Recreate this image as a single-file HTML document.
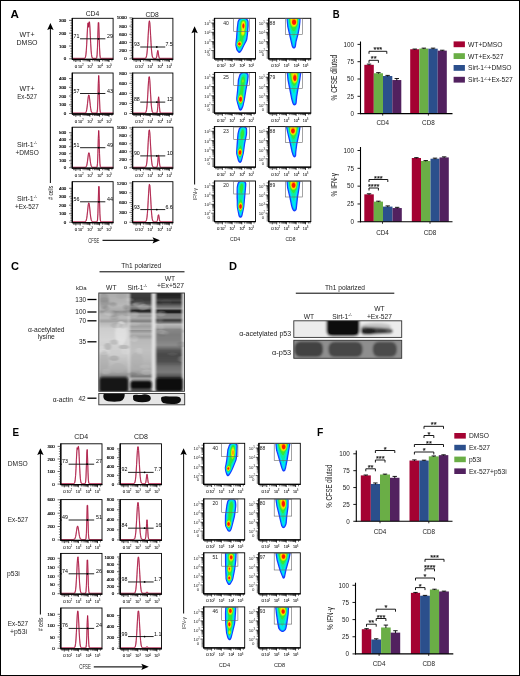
<!DOCTYPE html><html><head><meta charset="utf-8"><style>html,body{margin:0;padding:0;background:#fff}svg{display:block;will-change:transform}text{font-family:"Liberation Sans",sans-serif}</style></head><body><svg width="520" height="676" viewBox="0 0 520 676"><defs><filter id="soft" x="-20%" y="-20%" width="140%" height="140%"><feGaussianBlur stdDeviation="0.45"/></filter><linearGradient id="lg1" x1="0" y1="0" x2="0" y2="1"><stop offset="0" stop-color="#b9b9b9"/><stop offset="0.03" stop-color="#acacac"/><stop offset="0.1" stop-color="#b2b2b2"/><stop offset="0.15" stop-color="#b9b9b9"/><stop offset="0.19" stop-color="#acacac"/><stop offset="0.21" stop-color="#949494"/><stop offset="0.23" stop-color="#b4b4b4"/><stop offset="0.27" stop-color="#bababa"/><stop offset="0.3" stop-color="#a0a0a0"/><stop offset="0.32" stop-color="#bababa"/><stop offset="0.37" stop-color="#cdcdcd"/><stop offset="0.48" stop-color="#d4d4d4"/><stop offset="0.62" stop-color="#cdcdcd"/><stop offset="0.69" stop-color="#c0c0c0"/><stop offset="0.75" stop-color="#b4b4b4"/><stop offset="0.79" stop-color="#a5a5a5"/><stop offset="0.82" stop-color="#8c8c8c"/><stop offset="0.85" stop-color="#787878"/><stop offset="1" stop-color="#787878"/></linearGradient><linearGradient id="lg2" x1="0" y1="0" x2="0" y2="1"><stop offset="0" stop-color="#464646"/><stop offset="0.03" stop-color="#3e3e3e"/><stop offset="0.09" stop-color="#373737"/><stop offset="0.13" stop-color="#505050"/><stop offset="0.16" stop-color="#8c8c8c"/><stop offset="0.18" stop-color="#6e6e6e"/><stop offset="0.2" stop-color="#191919"/><stop offset="0.21" stop-color="#373737"/><stop offset="0.23" stop-color="#a5a5a5"/><stop offset="0.25" stop-color="#969696"/><stop offset="0.27" stop-color="#acacac"/><stop offset="0.3" stop-color="#7d7d7d"/><stop offset="0.32" stop-color="#afafaf"/><stop offset="0.35" stop-color="#a0a0a0"/><stop offset="0.38" stop-color="#afafaf"/><stop offset="0.39" stop-color="#919191"/><stop offset="0.42" stop-color="#b2b2b2"/><stop offset="0.45" stop-color="#a0a0a0"/><stop offset="0.48" stop-color="#b9b9b9"/><stop offset="0.58" stop-color="#c0c0c0"/><stop offset="0.67" stop-color="#b9b9b9"/><stop offset="0.77" stop-color="#aaaaaa"/><stop offset="0.81" stop-color="#919191"/><stop offset="0.83" stop-color="#787878"/><stop offset="0.85" stop-color="#aaaaaa"/><stop offset="0.87" stop-color="#c3c3c3"/><stop offset="1" stop-color="#bebebe"/></linearGradient><linearGradient id="lg3" x1="0" y1="0" x2="0" y2="1"><stop offset="0" stop-color="#282828"/><stop offset="0.03" stop-color="#202020"/><stop offset="0.07" stop-color="#262626"/><stop offset="0.1" stop-color="#464646"/><stop offset="0.12" stop-color="#303030"/><stop offset="0.15" stop-color="#646464"/><stop offset="0.18" stop-color="#8c8c8c"/><stop offset="0.2" stop-color="#141414"/><stop offset="0.22" stop-color="#282828"/><stop offset="0.23" stop-color="#7d7d7d"/><stop offset="0.27" stop-color="#878787"/><stop offset="0.29" stop-color="#373737"/><stop offset="0.31" stop-color="#696969"/><stop offset="0.33" stop-color="#b9b9b9"/><stop offset="0.36" stop-color="#a5a5a5"/><stop offset="0.38" stop-color="#878787"/><stop offset="0.43" stop-color="#7d7d7d"/><stop offset="0.48" stop-color="#808080"/><stop offset="0.53" stop-color="#8c8c8c"/><stop offset="0.58" stop-color="#585858"/><stop offset="0.62" stop-color="#484848"/><stop offset="0.69" stop-color="#505050"/><stop offset="0.74" stop-color="#707070"/><stop offset="0.79" stop-color="#7a7a7a"/><stop offset="0.82" stop-color="#5f5f5f"/><stop offset="0.84" stop-color="#505050"/><stop offset="1" stop-color="#505050"/></linearGradient><filter id="blh" x="-10%" y="-10%" width="120%" height="120%"><feGaussianBlur stdDeviation="1.3 0.55"/></filter><filter id="bl08" x="-20%" y="-20%" width="140%" height="140%"><feGaussianBlur stdDeviation="0.8"/></filter><filter id="bl1" x="-10%" y="-10%" width="120%" height="120%"><feGaussianBlur stdDeviation="1.0"/></filter><filter id="bl2" x="-20%" y="-20%" width="140%" height="140%"><feGaussianBlur stdDeviation="1.3"/></filter><filter id="bl05" x="-20%" y="-20%" width="140%" height="140%"><feGaussianBlur stdDeviation="0.6"/></filter><clipPath id="cpC"><rect x="98.8" y="293" width="85.7" height="98.3"/></clipPath><clipPath id="cpA"><rect x="98.8" y="393.5" width="85.9" height="11.3"/></clipPath><clipPath id="cpD1"><rect x="293.8" y="320.8" width="107.9" height="16.6"/></clipPath><clipPath id="cpD2"><rect x="293.8" y="340.3" width="107.9" height="18"/></clipPath></defs><rect x="0.5" y="0.5" width="519" height="675" fill="#fff" stroke="#000" stroke-width="1"/><text x="10.4" y="17.8" font-size="11.8" font-weight="bold" fill="#000" textLength="8.4" lengthAdjust="spacingAndGlyphs">A</text><text x="332.8" y="17.7" font-size="11.8" font-weight="bold" fill="#000" textLength="6.9" lengthAdjust="spacingAndGlyphs">B</text><text x="11" y="270.1" font-size="11.8" font-weight="bold" fill="#000" textLength="8" lengthAdjust="spacingAndGlyphs">C</text><text x="228.9" y="269.6" font-size="11.8" font-weight="bold" fill="#000" textLength="8" lengthAdjust="spacingAndGlyphs">D</text><text x="12.4" y="436.3" font-size="11.8" font-weight="bold" fill="#000" textLength="6.6" lengthAdjust="spacingAndGlyphs">E</text><text x="316.9" y="436.3" font-size="11.8" font-weight="bold" fill="#000" textLength="6.3" lengthAdjust="spacingAndGlyphs">F</text><polyline points="72.3,58.4 72.7,58.4 73.1,58.4 73.5,58.4 73.9,58.4 74.3,58.4 74.7,58.4 75.1,58.4 75.5,58.4 75.9,58.4 76.3,58.4 76.7,58.4 77.1,58.4 77.5,58.4 77.9,58.4 78.3,58.4 78.7,58.4 79.1,58.4 79.5,58.4 79.9,58.4 80.3,58.4 80.7,58.4 81.1,58.4 81.5,58.4 81.9,58.4 82.3,58.4 82.7,58.4 83.1,58.4 83.5,58.4 83.9,58.39 84.3,58.36 84.7,58.25 85.1,57.9 85.5,56.95 85.9,54.79 86.3,50.69 86.7,44.23 87.1,36.05 87.5,28.1 87.9,23.13 88.3,23.13 88.7,27.11 89.1,21.97 89.5,21.97 89.9,27.11 90.3,35.31 90.7,43.76 91.1,50.43 91.5,54.67 91.9,56.9 92.3,57.88 92.7,58.25 93.1,58.36 93.5,58.39 93.9,58.4 94.3,58.4 94.7,58.4 95.1,58.4 95.5,58.4 95.9,58.39 96.3,58.29 96.7,57.63 97.1,54.82 97.5,47.08 97.9,34.02 98.3,22.63 98.7,22.63 99.1,34.02 99.5,47.08 99.9,54.82 100.3,57.63 100.7,58.29 101.1,58.39 101.5,58.4 101.9,58.4 102.3,58.4 102.7,58.4 103.1,58.4 103.5,58.4 103.9,58.4 104.3,58.4 104.7,58.4 105.1,58.4 105.5,58.4 105.9,58.4 106.3,58.4 106.7,58.4 107.1,58.4 107.5,58.4 107.9,58.4 108.3,58.4 108.7,58.4 109.1,58.4 109.5,58.4 109.9,58.4 110.3,58.4 110.7,58.4 111.1,58.4 111.5,58.4 111.9,58.4 112.3,58.4 112.7,58.4 113.1,58.4" fill="none" stroke="#dc9aac" stroke-width="1.25" stroke-linejoin="round"/><polyline points="72.3,58.4 72.7,58.4 73.1,58.4 73.5,58.4 73.9,58.4 74.3,58.4 74.7,58.4 75.1,58.4 75.5,58.4 75.9,58.4 76.3,58.4 76.7,58.4 77.1,58.4 77.5,58.4 77.9,58.4 78.3,58.4 78.7,58.4 79.1,58.4 79.5,58.4 79.9,58.4 80.3,58.4 80.7,58.4 81.1,58.4 81.5,58.4 81.9,58.4 82.3,58.4 82.7,58.4 83.1,58.4 83.5,58.4 83.9,58.39 84.3,58.36 84.7,58.25 85.1,57.9 85.5,56.95 85.9,54.79 86.3,50.69 86.7,44.23 87.1,36.05 87.5,28.1 87.9,23.13 88.3,23.13 88.7,27.11 89.1,21.97 89.5,21.97 89.9,27.11 90.3,35.31 90.7,43.76 91.1,50.43 91.5,54.67 91.9,56.9 92.3,57.88 92.7,58.25 93.1,58.36 93.5,58.39 93.9,58.4 94.3,58.4 94.7,58.4 95.1,58.4 95.5,58.4 95.9,58.39 96.3,58.29 96.7,57.63 97.1,54.82 97.5,47.08 97.9,34.02 98.3,22.63 98.7,22.63 99.1,34.02 99.5,47.08 99.9,54.82 100.3,57.63 100.7,58.29 101.1,58.39 101.5,58.4 101.9,58.4 102.3,58.4 102.7,58.4 103.1,58.4 103.5,58.4 103.9,58.4 104.3,58.4 104.7,58.4 105.1,58.4 105.5,58.4 105.9,58.4 106.3,58.4 106.7,58.4 107.1,58.4 107.5,58.4 107.9,58.4 108.3,58.4 108.7,58.4 109.1,58.4 109.5,58.4 109.9,58.4 110.3,58.4 110.7,58.4 111.1,58.4 111.5,58.4 111.9,58.4 112.3,58.4 112.7,58.4 113.1,58.4" fill="none" stroke="#a80f3c" stroke-width="0.8" stroke-linejoin="round"/><rect x="72.3" y="18.3" width="40.8" height="41" fill="none" stroke="#000" stroke-width="0.9"/><line x1="72.3" y1="18" x2="72.3" y2="59.6" stroke="#000" stroke-width="1.3"/><line x1="72" y1="59.3" x2="113.4" y2="59.3" stroke="#000" stroke-width="1.3"/><line x1="80.05" y1="38.8" x2="105.35" y2="38.8" stroke="#222" stroke-width="1"/><circle cx="98.5" cy="38.8" r="0.9" fill="#000"/><circle cx="72.7" cy="38.8" r="0.6" fill="#000"/><text x="73.6" y="37.81" font-size="5.3" text-anchor="start" fill="#000">71</text><text x="113" y="37.81" font-size="5.3" text-anchor="end" fill="#000">29</text><text x="66.3" y="60.38" font-size="4.4" text-anchor="end" fill="#000" stroke="#000" stroke-width="0.18">0</text><text x="66.3" y="47.58" font-size="4.4" text-anchor="end" fill="#000" stroke="#000" stroke-width="0.18">100</text><text x="66.3" y="34.78" font-size="4.4" text-anchor="end" fill="#000" stroke="#000" stroke-width="0.18">200</text><text x="66.3" y="21.98" font-size="4.4" text-anchor="end" fill="#000" stroke="#000" stroke-width="0.18">300</text><text x="76.1" y="67.88" font-size="4.4" text-anchor="middle" fill="#111" stroke="#111" stroke-width="0.07">0</text><text x="78" y="67.88" font-size="4.4" text-anchor="start" fill="#111" stroke="#111" stroke-width="0.07" textLength="5.5" lengthAdjust="spacingAndGlyphs">10<tspan font-size="2.73" dy="-1.85">2</tspan></text><text x="87.3" y="67.88" font-size="4.4" text-anchor="start" fill="#111" stroke="#111" stroke-width="0.07" textLength="5.5" lengthAdjust="spacingAndGlyphs">10<tspan font-size="2.73" dy="-1.85">3</tspan></text><text x="97.2" y="67.88" font-size="4.4" text-anchor="start" fill="#111" stroke="#111" stroke-width="0.07" textLength="5.5" lengthAdjust="spacingAndGlyphs">10<tspan font-size="2.73" dy="-1.85">4</tspan></text><text x="106.3" y="67.88" font-size="4.4" text-anchor="start" fill="#111" stroke="#111" stroke-width="0.07" textLength="5.5" lengthAdjust="spacingAndGlyphs">10<tspan font-size="2.73" dy="-1.85">5</tspan></text><polyline points="132.6,58.4 133,58.4 133.4,58.4 133.8,58.4 134.2,58.4 134.6,58.4 135,58.4 135.4,58.4 135.8,58.4 136.2,58.4 136.6,58.4 137,58.4 137.4,58.4 137.8,58.4 138.2,58.4 138.6,58.4 139,58.4 139.4,58.4 139.8,58.4 140.2,58.4 140.6,58.4 141,58.4 141.4,58.4 141.8,58.4 142.2,58.4 142.6,58.4 143,58.4 143.4,58.4 143.8,58.4 144.2,58.4 144.6,58.38 145,58.35 145.4,58.23 145.8,57.93 146.2,57.22 146.6,55.75 147,53.05 147.4,48.7 147.8,42.61 148.2,35.34 148.6,28.18 149,22.85 149.4,20.88 149.8,22.85 150.2,28.18 150.6,35.34 151,42.61 151.4,48.7 151.8,53.05 152.2,55.75 152.6,57.22 153,57.93 153.4,58.23 153.8,58.35 154.2,58.38 154.6,58.4 155,58.4 155.4,58.4 155.8,58.36 156.2,58.15 156.6,57.27 157,55.08 157.4,52.04 157.8,50.5 158.2,52.04 158.6,55.08 159,57.27 159.4,58.15 159.8,58.36 160.2,58.4 160.6,58.4 161,58.4 161.4,58.4 161.8,58.4 162.2,58.4 162.6,58.4 163,58.4 163.4,58.4 163.8,58.4 164.2,58.4 164.6,58.4 165,58.4 165.4,58.4 165.8,58.4 166.2,58.4 166.6,58.4 167,58.4 167.4,58.4 167.8,58.4 168.2,58.4 168.6,58.4 169,58.4 169.4,58.4 169.8,58.4 170.2,58.4 170.6,58.4 171,58.4 171.4,58.4 171.8,58.4 172.2,58.4 172.6,58.4" fill="none" stroke="#dc9aac" stroke-width="1.25" stroke-linejoin="round"/><polyline points="132.6,58.4 133,58.4 133.4,58.4 133.8,58.4 134.2,58.4 134.6,58.4 135,58.4 135.4,58.4 135.8,58.4 136.2,58.4 136.6,58.4 137,58.4 137.4,58.4 137.8,58.4 138.2,58.4 138.6,58.4 139,58.4 139.4,58.4 139.8,58.4 140.2,58.4 140.6,58.4 141,58.4 141.4,58.4 141.8,58.4 142.2,58.4 142.6,58.4 143,58.4 143.4,58.4 143.8,58.4 144.2,58.4 144.6,58.38 145,58.35 145.4,58.23 145.8,57.93 146.2,57.22 146.6,55.75 147,53.05 147.4,48.7 147.8,42.61 148.2,35.34 148.6,28.18 149,22.85 149.4,20.88 149.8,22.85 150.2,28.18 150.6,35.34 151,42.61 151.4,48.7 151.8,53.05 152.2,55.75 152.6,57.22 153,57.93 153.4,58.23 153.8,58.35 154.2,58.38 154.6,58.4 155,58.4 155.4,58.4 155.8,58.36 156.2,58.15 156.6,57.27 157,55.08 157.4,52.04 157.8,50.5 158.2,52.04 158.6,55.08 159,57.27 159.4,58.15 159.8,58.36 160.2,58.4 160.6,58.4 161,58.4 161.4,58.4 161.8,58.4 162.2,58.4 162.6,58.4 163,58.4 163.4,58.4 163.8,58.4 164.2,58.4 164.6,58.4 165,58.4 165.4,58.4 165.8,58.4 166.2,58.4 166.6,58.4 167,58.4 167.4,58.4 167.8,58.4 168.2,58.4 168.6,58.4 169,58.4 169.4,58.4 169.8,58.4 170.2,58.4 170.6,58.4 171,58.4 171.4,58.4 171.8,58.4 172.2,58.4 172.6,58.4" fill="none" stroke="#a80f3c" stroke-width="0.8" stroke-linejoin="round"/><rect x="132.6" y="18.3" width="40.3" height="41" fill="none" stroke="#000" stroke-width="0.9"/><line x1="132.6" y1="18" x2="132.6" y2="59.6" stroke="#000" stroke-width="1.3"/><line x1="132.3" y1="59.3" x2="173.2" y2="59.3" stroke="#000" stroke-width="1.3"/><line x1="140.26" y1="47" x2="165.24" y2="47" stroke="#222" stroke-width="1"/><circle cx="156.8" cy="47" r="0.9" fill="#000"/><circle cx="133" cy="47" r="0.6" fill="#000"/><text x="133.9" y="46.01" font-size="5.3" text-anchor="start" fill="#000">93</text><text x="172.8" y="46.01" font-size="5.3" text-anchor="end" fill="#000">7.5</text><text x="126.6" y="60.38" font-size="4.4" text-anchor="end" fill="#000" stroke="#000" stroke-width="0.18">0</text><text x="126.6" y="52.2" font-size="4.4" text-anchor="end" fill="#000" stroke="#000" stroke-width="0.18">200</text><text x="126.6" y="44.02" font-size="4.4" text-anchor="end" fill="#000" stroke="#000" stroke-width="0.18">400</text><text x="126.6" y="35.84" font-size="4.4" text-anchor="end" fill="#000" stroke="#000" stroke-width="0.18">600</text><text x="126.6" y="27.66" font-size="4.4" text-anchor="end" fill="#000" stroke="#000" stroke-width="0.18">800</text><text x="126.6" y="19.48" font-size="4.4" text-anchor="end" fill="#000" stroke="#000" stroke-width="0.18">1000</text><text x="136.4" y="67.88" font-size="4.4" text-anchor="middle" fill="#111" stroke="#111" stroke-width="0.07">0</text><text x="138.3" y="67.88" font-size="4.4" text-anchor="start" fill="#111" stroke="#111" stroke-width="0.07" textLength="5.5" lengthAdjust="spacingAndGlyphs">10<tspan font-size="2.73" dy="-1.85">2</tspan></text><text x="147.6" y="67.88" font-size="4.4" text-anchor="start" fill="#111" stroke="#111" stroke-width="0.07" textLength="5.5" lengthAdjust="spacingAndGlyphs">10<tspan font-size="2.73" dy="-1.85">3</tspan></text><text x="157.5" y="67.88" font-size="4.4" text-anchor="start" fill="#111" stroke="#111" stroke-width="0.07" textLength="5.5" lengthAdjust="spacingAndGlyphs">10<tspan font-size="2.73" dy="-1.85">4</tspan></text><text x="166.6" y="67.88" font-size="4.4" text-anchor="start" fill="#111" stroke="#111" stroke-width="0.07" textLength="5.5" lengthAdjust="spacingAndGlyphs">10<tspan font-size="2.73" dy="-1.85">5</tspan></text><polyline points="72.3,113.1 72.7,113.1 73.1,113.1 73.5,113.1 73.9,113.1 74.3,113.1 74.7,113.1 75.1,113.1 75.5,113.1 75.9,113.1 76.3,113.1 76.7,113.1 77.1,113.1 77.5,113.1 77.9,113.1 78.3,113.1 78.7,113.1 79.1,113.1 79.5,113.1 79.9,113.1 80.3,113.1 80.7,113.1 81.1,113.1 81.5,113.1 81.9,113.1 82.3,113.1 82.7,113.1 83.1,113.1 83.5,113.1 83.9,113.1 84.3,113.09 84.7,113.07 85.1,113.01 85.5,112.82 85.9,112.39 86.3,111.46 86.7,109.77 87.1,107.12 87.5,103.62 87.9,99.8 88.3,96.6 88.7,95 89.1,95.55 89.5,98.05 89.9,101.69 90.3,105.45 90.7,108.57 91.1,110.73 91.5,112 91.9,112.65 92.3,112.94 92.7,113.05 93.1,113.09 93.5,113.1 93.9,113.1 94.3,113.1 94.7,113.1 95.1,113.1 95.5,113.1 95.9,113.1 96.3,113.09 96.7,113.02 97.1,112.37 97.5,109.01 97.9,99.09 98.3,83.77 98.7,75.57 99.1,83.77 99.5,99.09 99.9,109.01 100.3,112.37 100.7,113.02 101.1,113.09 101.5,113.1 101.9,113.1 102.3,113.1 102.7,113.1 103.1,113.1 103.5,113.1 103.9,113.1 104.3,113.1 104.7,113.1 105.1,113.1 105.5,113.1 105.9,113.1 106.3,113.1 106.7,113.1 107.1,113.1 107.5,113.1 107.9,113.1 108.3,113.1 108.7,113.1 109.1,113.1 109.5,113.1 109.9,113.1 110.3,113.1 110.7,113.1 111.1,113.1 111.5,113.1 111.9,113.1 112.3,113.1 112.7,113.1 113.1,113.1" fill="none" stroke="#dc9aac" stroke-width="1.25" stroke-linejoin="round"/><polyline points="72.3,113.1 72.7,113.1 73.1,113.1 73.5,113.1 73.9,113.1 74.3,113.1 74.7,113.1 75.1,113.1 75.5,113.1 75.9,113.1 76.3,113.1 76.7,113.1 77.1,113.1 77.5,113.1 77.9,113.1 78.3,113.1 78.7,113.1 79.1,113.1 79.5,113.1 79.9,113.1 80.3,113.1 80.7,113.1 81.1,113.1 81.5,113.1 81.9,113.1 82.3,113.1 82.7,113.1 83.1,113.1 83.5,113.1 83.9,113.1 84.3,113.09 84.7,113.07 85.1,113.01 85.5,112.82 85.9,112.39 86.3,111.46 86.7,109.77 87.1,107.12 87.5,103.62 87.9,99.8 88.3,96.6 88.7,95 89.1,95.55 89.5,98.05 89.9,101.69 90.3,105.45 90.7,108.57 91.1,110.73 91.5,112 91.9,112.65 92.3,112.94 92.7,113.05 93.1,113.09 93.5,113.1 93.9,113.1 94.3,113.1 94.7,113.1 95.1,113.1 95.5,113.1 95.9,113.1 96.3,113.09 96.7,113.02 97.1,112.37 97.5,109.01 97.9,99.09 98.3,83.77 98.7,75.57 99.1,83.77 99.5,99.09 99.9,109.01 100.3,112.37 100.7,113.02 101.1,113.09 101.5,113.1 101.9,113.1 102.3,113.1 102.7,113.1 103.1,113.1 103.5,113.1 103.9,113.1 104.3,113.1 104.7,113.1 105.1,113.1 105.5,113.1 105.9,113.1 106.3,113.1 106.7,113.1 107.1,113.1 107.5,113.1 107.9,113.1 108.3,113.1 108.7,113.1 109.1,113.1 109.5,113.1 109.9,113.1 110.3,113.1 110.7,113.1 111.1,113.1 111.5,113.1 111.9,113.1 112.3,113.1 112.7,113.1 113.1,113.1" fill="none" stroke="#a80f3c" stroke-width="0.8" stroke-linejoin="round"/><rect x="72.3" y="73" width="40.8" height="41" fill="none" stroke="#000" stroke-width="0.9"/><line x1="72.3" y1="72.7" x2="72.3" y2="114.3" stroke="#000" stroke-width="1.3"/><line x1="72" y1="114" x2="113.4" y2="114" stroke="#000" stroke-width="1.3"/><line x1="80.05" y1="93.5" x2="105.35" y2="93.5" stroke="#222" stroke-width="1"/><circle cx="98.7" cy="93.5" r="0.9" fill="#000"/><circle cx="72.7" cy="93.5" r="0.6" fill="#000"/><text x="73.6" y="92.51" font-size="5.3" text-anchor="start" fill="#000">57</text><text x="113" y="92.51" font-size="5.3" text-anchor="end" fill="#000">43</text><text x="66.3" y="115.08" font-size="4.4" text-anchor="end" fill="#000" stroke="#000" stroke-width="0.18">0</text><text x="66.3" y="106.36" font-size="4.4" text-anchor="end" fill="#000" stroke="#000" stroke-width="0.18">100</text><text x="66.3" y="97.63" font-size="4.4" text-anchor="end" fill="#000" stroke="#000" stroke-width="0.18">200</text><text x="66.3" y="88.91" font-size="4.4" text-anchor="end" fill="#000" stroke="#000" stroke-width="0.18">300</text><text x="66.3" y="80.18" font-size="4.4" text-anchor="end" fill="#000" stroke="#000" stroke-width="0.18">400</text><text x="76.1" y="122.58" font-size="4.4" text-anchor="middle" fill="#111" stroke="#111" stroke-width="0.07">0</text><text x="78" y="122.58" font-size="4.4" text-anchor="start" fill="#111" stroke="#111" stroke-width="0.07" textLength="5.5" lengthAdjust="spacingAndGlyphs">10<tspan font-size="2.73" dy="-1.85">2</tspan></text><text x="87.3" y="122.58" font-size="4.4" text-anchor="start" fill="#111" stroke="#111" stroke-width="0.07" textLength="5.5" lengthAdjust="spacingAndGlyphs">10<tspan font-size="2.73" dy="-1.85">3</tspan></text><text x="97.2" y="122.58" font-size="4.4" text-anchor="start" fill="#111" stroke="#111" stroke-width="0.07" textLength="5.5" lengthAdjust="spacingAndGlyphs">10<tspan font-size="2.73" dy="-1.85">4</tspan></text><text x="106.3" y="122.58" font-size="4.4" text-anchor="start" fill="#111" stroke="#111" stroke-width="0.07" textLength="5.5" lengthAdjust="spacingAndGlyphs">10<tspan font-size="2.73" dy="-1.85">5</tspan></text><polyline points="132.6,113.1 133,113.1 133.4,113.1 133.8,113.1 134.2,113.1 134.6,113.1 135,113.1 135.4,113.1 135.8,113.1 136.2,113.1 136.6,113.1 137,113.1 137.4,113.1 137.8,113.1 138.2,113.1 138.6,113.1 139,113.1 139.4,113.1 139.8,113.1 140.2,113.1 140.6,113.1 141,113.1 141.4,113.1 141.8,113.1 142.2,113.1 142.6,113.1 143,113.1 143.4,113.1 143.8,113.1 144.2,113.09 144.6,113.07 145,113.01 145.4,112.82 145.8,112.36 146.2,111.35 146.6,109.36 147,105.95 147.4,100.82 147.8,94.17 148.2,86.9 148.6,80.58 149,76.86 149.4,76.86 149.8,80.58 150.2,86.9 150.6,94.17 151,100.82 151.4,105.95 151.8,109.36 152.2,111.35 152.6,112.36 153,112.82 153.4,113.01 153.8,113.07 154.2,113.09 154.6,113.1 155,113.1 155.4,113.1 155.8,113.1 156.2,113.09 156.6,113.03 157,112.59 157.4,110.79 157.8,106.29 158.2,100.06 158.6,96.91 159,100.06 159.4,106.29 159.8,110.79 160.2,112.59 160.6,113.03 161,113.09 161.4,113.1 161.8,113.1 162.2,113.1 162.6,113.1 163,113.1 163.4,113.1 163.8,113.1 164.2,113.1 164.6,113.1 165,113.1 165.4,113.1 165.8,113.1 166.2,113.1 166.6,113.1 167,113.1 167.4,113.1 167.8,113.1 168.2,113.1 168.6,113.1 169,113.1 169.4,113.1 169.8,113.1 170.2,113.1 170.6,113.1 171,113.1 171.4,113.1 171.8,113.1 172.2,113.1 172.6,113.1" fill="none" stroke="#dc9aac" stroke-width="1.25" stroke-linejoin="round"/><polyline points="132.6,113.1 133,113.1 133.4,113.1 133.8,113.1 134.2,113.1 134.6,113.1 135,113.1 135.4,113.1 135.8,113.1 136.2,113.1 136.6,113.1 137,113.1 137.4,113.1 137.8,113.1 138.2,113.1 138.6,113.1 139,113.1 139.4,113.1 139.8,113.1 140.2,113.1 140.6,113.1 141,113.1 141.4,113.1 141.8,113.1 142.2,113.1 142.6,113.1 143,113.1 143.4,113.1 143.8,113.1 144.2,113.09 144.6,113.07 145,113.01 145.4,112.82 145.8,112.36 146.2,111.35 146.6,109.36 147,105.95 147.4,100.82 147.8,94.17 148.2,86.9 148.6,80.58 149,76.86 149.4,76.86 149.8,80.58 150.2,86.9 150.6,94.17 151,100.82 151.4,105.95 151.8,109.36 152.2,111.35 152.6,112.36 153,112.82 153.4,113.01 153.8,113.07 154.2,113.09 154.6,113.1 155,113.1 155.4,113.1 155.8,113.1 156.2,113.09 156.6,113.03 157,112.59 157.4,110.79 157.8,106.29 158.2,100.06 158.6,96.91 159,100.06 159.4,106.29 159.8,110.79 160.2,112.59 160.6,113.03 161,113.09 161.4,113.1 161.8,113.1 162.2,113.1 162.6,113.1 163,113.1 163.4,113.1 163.8,113.1 164.2,113.1 164.6,113.1 165,113.1 165.4,113.1 165.8,113.1 166.2,113.1 166.6,113.1 167,113.1 167.4,113.1 167.8,113.1 168.2,113.1 168.6,113.1 169,113.1 169.4,113.1 169.8,113.1 170.2,113.1 170.6,113.1 171,113.1 171.4,113.1 171.8,113.1 172.2,113.1 172.6,113.1" fill="none" stroke="#a80f3c" stroke-width="0.8" stroke-linejoin="round"/><rect x="132.6" y="73" width="40.3" height="41" fill="none" stroke="#000" stroke-width="0.9"/><line x1="132.6" y1="72.7" x2="132.6" y2="114.3" stroke="#000" stroke-width="1.3"/><line x1="132.3" y1="114" x2="173.2" y2="114" stroke="#000" stroke-width="1.3"/><line x1="140.26" y1="102.11" x2="165.24" y2="102.11" stroke="#222" stroke-width="1"/><circle cx="156.8" cy="102.11" r="0.9" fill="#000"/><circle cx="133" cy="102.11" r="0.6" fill="#000"/><text x="133.9" y="101.12" font-size="5.3" text-anchor="start" fill="#000">88</text><text x="172.8" y="101.12" font-size="5.3" text-anchor="end" fill="#000">12</text><text x="126.6" y="115.08" font-size="4.4" text-anchor="end" fill="#000" stroke="#000" stroke-width="0.18">0</text><text x="126.6" y="105.01" font-size="4.4" text-anchor="end" fill="#000" stroke="#000" stroke-width="0.18">200</text><text x="126.6" y="94.93" font-size="4.4" text-anchor="end" fill="#000" stroke="#000" stroke-width="0.18">400</text><text x="126.6" y="84.86" font-size="4.4" text-anchor="end" fill="#000" stroke="#000" stroke-width="0.18">600</text><text x="126.6" y="74.78" font-size="4.4" text-anchor="end" fill="#000" stroke="#000" stroke-width="0.18">800</text><text x="136.4" y="122.58" font-size="4.4" text-anchor="middle" fill="#111" stroke="#111" stroke-width="0.07">0</text><text x="138.3" y="122.58" font-size="4.4" text-anchor="start" fill="#111" stroke="#111" stroke-width="0.07" textLength="5.5" lengthAdjust="spacingAndGlyphs">10<tspan font-size="2.73" dy="-1.85">2</tspan></text><text x="147.6" y="122.58" font-size="4.4" text-anchor="start" fill="#111" stroke="#111" stroke-width="0.07" textLength="5.5" lengthAdjust="spacingAndGlyphs">10<tspan font-size="2.73" dy="-1.85">3</tspan></text><text x="157.5" y="122.58" font-size="4.4" text-anchor="start" fill="#111" stroke="#111" stroke-width="0.07" textLength="5.5" lengthAdjust="spacingAndGlyphs">10<tspan font-size="2.73" dy="-1.85">4</tspan></text><text x="166.6" y="122.58" font-size="4.4" text-anchor="start" fill="#111" stroke="#111" stroke-width="0.07" textLength="5.5" lengthAdjust="spacingAndGlyphs">10<tspan font-size="2.73" dy="-1.85">5</tspan></text><polyline points="72.3,167.3 72.7,167.3 73.1,167.3 73.5,167.3 73.9,167.3 74.3,167.3 74.7,167.3 75.1,167.3 75.5,167.3 75.9,167.3 76.3,167.3 76.7,167.3 77.1,167.3 77.5,167.3 77.9,167.3 78.3,167.3 78.7,167.3 79.1,167.3 79.5,167.3 79.9,167.3 80.3,167.3 80.7,167.3 81.1,167.3 81.5,167.3 81.9,167.3 82.3,167.3 82.7,167.3 83.1,167.3 83.5,167.3 83.9,167.3 84.3,167.3 84.7,167.29 85.1,167.28 85.5,167.21 85.9,167.03 86.3,166.56 86.7,165.58 87.1,163.81 87.5,161.15 87.9,157.9 88.3,154.83 88.7,152.94 89.1,152.94 89.5,154.83 89.9,157.9 90.3,161.15 90.7,163.81 91.1,165.58 91.5,166.56 91.9,167.03 92.3,167.21 92.7,167.28 93.1,167.29 93.5,167.3 93.9,167.3 94.3,167.3 94.7,167.3 95.1,167.3 95.5,167.3 95.9,167.3 96.3,167.29 96.7,167.22 97.1,166.59 97.5,163.29 97.9,153.58 98.3,138.58 98.7,130.56 99.1,138.58 99.5,153.58 99.9,163.29 100.3,166.59 100.7,167.22 101.1,167.29 101.5,167.3 101.9,167.3 102.3,167.3 102.7,167.3 103.1,167.3 103.5,167.3 103.9,167.3 104.3,167.3 104.7,167.3 105.1,167.3 105.5,167.3 105.9,167.3 106.3,167.3 106.7,167.3 107.1,167.3 107.5,167.3 107.9,167.3 108.3,167.3 108.7,167.3 109.1,167.3 109.5,167.3 109.9,167.3 110.3,167.3 110.7,167.3 111.1,167.3 111.5,167.3 111.9,167.3 112.3,167.3 112.7,167.3 113.1,167.3" fill="none" stroke="#dc9aac" stroke-width="1.25" stroke-linejoin="round"/><polyline points="72.3,167.3 72.7,167.3 73.1,167.3 73.5,167.3 73.9,167.3 74.3,167.3 74.7,167.3 75.1,167.3 75.5,167.3 75.9,167.3 76.3,167.3 76.7,167.3 77.1,167.3 77.5,167.3 77.9,167.3 78.3,167.3 78.7,167.3 79.1,167.3 79.5,167.3 79.9,167.3 80.3,167.3 80.7,167.3 81.1,167.3 81.5,167.3 81.9,167.3 82.3,167.3 82.7,167.3 83.1,167.3 83.5,167.3 83.9,167.3 84.3,167.3 84.7,167.29 85.1,167.28 85.5,167.21 85.9,167.03 86.3,166.56 86.7,165.58 87.1,163.81 87.5,161.15 87.9,157.9 88.3,154.83 88.7,152.94 89.1,152.94 89.5,154.83 89.9,157.9 90.3,161.15 90.7,163.81 91.1,165.58 91.5,166.56 91.9,167.03 92.3,167.21 92.7,167.28 93.1,167.29 93.5,167.3 93.9,167.3 94.3,167.3 94.7,167.3 95.1,167.3 95.5,167.3 95.9,167.3 96.3,167.29 96.7,167.22 97.1,166.59 97.5,163.29 97.9,153.58 98.3,138.58 98.7,130.56 99.1,138.58 99.5,153.58 99.9,163.29 100.3,166.59 100.7,167.22 101.1,167.29 101.5,167.3 101.9,167.3 102.3,167.3 102.7,167.3 103.1,167.3 103.5,167.3 103.9,167.3 104.3,167.3 104.7,167.3 105.1,167.3 105.5,167.3 105.9,167.3 106.3,167.3 106.7,167.3 107.1,167.3 107.5,167.3 107.9,167.3 108.3,167.3 108.7,167.3 109.1,167.3 109.5,167.3 109.9,167.3 110.3,167.3 110.7,167.3 111.1,167.3 111.5,167.3 111.9,167.3 112.3,167.3 112.7,167.3 113.1,167.3" fill="none" stroke="#a80f3c" stroke-width="0.8" stroke-linejoin="round"/><rect x="72.3" y="127.2" width="40.8" height="41" fill="none" stroke="#000" stroke-width="0.9"/><line x1="72.3" y1="126.9" x2="72.3" y2="168.5" stroke="#000" stroke-width="1.3"/><line x1="72" y1="168.2" x2="113.4" y2="168.2" stroke="#000" stroke-width="1.3"/><line x1="80.05" y1="147.7" x2="105.35" y2="147.7" stroke="#222" stroke-width="1"/><circle cx="98.7" cy="147.7" r="0.9" fill="#000"/><circle cx="72.7" cy="147.7" r="0.6" fill="#000"/><text x="73.6" y="146.71" font-size="5.3" text-anchor="start" fill="#000">51</text><text x="113" y="146.71" font-size="5.3" text-anchor="end" fill="#000">49</text><text x="66.3" y="169.28" font-size="4.4" text-anchor="end" fill="#000" stroke="#000" stroke-width="0.18">0</text><text x="66.3" y="162.28" font-size="4.4" text-anchor="end" fill="#000" stroke="#000" stroke-width="0.18">100</text><text x="66.3" y="155.28" font-size="4.4" text-anchor="end" fill="#000" stroke="#000" stroke-width="0.18">200</text><text x="66.3" y="148.28" font-size="4.4" text-anchor="end" fill="#000" stroke="#000" stroke-width="0.18">300</text><text x="66.3" y="141.28" font-size="4.4" text-anchor="end" fill="#000" stroke="#000" stroke-width="0.18">400</text><text x="66.3" y="134.28" font-size="4.4" text-anchor="end" fill="#000" stroke="#000" stroke-width="0.18">500</text><text x="76.1" y="176.78" font-size="4.4" text-anchor="middle" fill="#111" stroke="#111" stroke-width="0.07">0</text><text x="78" y="176.78" font-size="4.4" text-anchor="start" fill="#111" stroke="#111" stroke-width="0.07" textLength="5.5" lengthAdjust="spacingAndGlyphs">10<tspan font-size="2.73" dy="-1.85">2</tspan></text><text x="87.3" y="176.78" font-size="4.4" text-anchor="start" fill="#111" stroke="#111" stroke-width="0.07" textLength="5.5" lengthAdjust="spacingAndGlyphs">10<tspan font-size="2.73" dy="-1.85">3</tspan></text><text x="97.2" y="176.78" font-size="4.4" text-anchor="start" fill="#111" stroke="#111" stroke-width="0.07" textLength="5.5" lengthAdjust="spacingAndGlyphs">10<tspan font-size="2.73" dy="-1.85">4</tspan></text><text x="106.3" y="176.78" font-size="4.4" text-anchor="start" fill="#111" stroke="#111" stroke-width="0.07" textLength="5.5" lengthAdjust="spacingAndGlyphs">10<tspan font-size="2.73" dy="-1.85">5</tspan></text><polyline points="132.6,167.3 133,167.3 133.4,167.3 133.8,167.3 134.2,167.3 134.6,167.3 135,167.3 135.4,167.3 135.8,167.3 136.2,167.3 136.6,167.3 137,167.3 137.4,167.3 137.8,167.3 138.2,167.3 138.6,167.3 139,167.3 139.4,167.3 139.8,167.3 140.2,167.3 140.6,167.3 141,167.3 141.4,167.3 141.8,167.3 142.2,167.3 142.6,167.3 143,167.3 143.4,167.3 143.8,167.3 144.2,167.29 144.6,167.28 145,167.23 145.4,167.08 145.8,166.7 146.2,165.84 146.6,164.11 147,161.03 147.4,156.23 147.8,149.77 148.2,142.38 148.6,135.5 149,130.9 149.4,129.9 149.8,132.82 150.2,138.77 150.6,146.11 151,153.18 151.4,158.85 151.8,162.77 152.2,165.12 152.6,166.36 153,166.93 153.4,167.17 153.8,167.26 154.2,167.29 154.6,167.3 155,167.3 155.4,167.3 155.8,167.3 156.2,167.29 156.6,167.25 157,166.92 157.4,165.55 157.8,162.15 158.2,157.44 158.6,155.05 159,157.44 159.4,162.15 159.8,165.55 160.2,166.92 160.6,167.25 161,167.29 161.4,167.3 161.8,167.3 162.2,167.3 162.6,167.3 163,167.3 163.4,167.3 163.8,167.3 164.2,167.3 164.6,167.3 165,167.3 165.4,167.3 165.8,167.3 166.2,167.3 166.6,167.3 167,167.3 167.4,167.3 167.8,167.3 168.2,167.3 168.6,167.3 169,167.3 169.4,167.3 169.8,167.3 170.2,167.3 170.6,167.3 171,167.3 171.4,167.3 171.8,167.3 172.2,167.3 172.6,167.3" fill="none" stroke="#dc9aac" stroke-width="1.25" stroke-linejoin="round"/><polyline points="132.6,167.3 133,167.3 133.4,167.3 133.8,167.3 134.2,167.3 134.6,167.3 135,167.3 135.4,167.3 135.8,167.3 136.2,167.3 136.6,167.3 137,167.3 137.4,167.3 137.8,167.3 138.2,167.3 138.6,167.3 139,167.3 139.4,167.3 139.8,167.3 140.2,167.3 140.6,167.3 141,167.3 141.4,167.3 141.8,167.3 142.2,167.3 142.6,167.3 143,167.3 143.4,167.3 143.8,167.3 144.2,167.29 144.6,167.28 145,167.23 145.4,167.08 145.8,166.7 146.2,165.84 146.6,164.11 147,161.03 147.4,156.23 147.8,149.77 148.2,142.38 148.6,135.5 149,130.9 149.4,129.9 149.8,132.82 150.2,138.77 150.6,146.11 151,153.18 151.4,158.85 151.8,162.77 152.2,165.12 152.6,166.36 153,166.93 153.4,167.17 153.8,167.26 154.2,167.29 154.6,167.3 155,167.3 155.4,167.3 155.8,167.3 156.2,167.29 156.6,167.25 157,166.92 157.4,165.55 157.8,162.15 158.2,157.44 158.6,155.05 159,157.44 159.4,162.15 159.8,165.55 160.2,166.92 160.6,167.25 161,167.29 161.4,167.3 161.8,167.3 162.2,167.3 162.6,167.3 163,167.3 163.4,167.3 163.8,167.3 164.2,167.3 164.6,167.3 165,167.3 165.4,167.3 165.8,167.3 166.2,167.3 166.6,167.3 167,167.3 167.4,167.3 167.8,167.3 168.2,167.3 168.6,167.3 169,167.3 169.4,167.3 169.8,167.3 170.2,167.3 170.6,167.3 171,167.3 171.4,167.3 171.8,167.3 172.2,167.3 172.6,167.3" fill="none" stroke="#a80f3c" stroke-width="0.8" stroke-linejoin="round"/><rect x="132.6" y="127.2" width="40.3" height="41" fill="none" stroke="#000" stroke-width="0.9"/><line x1="132.6" y1="126.9" x2="132.6" y2="168.5" stroke="#000" stroke-width="1.3"/><line x1="132.3" y1="168.2" x2="173.2" y2="168.2" stroke="#000" stroke-width="1.3"/><line x1="140.26" y1="155.9" x2="165.24" y2="155.9" stroke="#222" stroke-width="1"/><circle cx="156.8" cy="155.9" r="0.9" fill="#000"/><circle cx="133" cy="155.9" r="0.6" fill="#000"/><text x="133.9" y="154.91" font-size="5.3" text-anchor="start" fill="#000">90</text><text x="172.8" y="154.91" font-size="5.3" text-anchor="end" fill="#000">10</text><text x="126.6" y="169.28" font-size="4.4" text-anchor="end" fill="#000" stroke="#000" stroke-width="0.18">0</text><text x="126.6" y="161.32" font-size="4.4" text-anchor="end" fill="#000" stroke="#000" stroke-width="0.18">200</text><text x="126.6" y="153.36" font-size="4.4" text-anchor="end" fill="#000" stroke="#000" stroke-width="0.18">400</text><text x="126.6" y="145.4" font-size="4.4" text-anchor="end" fill="#000" stroke="#000" stroke-width="0.18">600</text><text x="126.6" y="137.44" font-size="4.4" text-anchor="end" fill="#000" stroke="#000" stroke-width="0.18">800</text><text x="126.6" y="129.48" font-size="4.4" text-anchor="end" fill="#000" stroke="#000" stroke-width="0.18">1000</text><text x="136.4" y="176.78" font-size="4.4" text-anchor="middle" fill="#111" stroke="#111" stroke-width="0.07">0</text><text x="138.3" y="176.78" font-size="4.4" text-anchor="start" fill="#111" stroke="#111" stroke-width="0.07" textLength="5.5" lengthAdjust="spacingAndGlyphs">10<tspan font-size="2.73" dy="-1.85">2</tspan></text><text x="147.6" y="176.78" font-size="4.4" text-anchor="start" fill="#111" stroke="#111" stroke-width="0.07" textLength="5.5" lengthAdjust="spacingAndGlyphs">10<tspan font-size="2.73" dy="-1.85">3</tspan></text><text x="157.5" y="176.78" font-size="4.4" text-anchor="start" fill="#111" stroke="#111" stroke-width="0.07" textLength="5.5" lengthAdjust="spacingAndGlyphs">10<tspan font-size="2.73" dy="-1.85">4</tspan></text><text x="166.6" y="176.78" font-size="4.4" text-anchor="start" fill="#111" stroke="#111" stroke-width="0.07" textLength="5.5" lengthAdjust="spacingAndGlyphs">10<tspan font-size="2.73" dy="-1.85">5</tspan></text><polyline points="72.3,221.8 72.7,221.8 73.1,221.8 73.5,221.8 73.9,221.8 74.3,221.8 74.7,221.8 75.1,221.8 75.5,221.8 75.9,221.8 76.3,221.8 76.7,221.8 77.1,221.8 77.5,221.8 77.9,221.8 78.3,221.8 78.7,221.8 79.1,221.8 79.5,221.8 79.9,221.8 80.3,221.8 80.7,221.8 81.1,221.8 81.5,221.8 81.9,221.8 82.3,221.8 82.7,221.8 83.1,221.8 83.5,221.8 83.9,221.8 84.3,221.79 84.7,221.77 85.1,221.7 85.5,221.51 85.9,221.05 86.3,220.09 86.7,218.32 87.1,215.56 87.5,211.9 87.9,207.92 88.3,204.58 88.7,202.91 89.1,203.49 89.5,206.1 89.9,209.9 90.3,213.82 90.7,217.07 91.1,219.32 91.5,220.65 91.9,221.33 92.3,221.63 92.7,221.75 93.1,221.78 93.5,221.8 93.9,221.8 94.3,221.8 94.7,221.8 95.1,221.8 95.5,221.8 95.9,221.8 96.3,221.8 96.7,221.78 97.1,221.54 97.5,219.96 97.9,213.75 98.3,200.24 98.7,186.52 99.1,186.52 99.5,200.24 99.9,213.75 100.3,219.96 100.7,221.54 101.1,221.78 101.5,221.8 101.9,221.8 102.3,221.8 102.7,221.8 103.1,221.8 103.5,221.8 103.9,221.8 104.3,221.8 104.7,221.8 105.1,221.8 105.5,221.8 105.9,221.8 106.3,221.8 106.7,221.8 107.1,221.8 107.5,221.8 107.9,221.8 108.3,221.8 108.7,221.8 109.1,221.8 109.5,221.8 109.9,221.8 110.3,221.8 110.7,221.8 111.1,221.8 111.5,221.8 111.9,221.8 112.3,221.8 112.7,221.8 113.1,221.8" fill="none" stroke="#dc9aac" stroke-width="1.25" stroke-linejoin="round"/><polyline points="72.3,221.8 72.7,221.8 73.1,221.8 73.5,221.8 73.9,221.8 74.3,221.8 74.7,221.8 75.1,221.8 75.5,221.8 75.9,221.8 76.3,221.8 76.7,221.8 77.1,221.8 77.5,221.8 77.9,221.8 78.3,221.8 78.7,221.8 79.1,221.8 79.5,221.8 79.9,221.8 80.3,221.8 80.7,221.8 81.1,221.8 81.5,221.8 81.9,221.8 82.3,221.8 82.7,221.8 83.1,221.8 83.5,221.8 83.9,221.8 84.3,221.79 84.7,221.77 85.1,221.7 85.5,221.51 85.9,221.05 86.3,220.09 86.7,218.32 87.1,215.56 87.5,211.9 87.9,207.92 88.3,204.58 88.7,202.91 89.1,203.49 89.5,206.1 89.9,209.9 90.3,213.82 90.7,217.07 91.1,219.32 91.5,220.65 91.9,221.33 92.3,221.63 92.7,221.75 93.1,221.78 93.5,221.8 93.9,221.8 94.3,221.8 94.7,221.8 95.1,221.8 95.5,221.8 95.9,221.8 96.3,221.8 96.7,221.78 97.1,221.54 97.5,219.96 97.9,213.75 98.3,200.24 98.7,186.52 99.1,186.52 99.5,200.24 99.9,213.75 100.3,219.96 100.7,221.54 101.1,221.78 101.5,221.8 101.9,221.8 102.3,221.8 102.7,221.8 103.1,221.8 103.5,221.8 103.9,221.8 104.3,221.8 104.7,221.8 105.1,221.8 105.5,221.8 105.9,221.8 106.3,221.8 106.7,221.8 107.1,221.8 107.5,221.8 107.9,221.8 108.3,221.8 108.7,221.8 109.1,221.8 109.5,221.8 109.9,221.8 110.3,221.8 110.7,221.8 111.1,221.8 111.5,221.8 111.9,221.8 112.3,221.8 112.7,221.8 113.1,221.8" fill="none" stroke="#a80f3c" stroke-width="0.8" stroke-linejoin="round"/><rect x="72.3" y="181.7" width="40.8" height="41" fill="none" stroke="#000" stroke-width="0.9"/><line x1="72.3" y1="181.4" x2="72.3" y2="223" stroke="#000" stroke-width="1.3"/><line x1="72" y1="222.7" x2="113.4" y2="222.7" stroke="#000" stroke-width="1.3"/><line x1="80.05" y1="201.79" x2="105.35" y2="201.79" stroke="#222" stroke-width="1"/><circle cx="98.9" cy="201.79" r="0.9" fill="#000"/><circle cx="72.7" cy="201.79" r="0.6" fill="#000"/><text x="73.6" y="200.8" font-size="5.3" text-anchor="start" fill="#000">56</text><text x="113" y="200.8" font-size="5.3" text-anchor="end" fill="#000">44</text><text x="66.3" y="223.78" font-size="4.4" text-anchor="end" fill="#000" stroke="#000" stroke-width="0.18">0</text><text x="66.3" y="215.31" font-size="4.4" text-anchor="end" fill="#000" stroke="#000" stroke-width="0.18">100</text><text x="66.3" y="206.83" font-size="4.4" text-anchor="end" fill="#000" stroke="#000" stroke-width="0.18">200</text><text x="66.3" y="198.36" font-size="4.4" text-anchor="end" fill="#000" stroke="#000" stroke-width="0.18">300</text><text x="66.3" y="189.88" font-size="4.4" text-anchor="end" fill="#000" stroke="#000" stroke-width="0.18">400</text><text x="76.1" y="231.28" font-size="4.4" text-anchor="middle" fill="#111" stroke="#111" stroke-width="0.07">0</text><text x="78" y="231.28" font-size="4.4" text-anchor="start" fill="#111" stroke="#111" stroke-width="0.07" textLength="5.5" lengthAdjust="spacingAndGlyphs">10<tspan font-size="2.73" dy="-1.85">2</tspan></text><text x="87.3" y="231.28" font-size="4.4" text-anchor="start" fill="#111" stroke="#111" stroke-width="0.07" textLength="5.5" lengthAdjust="spacingAndGlyphs">10<tspan font-size="2.73" dy="-1.85">3</tspan></text><text x="97.2" y="231.28" font-size="4.4" text-anchor="start" fill="#111" stroke="#111" stroke-width="0.07" textLength="5.5" lengthAdjust="spacingAndGlyphs">10<tspan font-size="2.73" dy="-1.85">4</tspan></text><text x="106.3" y="231.28" font-size="4.4" text-anchor="start" fill="#111" stroke="#111" stroke-width="0.07" textLength="5.5" lengthAdjust="spacingAndGlyphs">10<tspan font-size="2.73" dy="-1.85">5</tspan></text><polyline points="132.6,221.8 133,221.8 133.4,221.8 133.8,221.8 134.2,221.8 134.6,221.8 135,221.8 135.4,221.8 135.8,221.8 136.2,221.8 136.6,221.8 137,221.8 137.4,221.8 137.8,221.8 138.2,221.8 138.6,221.8 139,221.8 139.4,221.8 139.8,221.8 140.2,221.8 140.6,221.8 141,221.8 141.4,221.8 141.8,221.8 142.2,221.8 142.6,221.8 143,221.8 143.4,221.8 143.8,221.8 144.2,221.8 144.6,221.79 145,221.76 145.4,221.67 145.8,221.43 146.2,220.86 146.6,219.62 147,217.27 147.4,213.35 147.8,207.68 148.2,200.61 148.6,193.27 149,187.32 149.4,184.4 149.8,185.4 150.2,190 150.6,196.88 151,204.27 151.4,210.73 151.8,215.53 152.2,218.61 152.6,220.34 153,221.2 153.4,221.58 153.8,221.73 154.2,221.78 154.6,221.79 155,221.8 155.4,221.8 155.8,221.8 156.2,221.79 156.6,221.75 157,221.46 157.4,220.42 157.8,218.14 158.2,215.5 158.6,214.79 159,216.73 159.4,219.42 159.8,221.08 160.2,221.66 160.6,221.78 161,221.8 161.4,221.8 161.8,221.8 162.2,221.8 162.6,221.8 163,221.8 163.4,221.8 163.8,221.8 164.2,221.8 164.6,221.8 165,221.8 165.4,221.8 165.8,221.8 166.2,221.8 166.6,221.8 167,221.8 167.4,221.8 167.8,221.8 168.2,221.8 168.6,221.8 169,221.8 169.4,221.8 169.8,221.8 170.2,221.8 170.6,221.8 171,221.8 171.4,221.8 171.8,221.8 172.2,221.8 172.6,221.8" fill="none" stroke="#dc9aac" stroke-width="1.25" stroke-linejoin="round"/><polyline points="132.6,221.8 133,221.8 133.4,221.8 133.8,221.8 134.2,221.8 134.6,221.8 135,221.8 135.4,221.8 135.8,221.8 136.2,221.8 136.6,221.8 137,221.8 137.4,221.8 137.8,221.8 138.2,221.8 138.6,221.8 139,221.8 139.4,221.8 139.8,221.8 140.2,221.8 140.6,221.8 141,221.8 141.4,221.8 141.8,221.8 142.2,221.8 142.6,221.8 143,221.8 143.4,221.8 143.8,221.8 144.2,221.8 144.6,221.79 145,221.76 145.4,221.67 145.8,221.43 146.2,220.86 146.6,219.62 147,217.27 147.4,213.35 147.8,207.68 148.2,200.61 148.6,193.27 149,187.32 149.4,184.4 149.8,185.4 150.2,190 150.6,196.88 151,204.27 151.4,210.73 151.8,215.53 152.2,218.61 152.6,220.34 153,221.2 153.4,221.58 153.8,221.73 154.2,221.78 154.6,221.79 155,221.8 155.4,221.8 155.8,221.8 156.2,221.79 156.6,221.75 157,221.46 157.4,220.42 157.8,218.14 158.2,215.5 158.6,214.79 159,216.73 159.4,219.42 159.8,221.08 160.2,221.66 160.6,221.78 161,221.8 161.4,221.8 161.8,221.8 162.2,221.8 162.6,221.8 163,221.8 163.4,221.8 163.8,221.8 164.2,221.8 164.6,221.8 165,221.8 165.4,221.8 165.8,221.8 166.2,221.8 166.6,221.8 167,221.8 167.4,221.8 167.8,221.8 168.2,221.8 168.6,221.8 169,221.8 169.4,221.8 169.8,221.8 170.2,221.8 170.6,221.8 171,221.8 171.4,221.8 171.8,221.8 172.2,221.8 172.6,221.8" fill="none" stroke="#a80f3c" stroke-width="0.8" stroke-linejoin="round"/><rect x="132.6" y="181.7" width="40.3" height="41" fill="none" stroke="#000" stroke-width="0.9"/><line x1="132.6" y1="181.4" x2="132.6" y2="223" stroke="#000" stroke-width="1.3"/><line x1="132.3" y1="222.7" x2="173.2" y2="222.7" stroke="#000" stroke-width="1.3"/><line x1="140.26" y1="209.58" x2="165.24" y2="209.58" stroke="#222" stroke-width="1"/><circle cx="156.8" cy="209.58" r="0.9" fill="#000"/><circle cx="133" cy="209.58" r="0.6" fill="#000"/><text x="133.9" y="208.59" font-size="5.3" text-anchor="start" fill="#000">93</text><text x="172.8" y="208.59" font-size="5.3" text-anchor="end" fill="#000">6.6</text><text x="126.6" y="223.78" font-size="4.4" text-anchor="end" fill="#000" stroke="#000" stroke-width="0.18">0</text><text x="126.6" y="213.98" font-size="4.4" text-anchor="end" fill="#000" stroke="#000" stroke-width="0.18">300</text><text x="126.6" y="204.18" font-size="4.4" text-anchor="end" fill="#000" stroke="#000" stroke-width="0.18">600</text><text x="126.6" y="194.38" font-size="4.4" text-anchor="end" fill="#000" stroke="#000" stroke-width="0.18">900</text><text x="126.6" y="184.58" font-size="4.4" text-anchor="end" fill="#000" stroke="#000" stroke-width="0.18">1200</text><text x="136.4" y="231.28" font-size="4.4" text-anchor="middle" fill="#111" stroke="#111" stroke-width="0.07">0</text><text x="138.3" y="231.28" font-size="4.4" text-anchor="start" fill="#111" stroke="#111" stroke-width="0.07" textLength="5.5" lengthAdjust="spacingAndGlyphs">10<tspan font-size="2.73" dy="-1.85">2</tspan></text><text x="147.6" y="231.28" font-size="4.4" text-anchor="start" fill="#111" stroke="#111" stroke-width="0.07" textLength="5.5" lengthAdjust="spacingAndGlyphs">10<tspan font-size="2.73" dy="-1.85">3</tspan></text><text x="157.5" y="231.28" font-size="4.4" text-anchor="start" fill="#111" stroke="#111" stroke-width="0.07" textLength="5.5" lengthAdjust="spacingAndGlyphs">10<tspan font-size="2.73" dy="-1.85">4</tspan></text><text x="166.6" y="231.28" font-size="4.4" text-anchor="start" fill="#111" stroke="#111" stroke-width="0.07" textLength="5.5" lengthAdjust="spacingAndGlyphs">10<tspan font-size="2.73" dy="-1.85">5</tspan></text><text x="92.5" y="16.21" font-size="6.7" text-anchor="middle" fill="#222" textLength="13.6" lengthAdjust="spacingAndGlyphs">CD4</text><text x="152.1" y="16.91" font-size="6.7" text-anchor="middle" fill="#222" textLength="13.4" lengthAdjust="spacingAndGlyphs">CD8</text><text x="27" y="37.02" font-size="7" text-anchor="middle" fill="#222">WT+</text><text x="27" y="45.22" font-size="7" text-anchor="middle" fill="#222">DMSO</text><text x="27" y="91.32" font-size="7" text-anchor="middle" fill="#222">WT+</text><text x="27" y="98.92" font-size="7" text-anchor="middle" fill="#222" textLength="19.7" lengthAdjust="spacingAndGlyphs">Ex-527</text><text x="27" y="146.8" font-size="7" text-anchor="middle" fill="#222">Sirt-1<tspan font-size="3.6" dy="-2.6">-/-</tspan></text><text x="27.1" y="155.32" font-size="7" text-anchor="middle" fill="#222" textLength="23.4" lengthAdjust="spacingAndGlyphs">+DMSO</text><text x="27" y="200.8" font-size="7" text-anchor="middle" fill="#222">Sirt-1<tspan font-size="3.6" dy="-2.6">-/-</tspan></text><text x="26.9" y="209.22" font-size="7" text-anchor="middle" fill="#222" textLength="23.8" lengthAdjust="spacingAndGlyphs">+Ex-527</text><line x1="50.4" y1="28.1" x2="50.4" y2="183" stroke="#111" stroke-width="1.05"/><path d="M50.4,23.1L47.2,30L50.4,28.7L53.6,30Z" fill="#000"/><text transform="translate(52.8,192.8) rotate(-90)" font-size="7.4" text-anchor="middle" fill="#222" textLength="13.7" lengthAdjust="spacingAndGlyphs"># cells</text><text x="93.75" y="242.66" font-size="7.4" text-anchor="middle" fill="#222" textLength="11.1" lengthAdjust="spacingAndGlyphs">CFSE</text><line x1="102.5" y1="240.3" x2="155" y2="240.3" stroke="#222" stroke-width="1.2"/><path d="M160,240.3L152.5,237.15L154,240.3L152.5,243.45Z" fill="#000"/><g filter="url(#soft)"><path d="M240.0,52.8L239.2,53.0L238.5,52.7L236.6,50.5L236.1,49.3L235.3,45.3L235.4,43.3L236.0,37.5L236.6,28.8L237.4,22.3L237.6,21.3L238.2,20.1L238.7,19.3L239.3,18.8L240.0,18.7L241.8,18.6L245.2,18.6L246.8,18.7L247.1,18.8L247.5,19.2L248.2,20.1L248.6,21.3L248.7,22.6L248.7,25.8L248.1,33.8L247.4,39.3L246.8,41.0L244.5,45.3L242.1,50.3L240.7,52.3L240.0,52.8Z" fill="#1438ff"/><path d="M239.5,51.6L239.2,51.6L238.8,51.4L237.8,50.4L237.4,49.8L236.4,46.0L236.2,44.8L236.3,42.8L236.8,39.5L237.6,28.8L238.4,22.6L238.7,21.3L239.2,20.3L239.8,19.7L240.5,19.2L241.3,18.8L241.8,18.8L245.2,18.8L246.2,19.4L247.0,20.1L247.5,21.1L247.7,22.3L247.6,25.8L247.1,33.5L246.4,38.8L245.9,40.5L243.8,44.6L241.4,49.5L240.2,51.1L239.5,51.6Z" fill="#0a80ff"/><path d="M239.5,51.1L239.0,51.0L238.5,50.7L237.9,50.0L237.6,49.5L236.6,45.8L236.4,44.5L236.5,42.8L237.2,39.3L238.0,28.8L238.7,22.8L238.9,21.8L239.3,20.8L239.9,20.1L240.5,19.6L242.1,18.8L244.4,18.8L245.5,19.3L246.5,20.1L247.0,20.8L247.4,22.1L247.3,26.1L246.8,33.3L246.5,35.8L245.9,39.3L245.5,40.5L241.0,49.5L240.2,50.6L239.5,51.1Z" fill="#00c0ff"/><path d="M239.8,50.4L239.5,50.5L239.0,50.4L238.5,50.1L238.1,49.5L236.8,45.8L236.6,44.5L236.8,42.8L237.4,40.5L237.7,39.3L238.4,28.6L239.0,23.3L239.2,22.3L239.5,21.3L239.9,20.6L240.4,20.1L241.1,19.6L242.2,19.1L243.0,18.9L243.8,19.0L245.0,19.4L246.0,20.1L246.6,20.8L247.0,22.1L246.9,26.1L246.3,35.0L245.5,39.2L245.2,40.3L242.0,46.8L240.5,49.5L239.8,50.4Z" fill="#00e8f0"/><path d="M239.5,48.9L239.2,48.9L238.8,48.5L237.8,46.9L237.1,45.5L236.9,44.3L237.2,42.5L238.3,40.0L238.6,39.0L239.2,28.3L239.8,23.1L240.2,21.4L241.1,20.3L242.4,19.6L243.0,19.4L243.8,19.5L244.7,19.8L245.5,20.4L246.0,21.1L246.4,22.3L246.4,26.3L245.7,34.3L244.5,39.6L242.5,44.8L241.2,47.0L240.2,48.3L239.5,48.9Z" fill="#10eca0"/><path d="M239.8,47.4L239.2,47.4L238.8,47.2L238.2,46.8L237.8,46.2L237.2,45.0L237.2,43.5L237.4,42.8L237.8,42.0L238.5,41.0L239.7,39.8L240.1,39.0L240.1,38.0L239.9,33.3L240.2,29.8L240.3,25.3L240.7,22.6L241.2,21.3L241.8,20.6L242.7,20.1L243.5,20.0L244.5,20.3L245.0,20.8L245.6,21.8L245.8,23.1L245.9,26.6L245.4,30.5L245.2,33.5L244.8,35.3L243.4,38.0L242.8,39.8L242.6,40.8L242.4,43.3L242.1,44.8L241.5,45.8L241.0,46.5L240.2,47.2L239.8,47.4Z" fill="#30e838"/><path d="M243.0,35.8L242.2,35.8L241.8,35.5L241.3,34.8L241.0,34.0L241.0,32.5L241.3,30.0L241.1,27.3L241.0,25.8L241.3,23.6L241.8,22.1L242.5,21.2L243.0,20.9L243.5,20.9L244.0,21.0L244.4,21.3L245.0,22.3L245.4,24.1L245.5,26.1L245.3,27.8L244.7,30.5L244.7,32.8L244.6,33.8L244.0,35.1L243.5,35.6L243.0,35.8ZM240.0,46.6L239.5,46.7L239.0,46.6L238.2,46.2L237.6,45.3L237.4,44.0L237.7,42.8L238.2,41.9L239.0,41.4L240.0,41.1L240.8,41.3L241.4,41.8L241.8,42.5L241.9,43.5L241.7,44.5L241.2,45.5L240.8,46.1L240.0,46.6Z" fill="#a8f000"/><path d="M243.2,34.6L242.8,34.7L242.4,34.5L242.0,34.1L241.8,33.5L241.8,32.4L242.3,30.3L241.7,27.6L241.6,25.8L241.8,24.1L242.2,22.8L242.8,22.1L243.5,21.8L244.2,22.2L244.7,23.1L245.0,24.3L245.1,25.8L244.9,27.8L244.0,30.5L244.2,32.5L244.1,33.3L243.8,34.2L243.2,34.6ZM240.0,46.1L239.2,46.2L238.5,45.9L237.9,45.3L237.6,44.3L237.8,43.3L238.1,42.5L238.8,42.0L239.5,41.7L240.2,41.8L240.8,42.1L241.2,42.8L241.4,43.5L241.4,44.3L241.1,45.0L240.5,45.8L240.0,46.1Z" fill="#ffe800"/><path d="M243.8,28.8L243.2,29.0L242.8,28.6L242.3,27.6L242.1,26.3L242.1,25.1L242.5,23.8L243.0,23.0L243.5,22.9L244.0,23.2L244.3,23.6L244.5,24.3L244.7,25.6L244.5,27.5L244.2,28.1L243.8,28.8ZM240.0,45.6L239.2,45.7L238.8,45.6L238.2,45.1L238.0,44.5L238.0,43.8L238.2,43.0L238.8,42.5L239.2,42.3L239.8,42.3L240.4,42.5L240.8,43.0L241.0,43.5L240.9,44.3L240.8,44.8L240.5,45.2L240.0,45.6Z" fill="#ff9400"/><path d="M243.8,27.8L243.5,28.0L243.2,28.0L243.0,27.8L242.7,27.3L242.5,26.3L242.5,25.3L242.8,24.4L243.0,24.0L243.5,23.8L243.8,23.9L244.0,24.3L244.3,25.6L244.2,26.8L244.0,27.5L243.8,27.8ZM239.5,45.3L239.0,45.3L238.6,45.0L238.3,44.5L238.2,44.0L238.3,43.5L238.6,43.0L239.0,42.7L239.5,42.6L240.2,43.0L240.5,43.3L240.6,43.8L240.6,44.3L240.4,44.8L240.0,45.1L239.5,45.3Z" fill="#ff1800"/></g><rect x="214.5" y="18.3" width="41" height="40.6" fill="none" stroke="#000" stroke-width="0.9"/><line x1="214.5" y1="18" x2="214.5" y2="59.2" stroke="#000" stroke-width="1.3"/><line x1="214.2" y1="58.9" x2="255.8" y2="58.9" stroke="#000" stroke-width="1.3"/><rect x="233.7" y="18.7" width="15.8" height="12.6" fill="none" stroke="#666" stroke-width="0.6"/><text x="226" y="24.7" font-size="5" text-anchor="middle" fill="#222">40</text><text x="210.6" y="25.05" font-size="4.3" text-anchor="end" fill="#222">10<tspan font-size="2.67" dy="-1.81">5</tspan></text><text x="210.6" y="34.35" font-size="4.3" text-anchor="end" fill="#222">10<tspan font-size="2.67" dy="-1.81">4</tspan></text><text x="210.6" y="43.65" font-size="4.3" text-anchor="end" fill="#222">10<tspan font-size="2.67" dy="-1.81">3</tspan></text><text x="210.6" y="52.55" font-size="4.3" text-anchor="end" fill="#222">10<tspan font-size="2.67" dy="-1.81">2</tspan></text><text x="209.9" y="56.45" font-size="4.3" text-anchor="end" fill="#222">0</text><text x="218.3" y="67.48" font-size="4.4" text-anchor="middle" fill="#111" stroke="#111" stroke-width="0.07">0</text><text x="220.2" y="67.48" font-size="4.4" text-anchor="start" fill="#111" stroke="#111" stroke-width="0.07" textLength="5.5" lengthAdjust="spacingAndGlyphs">10<tspan font-size="2.73" dy="-1.85">2</tspan></text><text x="229.5" y="67.48" font-size="4.4" text-anchor="start" fill="#111" stroke="#111" stroke-width="0.07" textLength="5.5" lengthAdjust="spacingAndGlyphs">10<tspan font-size="2.73" dy="-1.85">3</tspan></text><text x="239.4" y="67.48" font-size="4.4" text-anchor="start" fill="#111" stroke="#111" stroke-width="0.07" textLength="5.5" lengthAdjust="spacingAndGlyphs">10<tspan font-size="2.73" dy="-1.85">4</tspan></text><text x="248.5" y="67.48" font-size="4.4" text-anchor="start" fill="#111" stroke="#111" stroke-width="0.07" textLength="5.5" lengthAdjust="spacingAndGlyphs">10<tspan font-size="2.73" dy="-1.85">5</tspan></text><g filter="url(#soft)"><path d="M294.1,48.6L293.3,48.4L292.6,47.9L292.0,47.0L291.6,46.0L287.2,26.8L286.5,19.6L286.5,18.8L286.8,18.7L288.3,18.6L298.8,18.6L300.1,18.6L300.6,18.8L300.5,21.8L299.9,27.6L298.6,34.3L296.6,41.8L296.0,46.3L295.7,47.3L295.3,47.8L294.6,48.4L294.1,48.6Z" fill="#1438ff"/><path d="M294.1,47.3L293.6,47.2L293.3,47.0L292.9,46.5L292.6,45.8L290.3,35.4L288.4,27.8L288.1,26.3L287.8,23.3L287.5,19.8L287.5,18.8L287.6,18.8L289.1,18.6L294.8,18.6L298.6,18.7L299.7,18.8L299.6,21.3L299.0,26.8L297.7,33.5L295.6,41.3L295.0,46.0L294.6,47.0L294.1,47.3Z" fill="#0a80ff"/><path d="M294.3,46.6L294.1,46.8L293.6,46.7L293.0,45.8L290.6,35.3L288.8,27.8L288.5,26.3L288.1,23.3L287.8,20.1L287.8,18.8L289.3,18.7L294.1,18.6L298.1,18.7L299.4,18.8L299.3,21.6L298.6,27.4L297.2,34.3L295.3,41.3L294.7,45.5L294.3,46.6Z" fill="#00c0ff"/><path d="M293.8,45.4L293.6,45.1L293.1,43.6L291.0,34.5L289.1,27.2L288.5,23.3L288.1,18.8L293.8,18.7L299.1,18.8L299.0,20.6L298.7,23.8L298.1,27.9L296.8,33.7L294.9,40.8L294.2,44.5L294.1,45.2L293.8,45.4Z" fill="#00e8f0"/><path d="M293.8,37.9L293.6,37.9L293.1,37.0L291.1,31.1L289.8,27.1L289.1,23.1L288.7,20.1L288.6,18.8L293.8,18.7L298.6,18.8L298.3,23.1L297.6,26.7L295.8,33.1L294.6,36.6L294.1,37.7L293.8,37.9Z" fill="#10eca0"/><path d="M294.1,31.1L293.8,31.2L293.3,31.1L292.6,30.4L291.6,28.7L290.6,26.4L290.1,24.8L289.6,23.1L289.2,20.1L289.1,18.8L293.8,18.7L298.1,18.8L297.9,22.6L297.3,25.2L295.3,29.6L294.6,30.8L294.1,31.1Z" fill="#30e838"/><path d="M294.6,27.1L293.6,27.3L292.8,27.0L292.1,26.4L291.2,25.3L290.7,24.1L290.4,22.8L289.9,19.8L290.0,18.8L297.3,18.8L297.4,21.8L297.3,23.1L297.1,24.1L296.7,25.1L296.1,26.0L295.3,26.7L294.6,27.1Z" fill="#a8f000"/><path d="M294.3,26.1L293.3,26.0L292.6,25.6L292.0,25.1L291.4,24.1L291.1,23.1L290.9,21.8L290.9,19.6L291.1,18.8L296.4,18.8L296.5,19.1L296.7,20.1L296.9,21.6L296.9,22.6L296.7,23.6L296.3,24.6L295.8,25.2L295.1,25.8L294.3,26.1Z" fill="#ffe800"/><path d="M294.8,25.1L293.8,25.3L292.8,24.9L292.1,24.1L291.7,23.1L291.6,21.8L291.9,20.3L292.5,19.3L292.8,19.0L293.3,18.8L294.4,18.8L295.1,19.1L295.8,19.9L296.3,21.2L296.4,22.3L296.2,23.6L295.6,24.6L294.8,25.1Z" fill="#ff9400"/><path d="M294.8,24.6L294.3,24.8L293.8,24.8L293.1,24.4L292.5,23.8L292.1,22.8L292.1,21.8L292.4,20.8L293.1,20.0L293.8,19.7L294.6,19.8L295.3,20.3L295.8,21.1L296.0,21.8L296.0,22.8L295.8,23.6L295.3,24.3L294.8,24.6Z" fill="#ff1800"/></g><rect x="268.8" y="18.3" width="42" height="40.6" fill="none" stroke="#000" stroke-width="0.9"/><line x1="268.8" y1="18" x2="268.8" y2="59.2" stroke="#000" stroke-width="1.3"/><line x1="268.5" y1="58.9" x2="311.1" y2="58.9" stroke="#000" stroke-width="1.3"/><rect x="285.3" y="18.7" width="17" height="15.6" fill="none" stroke="#666" stroke-width="0.6"/><text x="272.4" y="24.7" font-size="5" text-anchor="middle" fill="#222">88</text><text x="264.9" y="25.05" font-size="4.3" text-anchor="end" fill="#222">10<tspan font-size="2.67" dy="-1.81">5</tspan></text><text x="264.9" y="34.35" font-size="4.3" text-anchor="end" fill="#222">10<tspan font-size="2.67" dy="-1.81">4</tspan></text><text x="264.9" y="43.65" font-size="4.3" text-anchor="end" fill="#222">10<tspan font-size="2.67" dy="-1.81">3</tspan></text><text x="264.9" y="52.55" font-size="4.3" text-anchor="end" fill="#222">10<tspan font-size="2.67" dy="-1.81">2</tspan></text><text x="264.2" y="56.45" font-size="4.3" text-anchor="end" fill="#222">0</text><text x="272.6" y="67.48" font-size="4.4" text-anchor="middle" fill="#111" stroke="#111" stroke-width="0.07">0</text><text x="274.5" y="67.48" font-size="4.4" text-anchor="start" fill="#111" stroke="#111" stroke-width="0.07" textLength="5.5" lengthAdjust="spacingAndGlyphs">10<tspan font-size="2.73" dy="-1.85">2</tspan></text><text x="283.8" y="67.48" font-size="4.4" text-anchor="start" fill="#111" stroke="#111" stroke-width="0.07" textLength="5.5" lengthAdjust="spacingAndGlyphs">10<tspan font-size="2.73" dy="-1.85">3</tspan></text><text x="293.7" y="67.48" font-size="4.4" text-anchor="start" fill="#111" stroke="#111" stroke-width="0.07" textLength="5.5" lengthAdjust="spacingAndGlyphs">10<tspan font-size="2.73" dy="-1.85">4</tspan></text><text x="302.8" y="67.48" font-size="4.4" text-anchor="start" fill="#111" stroke="#111" stroke-width="0.07" textLength="5.5" lengthAdjust="spacingAndGlyphs">10<tspan font-size="2.73" dy="-1.85">5</tspan></text><g filter="url(#soft)"><path d="M241.0,110.6L240.2,110.7L239.8,110.5L239.3,110.0L238.8,109.2L238.4,108.0L236.9,102.8L236.2,99.8L236.2,98.0L237.0,90.2L237.8,79.8L239.3,74.8L239.7,74.0L240.5,73.2L241.0,72.9L242.0,72.8L245.2,72.8L247.0,72.9L247.4,73.0L248.0,73.5L248.4,74.0L248.6,74.8L248.7,76.5L248.3,80.2L246.5,90.1L244.9,100.0L243.6,105.8L243.1,107.2L242.1,109.5L241.5,110.2L241.0,110.6Z" fill="#1438ff"/><path d="M240.5,109.3L240.0,109.0L239.4,107.8L237.6,102.0L237.1,99.5L237.1,98.0L237.9,91.0L238.8,80.2L239.1,78.8L240.1,75.8L240.3,75.0L240.8,74.4L241.5,73.7L242.8,73.1L243.5,73.0L245.1,73.0L246.7,73.8L247.2,74.2L247.5,74.8L247.6,76.0L247.4,79.8L245.2,91.5L243.6,101.8L242.3,106.5L241.2,108.7L241.0,109.0L240.5,109.3Z" fill="#0a80ff"/><path d="M240.8,108.6L240.5,108.6L240.2,108.5L239.8,107.7L237.9,102.0L237.3,99.5L237.3,98.0L238.2,91.0L239.1,80.8L239.2,79.6L239.6,78.2L240.5,75.5L240.9,74.8L241.5,74.1L242.5,73.5L243.5,73.2L244.5,73.2L245.2,73.4L246.1,73.8L246.8,74.2L247.1,74.8L247.3,76.0L247.0,79.8L244.6,93.2L243.4,101.2L242.2,106.0L241.2,108.0L240.8,108.6Z" fill="#00c0ff"/><path d="M240.8,107.6L240.5,107.6L240.4,107.5L240.0,107.0L238.2,102.2L237.6,100.0L237.6,98.0L238.3,93.2L239.5,80.8L239.8,79.2L240.8,76.0L241.4,74.8L242.0,74.2L242.8,73.8L243.5,73.6L244.2,73.5L245.0,73.7L245.8,74.0L246.4,74.5L246.7,75.0L246.8,76.0L246.6,79.8L244.2,94.0L243.3,100.8L241.9,105.8L241.2,107.0L240.8,107.6Z" fill="#00e8f0"/><path d="M240.8,105.6L240.5,105.6L240.0,105.1L239.2,103.7L238.5,102.0L237.9,100.0L237.9,98.2L239.1,92.2L240.2,80.8L240.5,79.2L241.2,77.0L242.1,75.2L243.0,74.5L243.8,74.3L244.2,74.3L244.9,74.5L245.2,74.8L245.6,75.5L245.8,78.5L245.7,80.8L243.6,93.5L243.3,98.8L243.0,100.5L242.6,102.0L242.0,103.7L241.2,105.2L240.8,105.6Z" fill="#10eca0"/><path d="M241.0,104.0L240.5,104.1L240.0,103.9L239.5,103.3L239.0,102.5L238.2,100.2L238.1,98.5L238.5,96.7L239.6,93.5L240.0,91.8L240.8,86.2L240.9,81.5L241.2,79.8L241.6,78.5L242.2,77.2L243.0,76.5L243.5,76.4L244.0,76.6L244.2,76.9L244.7,78.0L244.9,79.5L244.9,81.2L244.5,83.5L243.6,87.2L242.9,92.5L242.8,94.2L243.0,98.0L242.9,100.0L242.5,101.5L242.0,102.7L241.5,103.5L241.0,104.0Z" fill="#30e838"/><path d="M243.0,82.6L242.8,82.7L242.5,82.5L242.2,81.2L242.5,80.0L242.8,79.6L243.0,79.5L243.2,79.6L243.5,80.0L243.6,80.8L243.5,81.8L243.2,82.3L243.0,82.6ZM241.0,103.1L240.5,103.2L240.0,103.0L239.2,102.2L238.6,100.8L238.3,99.2L238.6,97.5L239.2,95.9L240.0,94.9L240.5,94.6L241.0,94.5L241.5,94.7L241.8,95.0L242.2,95.9L242.6,97.0L242.7,98.5L242.6,100.0L242.2,101.3L241.8,102.4L241.0,103.1Z" fill="#a8f000"/><path d="M240.8,102.6L240.0,102.4L239.2,101.6L238.8,100.5L238.6,99.2L238.8,98.0L239.2,96.7L240.0,95.9L240.8,95.6L241.5,95.9L242.0,96.6L242.4,97.8L242.5,99.0L242.3,100.2L242.0,101.2L241.5,102.1L240.8,102.6Z" fill="#ffe800"/><path d="M241.0,101.8L240.2,101.9L239.8,101.6L239.2,100.8L238.9,99.5L239.0,98.5L239.3,97.5L239.8,96.8L240.5,96.4L241.0,96.5L241.6,97.0L242.0,97.8L242.2,98.8L242.1,99.8L241.9,100.5L241.5,101.4L241.0,101.8Z" fill="#ff9400"/><path d="M240.5,101.5L240.0,101.3L239.5,100.8L239.2,100.0L239.1,99.2L239.2,98.5L239.5,97.8L240.0,97.2L240.5,97.0L241.0,97.1L241.5,97.6L241.8,98.2L241.9,99.2L241.8,100.0L241.5,100.8L241.0,101.4L240.5,101.5Z" fill="#ff1800"/></g><rect x="214.5" y="72.5" width="41" height="40.6" fill="none" stroke="#000" stroke-width="0.9"/><line x1="214.5" y1="72.2" x2="214.5" y2="113.4" stroke="#000" stroke-width="1.3"/><line x1="214.2" y1="113.1" x2="255.8" y2="113.1" stroke="#000" stroke-width="1.3"/><rect x="233.7" y="72.9" width="15.8" height="12.6" fill="none" stroke="#666" stroke-width="0.6"/><text x="226" y="78.9" font-size="5" text-anchor="middle" fill="#222">25</text><text x="210.6" y="79.25" font-size="4.3" text-anchor="end" fill="#222">10<tspan font-size="2.67" dy="-1.81">5</tspan></text><text x="210.6" y="88.55" font-size="4.3" text-anchor="end" fill="#222">10<tspan font-size="2.67" dy="-1.81">4</tspan></text><text x="210.6" y="97.85" font-size="4.3" text-anchor="end" fill="#222">10<tspan font-size="2.67" dy="-1.81">3</tspan></text><text x="210.6" y="106.75" font-size="4.3" text-anchor="end" fill="#222">10<tspan font-size="2.67" dy="-1.81">2</tspan></text><text x="209.9" y="110.65" font-size="4.3" text-anchor="end" fill="#222">0</text><text x="218.3" y="121.68" font-size="4.4" text-anchor="middle" fill="#111" stroke="#111" stroke-width="0.07">0</text><text x="220.2" y="121.68" font-size="4.4" text-anchor="start" fill="#111" stroke="#111" stroke-width="0.07" textLength="5.5" lengthAdjust="spacingAndGlyphs">10<tspan font-size="2.73" dy="-1.85">2</tspan></text><text x="229.5" y="121.68" font-size="4.4" text-anchor="start" fill="#111" stroke="#111" stroke-width="0.07" textLength="5.5" lengthAdjust="spacingAndGlyphs">10<tspan font-size="2.73" dy="-1.85">3</tspan></text><text x="239.4" y="121.68" font-size="4.4" text-anchor="start" fill="#111" stroke="#111" stroke-width="0.07" textLength="5.5" lengthAdjust="spacingAndGlyphs">10<tspan font-size="2.73" dy="-1.85">4</tspan></text><text x="248.5" y="121.68" font-size="4.4" text-anchor="start" fill="#111" stroke="#111" stroke-width="0.07" textLength="5.5" lengthAdjust="spacingAndGlyphs">10<tspan font-size="2.73" dy="-1.85">5</tspan></text><g filter="url(#soft)"><path d="M295.1,105.3L294.3,105.4L293.8,105.2L293.3,104.9L292.8,104.2L292.2,103.0L291.1,99.0L287.4,80.0L286.8,73.5L286.8,73.0L287.1,72.9L288.6,72.8L299.3,72.8L300.6,72.8L301.3,73.0L300.4,80.0L298.3,90.4L297.3,96.7L296.7,103.0L296.5,103.8L296.1,104.5L295.6,105.0L295.1,105.3Z" fill="#1438ff"/><path d="M294.8,104.1L294.6,104.2L294.1,104.0L293.4,103.2L291.9,97.8L290.5,89.8L288.4,79.8L287.8,73.5L287.8,73.0L288.1,72.9L296.3,72.8L299.3,72.9L300.2,73.0L299.4,80.0L297.5,88.8L297.0,91.5L296.1,97.8L295.6,102.8L295.3,103.7L294.8,104.1Z" fill="#0a80ff"/><path d="M294.8,103.6L294.3,103.6L294.1,103.5L293.8,103.0L292.3,97.7L290.8,89.8L288.8,80.0L288.1,73.0L289.6,72.9L294.6,72.8L298.6,72.9L299.9,73.0L299.1,79.8L297.0,89.8L295.7,97.8L295.3,102.5L295.1,103.2L294.8,103.6Z" fill="#00c0ff"/><path d="M294.6,102.3L294.3,102.3L294.1,101.9L292.8,97.7L291.4,90.0L289.2,80.0L288.4,73.0L294.6,72.9L299.6,73.0L298.7,79.8L296.5,89.8L295.4,96.8L294.8,101.3L294.6,102.3Z" fill="#00e8f0"/><path d="M294.1,93.5L293.8,93.5L293.3,92.4L290.3,81.4L289.8,79.0L289.0,73.0L294.6,72.9L299.0,73.0L298.4,78.8L298.0,80.8L295.4,89.0L294.6,92.5L294.1,93.5Z" fill="#10eca0"/><path d="M294.6,85.8L293.8,85.9L293.3,85.6L292.6,84.6L291.8,82.9L290.7,79.2L289.8,74.0L289.7,73.0L298.3,73.0L297.9,78.5L297.5,81.0L297.0,82.2L296.3,83.7L295.3,85.1L294.6,85.8Z" fill="#30e838"/><path d="M294.8,83.5L294.1,83.5L293.3,82.9L292.7,82.0L292.2,81.0L291.7,78.8L290.9,73.5L290.9,73.0L297.3,73.0L297.6,77.2L297.5,78.8L297.2,80.0L296.8,81.2L296.3,82.3L295.6,83.1L294.8,83.5Z" fill="#a8f000"/><path d="M295.3,82.3L294.6,82.5L293.8,82.1L293.1,81.2L292.6,80.0L292.4,78.8L292.3,77.0L292.5,73.5L292.7,73.0L296.1,73.0L296.6,74.0L297.1,76.8L297.0,79.0L296.8,80.0L296.5,81.0L296.0,81.8L295.3,82.3Z" fill="#ffe800"/><path d="M295.1,81.5L294.3,81.4L293.6,80.6L293.1,79.5L292.9,78.0L293.0,76.5L293.4,75.2L294.1,74.3L294.3,74.1L294.8,74.0L295.6,74.4L296.1,75.1L296.5,76.2L296.7,77.8L296.6,79.0L296.3,80.2L295.8,81.0L295.1,81.5Z" fill="#ff9400"/><path d="M295.3,80.8L295.1,80.9L294.6,80.8L294.1,80.5L293.6,79.5L293.3,78.5L293.4,77.2L293.7,76.2L294.1,75.5L294.8,75.2L295.3,75.3L295.8,75.8L296.1,76.5L296.3,77.5L296.3,78.5L296.2,79.5L295.8,80.3L295.3,80.8Z" fill="#ff1800"/></g><rect x="268.8" y="72.5" width="42" height="40.6" fill="none" stroke="#000" stroke-width="0.9"/><line x1="268.8" y1="72.2" x2="268.8" y2="113.4" stroke="#000" stroke-width="1.3"/><line x1="268.5" y1="113.1" x2="311.1" y2="113.1" stroke="#000" stroke-width="1.3"/><rect x="285.3" y="72.9" width="17" height="15.6" fill="none" stroke="#666" stroke-width="0.6"/><text x="272.4" y="78.9" font-size="5" text-anchor="middle" fill="#222">79</text><text x="264.9" y="79.25" font-size="4.3" text-anchor="end" fill="#222">10<tspan font-size="2.67" dy="-1.81">5</tspan></text><text x="264.9" y="88.55" font-size="4.3" text-anchor="end" fill="#222">10<tspan font-size="2.67" dy="-1.81">4</tspan></text><text x="264.9" y="97.85" font-size="4.3" text-anchor="end" fill="#222">10<tspan font-size="2.67" dy="-1.81">3</tspan></text><text x="264.9" y="106.75" font-size="4.3" text-anchor="end" fill="#222">10<tspan font-size="2.67" dy="-1.81">2</tspan></text><text x="264.2" y="110.65" font-size="4.3" text-anchor="end" fill="#222">0</text><text x="272.6" y="121.68" font-size="4.4" text-anchor="middle" fill="#111" stroke="#111" stroke-width="0.07">0</text><text x="274.5" y="121.68" font-size="4.4" text-anchor="start" fill="#111" stroke="#111" stroke-width="0.07" textLength="5.5" lengthAdjust="spacingAndGlyphs">10<tspan font-size="2.73" dy="-1.85">2</tspan></text><text x="283.8" y="121.68" font-size="4.4" text-anchor="start" fill="#111" stroke="#111" stroke-width="0.07" textLength="5.5" lengthAdjust="spacingAndGlyphs">10<tspan font-size="2.73" dy="-1.85">3</tspan></text><text x="293.7" y="121.68" font-size="4.4" text-anchor="start" fill="#111" stroke="#111" stroke-width="0.07" textLength="5.5" lengthAdjust="spacingAndGlyphs">10<tspan font-size="2.73" dy="-1.85">4</tspan></text><text x="302.8" y="121.68" font-size="4.4" text-anchor="start" fill="#111" stroke="#111" stroke-width="0.07" textLength="5.5" lengthAdjust="spacingAndGlyphs">10<tspan font-size="2.73" dy="-1.85">5</tspan></text><g filter="url(#soft)"><path d="M240.0,162.9L239.5,162.8L239.0,162.5L238.1,161.3L237.8,160.6L236.4,155.1L236.1,153.6L236.1,151.1L236.6,143.3L237.4,133.8L238.6,129.1L239.1,128.1L239.8,127.3L240.0,127.1L241.0,126.9L245.5,127.0L246.0,127.1L246.5,127.6L246.9,128.1L247.1,128.8L247.2,132.3L247.1,134.3L245.2,143.8L243.9,153.3L242.3,159.8L241.9,161.3L241.4,162.1L240.8,162.7L240.0,162.9Z" fill="#1438ff"/><path d="M240.0,161.6L239.4,161.3L238.8,160.3L237.1,154.6L236.9,153.1L237.0,151.3L238.4,134.3L238.6,132.8L239.4,129.8L239.8,129.0L240.1,128.3L241.0,127.6L242.0,127.1L243.8,127.1L244.5,127.4L245.3,127.8L245.8,128.3L246.0,128.8L246.2,130.1L246.2,133.8L244.2,144.1L242.9,153.8L241.1,160.6L240.6,161.3L240.0,161.6Z" fill="#0a80ff"/><path d="M240.0,161.1L239.5,160.9L239.1,160.1L237.4,154.6L237.1,153.1L237.2,151.3L237.7,147.1L238.7,134.6L239.2,131.8L239.9,129.6L240.2,128.8L240.8,128.2L241.5,127.7L242.5,127.3L243.2,127.3L244.0,127.5L244.8,127.8L245.3,128.3L245.7,128.8L245.9,130.1L245.8,133.8L243.8,144.1L243.3,148.1L242.9,152.3L242.7,153.8L240.8,160.3L240.5,160.9L240.0,161.1Z" fill="#00c0ff"/><path d="M240.2,160.1L240.0,160.3L239.8,160.2L239.5,159.8L237.7,154.8L237.4,153.3L237.4,151.3L238.1,146.8L239.1,134.6L239.5,132.3L240.2,129.7L240.8,128.7L241.2,128.3L241.9,127.8L242.5,127.7L243.2,127.6L244.0,127.8L244.5,128.1L245.0,128.6L245.3,129.1L245.5,130.6L245.5,133.8L243.4,144.3L242.9,148.1L242.5,153.3L242.0,155.4L240.5,159.7L240.2,160.1Z" fill="#00e8f0"/><path d="M240.2,157.9L240.0,158.0L239.5,157.7L238.2,155.4L237.7,153.6L237.7,151.8L238.8,145.8L239.4,139.8L239.8,134.6L240.0,133.1L240.8,130.4L241.2,129.3L242.0,128.6L242.5,128.3L243.0,128.3L243.9,128.6L244.2,128.9L244.5,129.4L244.8,131.3L244.8,133.8L244.5,135.6L243.1,141.3L242.7,144.1L242.4,147.3L242.4,151.6L242.3,153.3L241.5,155.7L240.8,157.2L240.2,157.9Z" fill="#10eca0"/><path d="M241.8,139.5L241.5,139.5L241.2,139.2L241.0,138.2L240.7,135.8L240.7,133.8L241.0,132.3L241.5,131.0L242.0,130.2L242.4,129.8L242.8,129.8L243.2,130.0L243.8,131.0L244.0,132.3L244.0,133.8L243.8,135.3L243.2,136.8L242.5,138.4L241.8,139.5ZM240.2,156.8L239.8,156.8L239.5,156.7L239.0,156.1L238.5,155.3L238.0,153.8L237.8,152.3L238.0,150.8L238.5,149.3L240.2,145.9L240.5,145.5L240.8,145.4L241.0,145.7L241.9,149.3L242.2,150.8L242.2,152.1L242.0,153.6L241.6,154.8L241.0,156.0L240.2,156.8Z" fill="#30e838"/><path d="M240.5,155.9L240.2,156.0L239.8,156.0L239.0,155.5L238.3,154.1L238.0,152.8L238.2,151.1L238.8,149.7L239.5,148.8L240.2,148.5L240.8,148.7L241.0,148.9L241.5,149.6L241.8,150.6L242.0,151.8L241.9,153.1L241.6,154.1L241.2,155.1L240.5,155.9Z" fill="#a8f000"/><path d="M240.2,155.5L239.5,155.4L238.9,154.8L238.4,153.8L238.2,152.6L238.4,151.3L238.8,150.3L239.5,149.5L240.2,149.3L240.8,149.5L241.3,150.1L241.6,151.1L241.8,152.1L241.6,153.3L241.3,154.3L240.8,155.1L240.2,155.5Z" fill="#ffe800"/><path d="M240.2,154.9L239.5,154.8L239.0,154.4L238.6,153.6L238.5,152.8L238.6,151.8L238.9,150.8L239.5,150.2L240.0,150.0L240.5,150.1L241.0,150.5L241.3,151.1L241.5,152.1L241.4,153.1L241.2,153.8L240.8,154.6L240.2,154.9Z" fill="#ff9400"/><path d="M240.5,154.4L240.0,154.6L239.5,154.4L239.0,153.9L238.7,153.1L238.8,152.2L239.0,151.3L239.5,150.7L240.0,150.5L240.5,150.6L240.8,150.8L241.1,151.3L241.3,152.1L241.1,153.3L240.9,153.8L240.5,154.4Z" fill="#ff1800"/></g><rect x="214.5" y="126.6" width="41" height="40.6" fill="none" stroke="#000" stroke-width="0.9"/><line x1="214.5" y1="126.3" x2="214.5" y2="167.5" stroke="#000" stroke-width="1.3"/><line x1="214.2" y1="167.2" x2="255.8" y2="167.2" stroke="#000" stroke-width="1.3"/><rect x="233.7" y="127" width="15.8" height="12.6" fill="none" stroke="#666" stroke-width="0.6"/><text x="226" y="133" font-size="5" text-anchor="middle" fill="#222">23</text><text x="210.6" y="133.35" font-size="4.3" text-anchor="end" fill="#222">10<tspan font-size="2.67" dy="-1.81">5</tspan></text><text x="210.6" y="142.65" font-size="4.3" text-anchor="end" fill="#222">10<tspan font-size="2.67" dy="-1.81">4</tspan></text><text x="210.6" y="151.95" font-size="4.3" text-anchor="end" fill="#222">10<tspan font-size="2.67" dy="-1.81">3</tspan></text><text x="210.6" y="160.85" font-size="4.3" text-anchor="end" fill="#222">10<tspan font-size="2.67" dy="-1.81">2</tspan></text><text x="209.9" y="164.75" font-size="4.3" text-anchor="end" fill="#222">0</text><text x="218.3" y="175.78" font-size="4.4" text-anchor="middle" fill="#111" stroke="#111" stroke-width="0.07">0</text><text x="220.2" y="175.78" font-size="4.4" text-anchor="start" fill="#111" stroke="#111" stroke-width="0.07" textLength="5.5" lengthAdjust="spacingAndGlyphs">10<tspan font-size="2.73" dy="-1.85">2</tspan></text><text x="229.5" y="175.78" font-size="4.4" text-anchor="start" fill="#111" stroke="#111" stroke-width="0.07" textLength="5.5" lengthAdjust="spacingAndGlyphs">10<tspan font-size="2.73" dy="-1.85">3</tspan></text><text x="239.4" y="175.78" font-size="4.4" text-anchor="start" fill="#111" stroke="#111" stroke-width="0.07" textLength="5.5" lengthAdjust="spacingAndGlyphs">10<tspan font-size="2.73" dy="-1.85">4</tspan></text><text x="248.5" y="175.78" font-size="4.4" text-anchor="start" fill="#111" stroke="#111" stroke-width="0.07" textLength="5.5" lengthAdjust="spacingAndGlyphs">10<tspan font-size="2.73" dy="-1.85">5</tspan></text><g filter="url(#soft)"><path d="M294.6,157.4L293.8,157.2L293.0,156.3L292.4,155.1L291.4,151.8L289.8,143.9L287.2,133.1L286.1,127.8L286.1,127.1L286.3,127.0L287.8,126.9L298.6,126.9L300.1,126.9L300.6,127.1L299.6,133.8L297.3,144.7L296.4,151.8L296.2,155.6L296.0,156.3L295.6,156.8L295.1,157.3L294.6,157.4Z" fill="#1438ff"/><path d="M294.8,155.9L294.3,156.0L293.8,155.5L293.3,154.4L292.5,151.8L290.8,143.7L288.2,133.1L287.1,127.1L288.3,126.9L293.3,126.9L298.3,126.9L299.6,127.1L298.6,133.6L296.4,143.8L295.4,151.3L295.3,154.8L295.1,155.6L294.8,155.9Z" fill="#0a80ff"/><path d="M294.6,155.3L294.3,155.3L294.1,155.1L293.8,154.6L292.8,151.6L291.1,143.6L288.4,132.8L287.3,127.1L288.8,127.0L293.1,126.9L297.8,127.0L299.3,127.1L298.3,133.6L296.0,143.8L295.1,151.3L294.9,154.6L294.8,155.0L294.6,155.3Z" fill="#00c0ff"/><path d="M294.3,153.4L294.1,153.4L293.8,153.1L293.1,150.9L291.4,143.1L288.7,132.6L287.7,127.1L293.1,127.0L299.0,127.1L298.0,133.3L295.7,143.6L294.3,153.4Z" fill="#00e8f0"/><path d="M293.8,146.6L293.6,146.5L293.3,146.0L290.7,137.1L289.3,132.8L288.2,127.1L293.1,127.0L298.4,127.1L297.3,133.4L294.7,143.3L294.1,146.1L293.8,146.6Z" fill="#10eca0"/><path d="M293.8,139.2L293.3,139.2L292.8,138.7L290.1,133.6L289.4,131.6L288.7,127.1L297.9,127.1L297.1,131.6L296.6,133.5L294.8,137.8L294.3,138.7L293.8,139.2Z" fill="#30e838"/><path d="M293.8,135.4L293.1,135.5L292.1,135.1L291.3,134.5L290.5,133.3L290.1,132.3L289.9,131.3L289.6,127.1L297.0,127.1L296.4,131.1L296.0,132.8L295.1,134.5L294.6,135.0L293.8,135.4Z" fill="#a8f000"/><path d="M293.6,134.4L292.6,134.4L291.8,134.1L291.1,133.3L290.6,132.3L290.3,131.3L290.3,130.3L290.7,127.1L295.7,127.1L295.8,130.3L295.6,132.1L295.3,132.8L294.8,133.6L294.3,134.1L293.6,134.4Z" fill="#ffe800"/><path d="M293.6,133.6L293.1,133.7L292.6,133.7L291.8,133.3L291.1,132.3L290.8,131.1L290.9,129.8L291.4,128.6L292.3,127.7L293.1,127.5L293.8,127.7L294.3,128.2L294.9,129.3L295.2,130.6L295.1,131.6L294.8,132.5L294.3,133.2L293.6,133.6Z" fill="#ff9400"/><path d="M293.3,133.2L292.6,133.2L291.9,132.8L291.4,132.1L291.2,131.3L291.2,130.3L291.6,129.6L292.1,129.0L292.8,128.7L293.6,128.8L294.1,129.2L294.5,129.8L294.7,130.6L294.6,131.6L294.3,132.3L293.9,132.8L293.3,133.2Z" fill="#ff1800"/></g><rect x="268.8" y="126.6" width="42" height="40.6" fill="none" stroke="#000" stroke-width="0.9"/><line x1="268.8" y1="126.3" x2="268.8" y2="167.5" stroke="#000" stroke-width="1.3"/><line x1="268.5" y1="167.2" x2="311.1" y2="167.2" stroke="#000" stroke-width="1.3"/><rect x="285.3" y="127" width="17" height="15.6" fill="none" stroke="#666" stroke-width="0.6"/><text x="272.4" y="133" font-size="5" text-anchor="middle" fill="#222">88</text><text x="264.9" y="133.35" font-size="4.3" text-anchor="end" fill="#222">10<tspan font-size="2.67" dy="-1.81">5</tspan></text><text x="264.9" y="142.65" font-size="4.3" text-anchor="end" fill="#222">10<tspan font-size="2.67" dy="-1.81">4</tspan></text><text x="264.9" y="151.95" font-size="4.3" text-anchor="end" fill="#222">10<tspan font-size="2.67" dy="-1.81">3</tspan></text><text x="264.9" y="160.85" font-size="4.3" text-anchor="end" fill="#222">10<tspan font-size="2.67" dy="-1.81">2</tspan></text><text x="264.2" y="164.75" font-size="4.3" text-anchor="end" fill="#222">0</text><text x="272.6" y="175.78" font-size="4.4" text-anchor="middle" fill="#111" stroke="#111" stroke-width="0.07">0</text><text x="274.5" y="175.78" font-size="4.4" text-anchor="start" fill="#111" stroke="#111" stroke-width="0.07" textLength="5.5" lengthAdjust="spacingAndGlyphs">10<tspan font-size="2.73" dy="-1.85">2</tspan></text><text x="283.8" y="175.78" font-size="4.4" text-anchor="start" fill="#111" stroke="#111" stroke-width="0.07" textLength="5.5" lengthAdjust="spacingAndGlyphs">10<tspan font-size="2.73" dy="-1.85">3</tspan></text><text x="293.7" y="175.78" font-size="4.4" text-anchor="start" fill="#111" stroke="#111" stroke-width="0.07" textLength="5.5" lengthAdjust="spacingAndGlyphs">10<tspan font-size="2.73" dy="-1.85">4</tspan></text><text x="302.8" y="175.78" font-size="4.4" text-anchor="start" fill="#111" stroke="#111" stroke-width="0.07" textLength="5.5" lengthAdjust="spacingAndGlyphs">10<tspan font-size="2.73" dy="-1.85">5</tspan></text><g filter="url(#soft)"><path d="M240.5,217.8L240.0,217.7L239.5,217.4L238.9,216.8L238.5,216.0L236.9,208.0L236.7,205.2L236.7,201.0L236.5,197.8L236.6,187.5L237.1,184.8L237.6,183.0L238.1,182.2L238.8,181.6L239.2,181.4L240.2,181.3L244.5,181.4L245.1,181.5L245.9,182.2L246.2,183.0L246.4,184.0L246.1,188.0L244.4,206.5L243.9,209.2L242.5,215.8L242.2,216.5L241.7,217.2L241.0,217.7L240.5,217.8Z" fill="#1438ff"/><path d="M240.5,216.5L239.9,216.2L239.4,215.2L237.6,207.5L237.5,205.2L237.7,201.0L237.5,188.0L238.4,184.0L238.7,183.2L239.0,182.8L239.8,182.1L240.8,181.6L241.2,181.5L242.8,181.5L243.5,181.7L244.2,182.1L245.1,183.0L245.3,184.0L245.2,187.2L243.8,201.5L243.4,207.8L241.6,215.2L241.1,216.2L240.5,216.5Z" fill="#0a80ff"/><path d="M240.5,216.0L240.0,215.7L239.7,215.0L238.1,209.0L237.9,207.5L237.8,205.2L238.0,200.8L237.8,188.2L238.0,187.0L238.5,185.0L239.0,183.2L239.5,182.7L240.2,182.1L241.2,181.7L242.0,181.6L242.8,181.7L243.5,182.0L244.2,182.5L244.7,183.0L245.0,184.0L244.9,186.8L243.6,201.2L243.2,207.5L241.3,215.0L241.0,215.7L240.5,216.0Z" fill="#00c0ff"/><path d="M240.5,215.1L240.2,214.9L240.0,214.4L238.4,209.0L238.0,207.2L238.0,205.2L238.3,200.5L238.2,188.2L238.4,187.0L239.0,184.5L239.5,183.3L240.0,182.8L240.8,182.3L242.0,182.0L243.2,182.3L243.9,182.8L244.3,183.2L244.5,184.2L244.5,187.0L243.2,201.0L243.1,206.0L243.0,207.5L242.6,209.2L241.0,214.4L240.8,214.9L240.5,215.1Z" fill="#00e8f0"/><path d="M240.8,212.4L240.5,212.5L240.2,212.4L239.5,211.1L238.6,208.8L238.3,207.0L238.3,205.0L238.9,201.0L239.0,198.8L239.1,194.0L238.9,188.2L239.2,186.3L239.8,184.5L240.1,183.8L240.8,183.0L241.2,182.7L242.0,182.6L242.6,182.8L243.1,183.0L243.6,183.8L243.8,185.0L243.8,187.5L243.1,193.8L242.7,198.8L242.6,201.2L242.8,205.2L242.8,207.0L242.5,208.4L242.0,209.9L241.2,211.6L240.8,212.4Z" fill="#10eca0"/><path d="M241.2,193.5L241.0,193.5L240.5,192.4L240.0,190.2L239.8,188.0L240.0,186.7L240.5,185.2L241.0,184.3L241.4,184.0L241.8,183.8L242.3,184.0L242.8,184.8L243.0,186.0L243.1,187.8L242.9,189.0L242.5,190.7L241.8,192.7L241.2,193.5ZM240.8,211.1L240.5,211.2L240.0,210.9L239.2,209.8L238.6,208.0L238.4,206.2L238.6,204.8L239.0,202.8L240.0,200.4L240.5,199.4L240.8,199.2L241.0,199.2L241.2,199.6L242.0,201.9L242.5,204.1L242.6,206.0L242.4,207.8L242.0,209.2L241.2,210.7L240.8,211.1Z" fill="#30e838"/><path d="M240.8,210.3L240.5,210.3L240.0,210.2L239.5,209.6L238.9,208.2L238.7,206.8L238.8,205.1L239.1,203.8L239.8,202.6L240.5,202.2L240.8,202.2L241.2,202.4L241.8,203.0L242.2,204.2L242.4,205.8L242.3,207.2L242.0,208.5L241.5,209.6L240.8,210.3Z" fill="#a8f000"/><path d="M240.5,209.8L240.0,209.6L239.8,209.4L239.2,208.6L238.9,207.5L238.8,206.5L238.9,205.2L239.2,204.2L239.8,203.5L240.5,203.0L241.2,203.3L241.8,204.0L242.1,205.0L242.2,206.2L242.1,207.5L241.8,208.6L241.2,209.4L241.0,209.6L240.5,209.8Z" fill="#ffe800"/><path d="M240.8,209.1L240.2,209.1L239.7,208.8L239.2,207.8L239.1,206.8L239.2,205.5L239.5,204.6L240.0,204.0L240.5,203.8L241.0,203.9L241.5,204.4L241.8,205.2L242.0,206.2L241.9,207.2L241.7,208.0L241.2,208.8L240.8,209.1Z" fill="#ff9400"/><path d="M241.0,208.5L240.5,208.7L240.0,208.5L239.5,207.8L239.3,207.0L239.3,206.0L239.5,205.2L240.0,204.5L240.5,204.3L241.0,204.4L241.2,204.7L241.6,205.2L241.7,206.0L241.8,206.8L241.6,207.5L241.3,208.2L241.0,208.5Z" fill="#ff1800"/></g><rect x="214.5" y="181" width="41" height="40.6" fill="none" stroke="#000" stroke-width="0.9"/><line x1="214.5" y1="180.7" x2="214.5" y2="221.9" stroke="#000" stroke-width="1.3"/><line x1="214.2" y1="221.6" x2="255.8" y2="221.6" stroke="#000" stroke-width="1.3"/><rect x="233.7" y="181.4" width="15.8" height="12.6" fill="none" stroke="#666" stroke-width="0.6"/><text x="226" y="187.4" font-size="5" text-anchor="middle" fill="#222">20</text><text x="210.6" y="187.75" font-size="4.3" text-anchor="end" fill="#222">10<tspan font-size="2.67" dy="-1.81">5</tspan></text><text x="210.6" y="197.05" font-size="4.3" text-anchor="end" fill="#222">10<tspan font-size="2.67" dy="-1.81">4</tspan></text><text x="210.6" y="206.35" font-size="4.3" text-anchor="end" fill="#222">10<tspan font-size="2.67" dy="-1.81">3</tspan></text><text x="210.6" y="215.25" font-size="4.3" text-anchor="end" fill="#222">10<tspan font-size="2.67" dy="-1.81">2</tspan></text><text x="209.9" y="219.15" font-size="4.3" text-anchor="end" fill="#222">0</text><text x="218.3" y="230.18" font-size="4.4" text-anchor="middle" fill="#111" stroke="#111" stroke-width="0.07">0</text><text x="220.2" y="230.18" font-size="4.4" text-anchor="start" fill="#111" stroke="#111" stroke-width="0.07" textLength="5.5" lengthAdjust="spacingAndGlyphs">10<tspan font-size="2.73" dy="-1.85">2</tspan></text><text x="229.5" y="230.18" font-size="4.4" text-anchor="start" fill="#111" stroke="#111" stroke-width="0.07" textLength="5.5" lengthAdjust="spacingAndGlyphs">10<tspan font-size="2.73" dy="-1.85">3</tspan></text><text x="239.4" y="230.18" font-size="4.4" text-anchor="start" fill="#111" stroke="#111" stroke-width="0.07" textLength="5.5" lengthAdjust="spacingAndGlyphs">10<tspan font-size="2.73" dy="-1.85">4</tspan></text><text x="248.5" y="230.18" font-size="4.4" text-anchor="start" fill="#111" stroke="#111" stroke-width="0.07" textLength="5.5" lengthAdjust="spacingAndGlyphs">10<tspan font-size="2.73" dy="-1.85">5</tspan></text><g filter="url(#soft)"><path d="M295.1,211.3L294.3,211.4L293.8,211.2L293.3,210.9L292.7,210.2L291.9,208.8L291.0,205.8L289.3,197.4L287.0,187.8L286.5,181.8L286.5,181.5L286.8,181.4L288.3,181.3L298.6,181.3L299.8,181.3L300.3,181.5L299.7,187.5L298.1,197.5L296.9,208.5L296.7,209.5L296.3,210.2L295.8,210.8L295.1,211.3Z" fill="#1438ff"/><path d="M295.1,210.0L294.8,210.2L294.3,210.2L293.8,209.9L293.5,209.5L293.0,208.5L292.0,205.8L290.4,197.5L288.0,187.8L287.5,182.5L287.5,181.5L287.6,181.5L289.1,181.3L294.3,181.3L298.1,181.3L299.3,181.5L298.7,187.5L297.0,197.5L295.9,208.0L295.6,209.2L295.1,210.0Z" fill="#0a80ff"/><path d="M294.8,209.6L294.3,209.7L294.0,209.5L293.6,209.0L292.4,205.5L290.7,197.2L288.4,188.0L287.8,181.5L289.1,181.4L293.6,181.3L297.8,181.4L299.0,181.5L298.3,187.5L296.6,197.5L295.6,207.7L295.3,209.0L294.8,209.6Z" fill="#00c0ff"/><path d="M294.6,208.7L294.3,208.7L293.8,208.0L292.8,205.3L291.2,197.2L288.8,188.0L288.5,186.2L288.1,181.5L293.6,181.4L298.7,181.5L298.1,187.0L296.2,197.5L295.3,205.8L294.9,208.0L294.6,208.7Z" fill="#00e8f0"/><path d="M294.1,201.3L293.8,201.4L293.3,200.5L289.6,188.3L289.1,185.8L288.6,181.5L293.6,181.4L298.2,181.5L297.4,187.2L295.0,197.5L294.6,199.9L294.1,201.3Z" fill="#10eca0"/><path d="M293.8,193.3L293.3,193.3L292.6,192.6L291.3,190.5L290.3,188.4L289.7,186.0L289.1,181.5L293.6,181.4L297.7,181.5L297.2,185.8L296.7,187.8L296.1,189.5L294.8,192.0L294.3,192.8L293.8,193.3Z" fill="#30e838"/><path d="M293.6,190.0L292.8,189.9L292.1,189.4L291.3,188.5L290.7,187.5L290.2,185.5L289.9,181.5L296.9,181.5L296.7,185.2L296.3,187.2L295.8,188.3L295.1,189.3L294.3,189.8L293.6,190.0Z" fill="#a8f000"/><path d="M293.6,189.0L292.8,188.9L292.1,188.4L291.5,187.8L291.0,186.8L290.8,185.8L290.7,184.8L291.0,181.5L295.9,181.5L295.9,181.8L296.3,184.8L296.2,185.8L296.0,186.8L295.6,187.6L295.1,188.3L294.3,188.8L293.6,189.0Z" fill="#ffe800"/><path d="M294.3,188.0L293.8,188.2L293.3,188.2L292.6,187.9L291.8,187.0L291.4,185.8L291.4,184.5L291.8,183.2L292.6,182.0L293.3,181.7L294.1,181.8L294.6,182.1L295.3,183.3L295.7,184.5L295.7,185.5L295.5,186.5L295.1,187.4L294.3,188.0Z" fill="#ff9400"/><path d="M294.1,187.6L293.3,187.7L292.6,187.3L292.1,186.6L291.8,185.8L291.8,184.8L292.1,184.0L292.6,183.3L293.3,182.9L294.1,183.0L294.6,183.4L295.1,184.1L295.3,185.0L295.3,185.8L295.1,186.6L294.6,187.2L294.1,187.6Z" fill="#ff1800"/></g><rect x="268.8" y="181" width="42" height="40.6" fill="none" stroke="#000" stroke-width="0.9"/><line x1="268.8" y1="180.7" x2="268.8" y2="221.9" stroke="#000" stroke-width="1.3"/><line x1="268.5" y1="221.6" x2="311.1" y2="221.6" stroke="#000" stroke-width="1.3"/><rect x="285.3" y="181.4" width="17" height="15.6" fill="none" stroke="#666" stroke-width="0.6"/><text x="272.4" y="187.4" font-size="5" text-anchor="middle" fill="#222">89</text><text x="264.9" y="187.75" font-size="4.3" text-anchor="end" fill="#222">10<tspan font-size="2.67" dy="-1.81">5</tspan></text><text x="264.9" y="197.05" font-size="4.3" text-anchor="end" fill="#222">10<tspan font-size="2.67" dy="-1.81">4</tspan></text><text x="264.9" y="206.35" font-size="4.3" text-anchor="end" fill="#222">10<tspan font-size="2.67" dy="-1.81">3</tspan></text><text x="264.9" y="215.25" font-size="4.3" text-anchor="end" fill="#222">10<tspan font-size="2.67" dy="-1.81">2</tspan></text><text x="264.2" y="219.15" font-size="4.3" text-anchor="end" fill="#222">0</text><text x="272.6" y="230.18" font-size="4.4" text-anchor="middle" fill="#111" stroke="#111" stroke-width="0.07">0</text><text x="274.5" y="230.18" font-size="4.4" text-anchor="start" fill="#111" stroke="#111" stroke-width="0.07" textLength="5.5" lengthAdjust="spacingAndGlyphs">10<tspan font-size="2.73" dy="-1.85">2</tspan></text><text x="283.8" y="230.18" font-size="4.4" text-anchor="start" fill="#111" stroke="#111" stroke-width="0.07" textLength="5.5" lengthAdjust="spacingAndGlyphs">10<tspan font-size="2.73" dy="-1.85">3</tspan></text><text x="293.7" y="230.18" font-size="4.4" text-anchor="start" fill="#111" stroke="#111" stroke-width="0.07" textLength="5.5" lengthAdjust="spacingAndGlyphs">10<tspan font-size="2.73" dy="-1.85">4</tspan></text><text x="302.8" y="230.18" font-size="4.4" text-anchor="start" fill="#111" stroke="#111" stroke-width="0.07" textLength="5.5" lengthAdjust="spacingAndGlyphs">10<tspan font-size="2.73" dy="-1.85">5</tspan></text><text x="235.1" y="240.52" font-size="5.9" text-anchor="middle" fill="#222" textLength="10.2" lengthAdjust="spacingAndGlyphs">CD4</text><text x="290.45" y="240.52" font-size="5.9" text-anchor="middle" fill="#222" textLength="9.9" lengthAdjust="spacingAndGlyphs">CD8</text><line x1="194.6" y1="31.3" x2="194.6" y2="184.5" stroke="#111" stroke-width="1.05"/><path d="M194.6,26.3L191.4,33.2L194.6,31.9L197.8,33.2Z" fill="#000"/><text transform="translate(196.6,194) rotate(-90)" font-size="6" text-anchor="middle" fill="#222" textLength="12" lengthAdjust="spacingAndGlyphs">IFN-γ</text><rect x="364.3" y="64.81" width="9.5" height="48.79" fill="#a40232"/><line x1="366.85" y1="64.12" x2="371.25" y2="64.12" stroke="#000" stroke-width="0.9"/><line x1="369.05" y1="64.12" x2="369.05" y2="65.31" stroke="#000" stroke-width="0.9"/><rect x="373.8" y="73.26" width="9.2" height="40.34" fill="#6aae46"/><line x1="376.2" y1="72.63" x2="380.6" y2="72.63" stroke="#000" stroke-width="0.9"/><line x1="378.4" y1="72.63" x2="378.4" y2="73.76" stroke="#000" stroke-width="0.9"/><rect x="383" y="76.02" width="9.3" height="37.58" fill="#2b4f8c"/><line x1="385.45" y1="75.4" x2="389.85" y2="75.4" stroke="#000" stroke-width="0.9"/><line x1="387.65" y1="75.4" x2="387.65" y2="76.52" stroke="#000" stroke-width="0.9"/><rect x="392.3" y="80.04" width="9" height="33.56" fill="#52215f"/><line x1="394.6" y1="78.52" x2="399" y2="78.52" stroke="#000" stroke-width="0.9"/><line x1="396.8" y1="78.52" x2="396.8" y2="80.54" stroke="#000" stroke-width="0.9"/><text x="382.7" y="125.27" font-size="6.3" text-anchor="middle" fill="#222">CD4</text><line x1="382.7" y1="113.6" x2="382.7" y2="115.6" stroke="#000" stroke-width="0.8"/><rect x="410.2" y="49.24" width="9.1" height="64.36" fill="#a40232"/><line x1="412.55" y1="49.04" x2="416.95" y2="49.04" stroke="#000" stroke-width="0.9"/><line x1="414.75" y1="49.04" x2="414.75" y2="49.74" stroke="#000" stroke-width="0.9"/><rect x="419.3" y="48.55" width="9.1" height="65.05" fill="#6aae46"/><line x1="421.65" y1="48.14" x2="426.05" y2="48.14" stroke="#000" stroke-width="0.9"/><line x1="423.85" y1="48.14" x2="423.85" y2="49.05" stroke="#000" stroke-width="0.9"/><rect x="428.4" y="48.69" width="9.3" height="64.91" fill="#2b4f8c"/><line x1="430.85" y1="48.14" x2="435.25" y2="48.14" stroke="#000" stroke-width="0.9"/><line x1="433.05" y1="48.14" x2="433.05" y2="49.19" stroke="#000" stroke-width="0.9"/><rect x="437.7" y="50.63" width="9.1" height="62.97" fill="#52215f"/><line x1="440.05" y1="50.21" x2="444.45" y2="50.21" stroke="#000" stroke-width="0.9"/><line x1="442.25" y1="50.21" x2="442.25" y2="51.13" stroke="#000" stroke-width="0.9"/><text x="428.4" y="125.27" font-size="6.3" text-anchor="middle" fill="#222">CD8</text><line x1="428.4" y1="113.6" x2="428.4" y2="115.6" stroke="#000" stroke-width="0.8"/><line x1="360.5" y1="41.5" x2="360.5" y2="114.1" stroke="#000" stroke-width="1.1"/><line x1="360" y1="113.6" x2="452.5" y2="113.6" stroke="#000" stroke-width="1.1"/><line x1="357.5" y1="113.6" x2="360.5" y2="113.6" stroke="#000" stroke-width="0.9"/><text x="353.9" y="115.87" font-size="6.3" text-anchor="end" fill="#222">0</text><line x1="357.5" y1="96.3" x2="360.5" y2="96.3" stroke="#000" stroke-width="0.9"/><text x="353.9" y="98.57" font-size="6.3" text-anchor="end" fill="#222">25</text><line x1="357.5" y1="79" x2="360.5" y2="79" stroke="#000" stroke-width="0.9"/><text x="353.9" y="81.27" font-size="6.3" text-anchor="end" fill="#222">50</text><line x1="357.5" y1="61.7" x2="360.5" y2="61.7" stroke="#000" stroke-width="0.9"/><text x="353.9" y="63.97" font-size="6.3" text-anchor="end" fill="#222">75</text><line x1="357.5" y1="44.4" x2="360.5" y2="44.4" stroke="#000" stroke-width="0.9"/><text x="353.9" y="46.67" font-size="6.3" text-anchor="end" fill="#222">100</text><path d="M369,62.8V60.3H378.4V62.8" fill="none" stroke="#000" stroke-width="0.9"/><text x="373.7" y="61.39" font-size="7.4" text-anchor="middle" fill="#111" stroke="#111" stroke-width="0.15">**</text><path d="M369,53.8V51.3H386.8V53.8" fill="none" stroke="#000" stroke-width="0.9"/><text x="377.9" y="52.39" font-size="7.4" text-anchor="middle" fill="#111" stroke="#111" stroke-width="0.15">***</text><text transform="translate(337.2,77.6) rotate(-90)" font-size="8.4" text-anchor="middle" fill="#222" textLength="45.6" lengthAdjust="spacingAndGlyphs">% CFSE diluted</text><rect x="364.3" y="194.35" width="9.5" height="27.45" fill="#a40232"/><line x1="366.85" y1="193.78" x2="371.25" y2="193.78" stroke="#000" stroke-width="0.9"/><line x1="369.05" y1="193.78" x2="369.05" y2="194.85" stroke="#000" stroke-width="0.9"/><rect x="373.8" y="201.62" width="9.2" height="20.18" fill="#6aae46"/><line x1="376.2" y1="201.19" x2="380.6" y2="201.19" stroke="#000" stroke-width="0.9"/><line x1="378.4" y1="201.19" x2="378.4" y2="202.12" stroke="#000" stroke-width="0.9"/><rect x="383" y="206.61" width="9.5" height="15.19" fill="#2b4f8c"/><line x1="385.55" y1="205.9" x2="389.95" y2="205.9" stroke="#000" stroke-width="0.9"/><line x1="387.75" y1="205.9" x2="387.75" y2="207.11" stroke="#000" stroke-width="0.9"/><rect x="392.5" y="208.04" width="9.3" height="13.76" fill="#52215f"/><line x1="394.95" y1="207.33" x2="399.35" y2="207.33" stroke="#000" stroke-width="0.9"/><line x1="397.15" y1="207.33" x2="397.15" y2="208.54" stroke="#000" stroke-width="0.9"/><text x="382.5" y="234.77" font-size="6.3" text-anchor="middle" fill="#222">CD4</text><line x1="382.5" y1="221.8" x2="382.5" y2="223.8" stroke="#000" stroke-width="0.8"/><rect x="411.8" y="157.99" width="9.2" height="63.81" fill="#a40232"/><line x1="414.2" y1="157.63" x2="418.6" y2="157.63" stroke="#000" stroke-width="0.9"/><line x1="416.4" y1="157.63" x2="416.4" y2="158.49" stroke="#000" stroke-width="0.9"/><rect x="421" y="160.98" width="9.5" height="60.82" fill="#6aae46"/><line x1="423.55" y1="160.55" x2="427.95" y2="160.55" stroke="#000" stroke-width="0.9"/><line x1="425.75" y1="160.55" x2="425.75" y2="161.48" stroke="#000" stroke-width="0.9"/><rect x="430.5" y="158.7" width="9" height="63.1" fill="#2b4f8c"/><line x1="432.8" y1="158.13" x2="437.2" y2="158.13" stroke="#000" stroke-width="0.9"/><line x1="435" y1="158.13" x2="435" y2="159.2" stroke="#000" stroke-width="0.9"/><rect x="439.5" y="157.42" width="9.3" height="64.38" fill="#52215f"/><line x1="441.95" y1="156.85" x2="446.35" y2="156.85" stroke="#000" stroke-width="0.9"/><line x1="444.15" y1="156.85" x2="444.15" y2="157.92" stroke="#000" stroke-width="0.9"/><text x="430" y="234.77" font-size="6.3" text-anchor="middle" fill="#222">CD8</text><line x1="430" y1="221.8" x2="430" y2="223.8" stroke="#000" stroke-width="0.8"/><line x1="360.5" y1="147" x2="360.5" y2="222.3" stroke="#000" stroke-width="1.1"/><line x1="360" y1="221.8" x2="452.5" y2="221.8" stroke="#000" stroke-width="1.1"/><line x1="357.5" y1="221.8" x2="360.5" y2="221.8" stroke="#000" stroke-width="0.9"/><text x="353.9" y="224.07" font-size="6.3" text-anchor="end" fill="#222">0</text><line x1="357.5" y1="203.98" x2="360.5" y2="203.98" stroke="#000" stroke-width="0.9"/><text x="353.9" y="206.24" font-size="6.3" text-anchor="end" fill="#222">25</text><line x1="357.5" y1="186.15" x2="360.5" y2="186.15" stroke="#000" stroke-width="0.9"/><text x="353.9" y="188.42" font-size="6.3" text-anchor="end" fill="#222">50</text><line x1="357.5" y1="168.32" x2="360.5" y2="168.32" stroke="#000" stroke-width="0.9"/><text x="353.9" y="170.59" font-size="6.3" text-anchor="end" fill="#222">75</text><line x1="357.5" y1="150.5" x2="360.5" y2="150.5" stroke="#000" stroke-width="0.9"/><text x="353.9" y="152.77" font-size="6.3" text-anchor="end" fill="#222">100</text><path d="M369,190.5V188H378.4V190.5" fill="none" stroke="#000" stroke-width="0.9"/><text x="373.7" y="189.09" font-size="7.4" text-anchor="middle" fill="#111" stroke="#111" stroke-width="0.15">****</text><path d="M369,182V179.5H387.8V182" fill="none" stroke="#000" stroke-width="0.9"/><text x="378.4" y="180.59" font-size="7.4" text-anchor="middle" fill="#111" stroke="#111" stroke-width="0.15">***</text><text transform="translate(337.3,184.7) rotate(-90)" font-size="8.4" text-anchor="middle" fill="#222" textLength="23.4" lengthAdjust="spacingAndGlyphs">% IFN-γ</text><rect x="453.6" y="41.4" width="11.3" height="5.8" fill="#a40232"/><text x="468" y="46.7" font-size="6.7" fill="#222">WT+DMSO</text><rect x="453.6" y="53.2" width="11.3" height="5.8" fill="#6aae46"/><text x="468" y="58.5" font-size="6.7" fill="#222">WT+Ex-527</text><rect x="453.6" y="65" width="11.3" height="5.8" fill="#2b4f8c"/><text x="468" y="70.3" font-size="6.7" fill="#222">Sirt-1<tspan font-size="3.8" dy="-2.5">-/-</tspan><tspan dy="2.5">+DMSO</tspan></text><rect x="453.6" y="76.8" width="11.3" height="5.8" fill="#52215f"/><text x="468" y="82.1" font-size="6.7" fill="#222">Sirt-1<tspan font-size="3.8" dy="-2.5">-/-</tspan><tspan dy="2.5">+Ex-527</tspan></text><polyline points="60.8,483.7 61.2,483.7 61.6,483.7 62,483.7 62.4,483.7 62.8,483.7 63.2,483.7 63.6,483.7 64,483.7 64.4,483.7 64.8,483.7 65.2,483.7 65.6,483.7 66,483.7 66.4,483.7 66.8,483.7 67.2,483.7 67.6,483.7 68,483.7 68.4,483.7 68.8,483.7 69.2,483.7 69.6,483.7 70,483.7 70.4,483.7 70.8,483.7 71.2,483.7 71.6,483.7 72,483.7 72.4,483.7 72.8,483.7 73.2,483.69 73.6,483.67 74,483.56 74.4,483.21 74.8,482.23 75.2,479.92 75.6,475.47 76,468.49 76.4,459.82 76.8,451.89 77.2,447.73 77.6,449.17 78,449.3 78.4,446.37 78.8,449.3 79.2,456.8 79.6,465.84 80,473.64 80.4,478.89 80.8,481.75 81.2,483.03 81.6,483.5 82,483.65 82.4,483.69 82.8,483.7 83.2,483.7 83.6,483.7 84,483.7 84.4,483.7 84.8,483.67 85.2,483.44 85.6,482.05 86,476.97 86.4,465.87 86.8,453.08 87.2,449.58 87.6,459.04 88,472.14 88.4,480.18 88.8,483.01 89.2,483.61 89.6,483.69 90,483.7 90.4,483.7 90.8,483.7 91.2,483.7 91.6,483.7 92,483.7 92.4,483.7 92.8,483.7 93.2,483.7 93.6,483.7 94,483.7 94.4,483.7 94.8,483.7 95.2,483.7 95.6,483.7 96,483.7 96.4,483.7 96.8,483.7 97.2,483.7 97.6,483.7 98,483.7 98.4,483.7 98.8,483.7 99.2,483.7 99.6,483.7 100,483.7 100.4,483.7 100.8,483.7 101.2,483.7 101.6,483.7 102,483.7" fill="none" stroke="#dc9aac" stroke-width="1.25" stroke-linejoin="round"/><polyline points="60.8,483.7 61.2,483.7 61.6,483.7 62,483.7 62.4,483.7 62.8,483.7 63.2,483.7 63.6,483.7 64,483.7 64.4,483.7 64.8,483.7 65.2,483.7 65.6,483.7 66,483.7 66.4,483.7 66.8,483.7 67.2,483.7 67.6,483.7 68,483.7 68.4,483.7 68.8,483.7 69.2,483.7 69.6,483.7 70,483.7 70.4,483.7 70.8,483.7 71.2,483.7 71.6,483.7 72,483.7 72.4,483.7 72.8,483.7 73.2,483.69 73.6,483.67 74,483.56 74.4,483.21 74.8,482.23 75.2,479.92 75.6,475.47 76,468.49 76.4,459.82 76.8,451.89 77.2,447.73 77.6,449.17 78,449.3 78.4,446.37 78.8,449.3 79.2,456.8 79.6,465.84 80,473.64 80.4,478.89 80.8,481.75 81.2,483.03 81.6,483.5 82,483.65 82.4,483.69 82.8,483.7 83.2,483.7 83.6,483.7 84,483.7 84.4,483.7 84.8,483.67 85.2,483.44 85.6,482.05 86,476.97 86.4,465.87 86.8,453.08 87.2,449.58 87.6,459.04 88,472.14 88.4,480.18 88.8,483.01 89.2,483.61 89.6,483.69 90,483.7 90.4,483.7 90.8,483.7 91.2,483.7 91.6,483.7 92,483.7 92.4,483.7 92.8,483.7 93.2,483.7 93.6,483.7 94,483.7 94.4,483.7 94.8,483.7 95.2,483.7 95.6,483.7 96,483.7 96.4,483.7 96.8,483.7 97.2,483.7 97.6,483.7 98,483.7 98.4,483.7 98.8,483.7 99.2,483.7 99.6,483.7 100,483.7 100.4,483.7 100.8,483.7 101.2,483.7 101.6,483.7 102,483.7" fill="none" stroke="#a80f3c" stroke-width="0.8" stroke-linejoin="round"/><rect x="60.8" y="443.8" width="41.2" height="40.8" fill="none" stroke="#000" stroke-width="0.9"/><line x1="60.8" y1="443.5" x2="60.8" y2="484.9" stroke="#000" stroke-width="1.3"/><line x1="60.5" y1="484.6" x2="102.3" y2="484.6" stroke="#000" stroke-width="1.3"/><line x1="68.63" y1="464.2" x2="94.17" y2="464.2" stroke="#222" stroke-width="1"/><circle cx="87.1" cy="464.2" r="0.9" fill="#000"/><circle cx="61.2" cy="464.2" r="0.6" fill="#000"/><text x="62.1" y="463.21" font-size="5.3" text-anchor="start" fill="#000">73</text><text x="101.9" y="463.21" font-size="5.3" text-anchor="end" fill="#000">27</text><text x="54.8" y="485.68" font-size="4.4" text-anchor="end" fill="#000" stroke="#000" stroke-width="0.18">0</text><text x="54.8" y="473.12" font-size="4.4" text-anchor="end" fill="#000" stroke="#000" stroke-width="0.18">100</text><text x="54.8" y="460.55" font-size="4.4" text-anchor="end" fill="#000" stroke="#000" stroke-width="0.18">200</text><text x="54.8" y="447.98" font-size="4.4" text-anchor="end" fill="#000" stroke="#000" stroke-width="0.18">300</text><text x="64.6" y="493.18" font-size="4.4" text-anchor="middle" fill="#111" stroke="#111" stroke-width="0.07">0</text><text x="66.5" y="493.18" font-size="4.4" text-anchor="start" fill="#111" stroke="#111" stroke-width="0.07" textLength="5.5" lengthAdjust="spacingAndGlyphs">10<tspan font-size="2.73" dy="-1.85">2</tspan></text><text x="75.8" y="493.18" font-size="4.4" text-anchor="start" fill="#111" stroke="#111" stroke-width="0.07" textLength="5.5" lengthAdjust="spacingAndGlyphs">10<tspan font-size="2.73" dy="-1.85">3</tspan></text><text x="85.7" y="493.18" font-size="4.4" text-anchor="start" fill="#111" stroke="#111" stroke-width="0.07" textLength="5.5" lengthAdjust="spacingAndGlyphs">10<tspan font-size="2.73" dy="-1.85">4</tspan></text><text x="94.8" y="493.18" font-size="4.4" text-anchor="start" fill="#111" stroke="#111" stroke-width="0.07" textLength="5.5" lengthAdjust="spacingAndGlyphs">10<tspan font-size="2.73" dy="-1.85">5</tspan></text><polyline points="120.2,483.7 120.6,483.7 121,483.7 121.4,483.7 121.8,483.7 122.2,483.7 122.6,483.7 123,483.7 123.4,483.7 123.8,483.7 124.2,483.7 124.6,483.7 125,483.7 125.4,483.7 125.8,483.7 126.2,483.7 126.6,483.7 127,483.7 127.4,483.7 127.8,483.7 128.2,483.7 128.6,483.7 129,483.7 129.4,483.7 129.8,483.7 130.2,483.7 130.6,483.7 131,483.7 131.4,483.7 131.8,483.7 132.2,483.7 132.6,483.7 133,483.69 133.4,483.67 133.8,483.6 134.2,483.42 134.6,482.95 135,481.92 135.4,479.9 135.8,476.43 136.2,471.22 136.6,464.46 137,457.08 137.4,450.64 137.8,446.87 138.2,446.87 138.6,450.64 139,457.08 139.4,464.46 139.8,471.22 140.2,476.43 140.6,479.9 141,481.92 141.4,482.95 141.8,483.42 142.2,483.6 142.6,483.67 143,483.69 143.4,483.7 143.8,483.7 144.2,483.7 144.6,483.7 145,483.66 145.4,483.4 145.8,482.36 146.2,479.73 146.6,476.1 147,474.27 147.4,476.1 147.8,479.73 148.2,482.36 148.6,483.4 149,483.66 149.4,483.7 149.8,483.7 150.2,483.7 150.6,483.7 151,483.7 151.4,483.7 151.8,483.7 152.2,483.7 152.6,483.7 153,483.7 153.4,483.7 153.8,483.7 154.2,483.7 154.6,483.7 155,483.7 155.4,483.7 155.8,483.7 156.2,483.7 156.6,483.7 157,483.7 157.4,483.7 157.8,483.7 158.2,483.7 158.6,483.7 159,483.7 159.4,483.7 159.8,483.7 160.2,483.7 160.6,483.7 161,483.7 161.4,483.7" fill="none" stroke="#dc9aac" stroke-width="1.25" stroke-linejoin="round"/><polyline points="120.2,483.7 120.6,483.7 121,483.7 121.4,483.7 121.8,483.7 122.2,483.7 122.6,483.7 123,483.7 123.4,483.7 123.8,483.7 124.2,483.7 124.6,483.7 125,483.7 125.4,483.7 125.8,483.7 126.2,483.7 126.6,483.7 127,483.7 127.4,483.7 127.8,483.7 128.2,483.7 128.6,483.7 129,483.7 129.4,483.7 129.8,483.7 130.2,483.7 130.6,483.7 131,483.7 131.4,483.7 131.8,483.7 132.2,483.7 132.6,483.7 133,483.69 133.4,483.67 133.8,483.6 134.2,483.42 134.6,482.95 135,481.92 135.4,479.9 135.8,476.43 136.2,471.22 136.6,464.46 137,457.08 137.4,450.64 137.8,446.87 138.2,446.87 138.6,450.64 139,457.08 139.4,464.46 139.8,471.22 140.2,476.43 140.6,479.9 141,481.92 141.4,482.95 141.8,483.42 142.2,483.6 142.6,483.67 143,483.69 143.4,483.7 143.8,483.7 144.2,483.7 144.6,483.7 145,483.66 145.4,483.4 145.8,482.36 146.2,479.73 146.6,476.1 147,474.27 147.4,476.1 147.8,479.73 148.2,482.36 148.6,483.4 149,483.66 149.4,483.7 149.8,483.7 150.2,483.7 150.6,483.7 151,483.7 151.4,483.7 151.8,483.7 152.2,483.7 152.6,483.7 153,483.7 153.4,483.7 153.8,483.7 154.2,483.7 154.6,483.7 155,483.7 155.4,483.7 155.8,483.7 156.2,483.7 156.6,483.7 157,483.7 157.4,483.7 157.8,483.7 158.2,483.7 158.6,483.7 159,483.7 159.4,483.7 159.8,483.7 160.2,483.7 160.6,483.7 161,483.7 161.4,483.7" fill="none" stroke="#a80f3c" stroke-width="0.8" stroke-linejoin="round"/><rect x="120.2" y="443.8" width="41.3" height="40.8" fill="none" stroke="#000" stroke-width="0.9"/><line x1="120.2" y1="443.5" x2="120.2" y2="484.9" stroke="#000" stroke-width="1.3"/><line x1="119.9" y1="484.6" x2="161.8" y2="484.6" stroke="#000" stroke-width="1.3"/><line x1="128.05" y1="472.36" x2="153.65" y2="472.36" stroke="#222" stroke-width="1"/><circle cx="144.6" cy="472.36" r="0.9" fill="#000"/><circle cx="120.6" cy="472.36" r="0.6" fill="#000"/><text x="121.5" y="471.37" font-size="5.3" text-anchor="start" fill="#000">92</text><text x="161.4" y="471.37" font-size="5.3" text-anchor="end" fill="#000">7.7</text><text x="114.2" y="485.68" font-size="4.4" text-anchor="end" fill="#000" stroke="#000" stroke-width="0.18">0</text><text x="114.2" y="476.88" font-size="4.4" text-anchor="end" fill="#000" stroke="#000" stroke-width="0.18">200</text><text x="114.2" y="468.08" font-size="4.4" text-anchor="end" fill="#000" stroke="#000" stroke-width="0.18">400</text><text x="114.2" y="459.28" font-size="4.4" text-anchor="end" fill="#000" stroke="#000" stroke-width="0.18">600</text><text x="114.2" y="450.48" font-size="4.4" text-anchor="end" fill="#000" stroke="#000" stroke-width="0.18">800</text><text x="124" y="493.18" font-size="4.4" text-anchor="middle" fill="#111" stroke="#111" stroke-width="0.07">0</text><text x="125.9" y="493.18" font-size="4.4" text-anchor="start" fill="#111" stroke="#111" stroke-width="0.07" textLength="5.5" lengthAdjust="spacingAndGlyphs">10<tspan font-size="2.73" dy="-1.85">2</tspan></text><text x="135.2" y="493.18" font-size="4.4" text-anchor="start" fill="#111" stroke="#111" stroke-width="0.07" textLength="5.5" lengthAdjust="spacingAndGlyphs">10<tspan font-size="2.73" dy="-1.85">3</tspan></text><text x="145.1" y="493.18" font-size="4.4" text-anchor="start" fill="#111" stroke="#111" stroke-width="0.07" textLength="5.5" lengthAdjust="spacingAndGlyphs">10<tspan font-size="2.73" dy="-1.85">4</tspan></text><text x="154.2" y="493.18" font-size="4.4" text-anchor="start" fill="#111" stroke="#111" stroke-width="0.07" textLength="5.5" lengthAdjust="spacingAndGlyphs">10<tspan font-size="2.73" dy="-1.85">5</tspan></text><polyline points="60.8,539.5 61.2,539.5 61.6,539.5 62,539.5 62.4,539.5 62.8,539.5 63.2,539.5 63.6,539.5 64,539.5 64.4,539.5 64.8,539.5 65.2,539.5 65.6,539.5 66,539.5 66.4,539.5 66.8,539.5 67.2,539.5 67.6,539.5 68,539.5 68.4,539.5 68.8,539.5 69.2,539.5 69.6,539.5 70,539.5 70.4,539.5 70.8,539.5 71.2,539.5 71.6,539.5 72,539.5 72.4,539.5 72.8,539.5 73.2,539.49 73.6,539.47 74,539.41 74.4,539.24 74.8,538.85 75.2,538.04 75.6,536.63 76,534.51 76.4,531.82 76.8,529.05 77.2,526.94 77.6,526.14 78,526.94 78.4,529.05 78.8,531.82 79.2,534.51 79.6,536.63 80,538.04 80.4,538.85 80.8,539.24 81.2,539.41 81.6,539.47 82,539.49 82.4,539.5 82.8,539.5 83.2,539.5 83.6,539.5 84,539.5 84.4,539.5 84.8,539.5 85.2,539.49 85.6,539.38 86,538.35 86.4,533.25 86.8,520.15 87.2,505.44 87.6,505.44 88,520.15 88.4,533.25 88.8,538.35 89.2,539.38 89.6,539.49 90,539.5 90.4,539.5 90.8,539.5 91.2,539.5 91.6,539.5 92,539.5 92.4,539.5 92.8,539.5 93.2,539.5 93.6,539.5 94,539.5 94.4,539.5 94.8,539.5 95.2,539.5 95.6,539.5 96,539.5 96.4,539.5 96.8,539.5 97.2,539.5 97.6,539.5 98,539.5 98.4,539.5 98.8,539.5 99.2,539.5 99.6,539.5 100,539.5 100.4,539.5 100.8,539.5 101.2,539.5 101.6,539.5 102,539.5" fill="none" stroke="#dc9aac" stroke-width="1.25" stroke-linejoin="round"/><polyline points="60.8,539.5 61.2,539.5 61.6,539.5 62,539.5 62.4,539.5 62.8,539.5 63.2,539.5 63.6,539.5 64,539.5 64.4,539.5 64.8,539.5 65.2,539.5 65.6,539.5 66,539.5 66.4,539.5 66.8,539.5 67.2,539.5 67.6,539.5 68,539.5 68.4,539.5 68.8,539.5 69.2,539.5 69.6,539.5 70,539.5 70.4,539.5 70.8,539.5 71.2,539.5 71.6,539.5 72,539.5 72.4,539.5 72.8,539.5 73.2,539.49 73.6,539.47 74,539.41 74.4,539.24 74.8,538.85 75.2,538.04 75.6,536.63 76,534.51 76.4,531.82 76.8,529.05 77.2,526.94 77.6,526.14 78,526.94 78.4,529.05 78.8,531.82 79.2,534.51 79.6,536.63 80,538.04 80.4,538.85 80.8,539.24 81.2,539.41 81.6,539.47 82,539.49 82.4,539.5 82.8,539.5 83.2,539.5 83.6,539.5 84,539.5 84.4,539.5 84.8,539.5 85.2,539.49 85.6,539.38 86,538.35 86.4,533.25 86.8,520.15 87.2,505.44 87.6,505.44 88,520.15 88.4,533.25 88.8,538.35 89.2,539.38 89.6,539.49 90,539.5 90.4,539.5 90.8,539.5 91.2,539.5 91.6,539.5 92,539.5 92.4,539.5 92.8,539.5 93.2,539.5 93.6,539.5 94,539.5 94.4,539.5 94.8,539.5 95.2,539.5 95.6,539.5 96,539.5 96.4,539.5 96.8,539.5 97.2,539.5 97.6,539.5 98,539.5 98.4,539.5 98.8,539.5 99.2,539.5 99.6,539.5 100,539.5 100.4,539.5 100.8,539.5 101.2,539.5 101.6,539.5 102,539.5" fill="none" stroke="#a80f3c" stroke-width="0.8" stroke-linejoin="round"/><rect x="60.8" y="499.6" width="41.2" height="40.8" fill="none" stroke="#000" stroke-width="0.9"/><line x1="60.8" y1="499.3" x2="60.8" y2="540.7" stroke="#000" stroke-width="1.3"/><line x1="60.5" y1="540.4" x2="102.3" y2="540.4" stroke="#000" stroke-width="1.3"/><line x1="68.63" y1="520" x2="94.17" y2="520" stroke="#222" stroke-width="1"/><circle cx="87.4" cy="520" r="0.9" fill="#000"/><circle cx="61.2" cy="520" r="0.6" fill="#000"/><text x="62.1" y="519.01" font-size="5.3" text-anchor="start" fill="#000">49</text><text x="101.9" y="519.01" font-size="5.3" text-anchor="end" fill="#000">51</text><text x="54.8" y="541.48" font-size="4.4" text-anchor="end" fill="#000" stroke="#000" stroke-width="0.18">0</text><text x="54.8" y="528.12" font-size="4.4" text-anchor="end" fill="#000" stroke="#000" stroke-width="0.18">200</text><text x="54.8" y="514.75" font-size="4.4" text-anchor="end" fill="#000" stroke="#000" stroke-width="0.18">400</text><text x="54.8" y="501.38" font-size="4.4" text-anchor="end" fill="#000" stroke="#000" stroke-width="0.18">600</text><text x="64.6" y="548.98" font-size="4.4" text-anchor="middle" fill="#111" stroke="#111" stroke-width="0.07">0</text><text x="66.5" y="548.98" font-size="4.4" text-anchor="start" fill="#111" stroke="#111" stroke-width="0.07" textLength="5.5" lengthAdjust="spacingAndGlyphs">10<tspan font-size="2.73" dy="-1.85">2</tspan></text><text x="75.8" y="548.98" font-size="4.4" text-anchor="start" fill="#111" stroke="#111" stroke-width="0.07" textLength="5.5" lengthAdjust="spacingAndGlyphs">10<tspan font-size="2.73" dy="-1.85">3</tspan></text><text x="85.7" y="548.98" font-size="4.4" text-anchor="start" fill="#111" stroke="#111" stroke-width="0.07" textLength="5.5" lengthAdjust="spacingAndGlyphs">10<tspan font-size="2.73" dy="-1.85">4</tspan></text><text x="94.8" y="548.98" font-size="4.4" text-anchor="start" fill="#111" stroke="#111" stroke-width="0.07" textLength="5.5" lengthAdjust="spacingAndGlyphs">10<tspan font-size="2.73" dy="-1.85">5</tspan></text><polyline points="120.2,539.5 120.6,539.5 121,539.5 121.4,539.5 121.8,539.5 122.2,539.5 122.6,539.5 123,539.5 123.4,539.5 123.8,539.5 124.2,539.5 124.6,539.5 125,539.5 125.4,539.5 125.8,539.5 126.2,539.5 126.6,539.5 127,539.5 127.4,539.5 127.8,539.5 128.2,539.5 128.6,539.5 129,539.5 129.4,539.5 129.8,539.5 130.2,539.5 130.6,539.5 131,539.5 131.4,539.5 131.8,539.5 132.2,539.5 132.6,539.5 133,539.49 133.4,539.47 133.8,539.4 134.2,539.22 134.6,538.75 135,537.72 135.4,535.7 135.8,532.23 136.2,527.02 136.6,520.26 137,512.88 137.4,506.44 137.8,502.67 138.2,502.67 138.6,506.44 139,512.88 139.4,520.26 139.8,527.02 140.2,532.23 140.6,535.7 141,537.72 141.4,538.75 141.8,539.22 142.2,539.4 142.6,539.47 143,539.49 143.4,539.5 143.8,539.5 144.2,539.5 144.6,539.49 145,539.41 145.4,538.88 145.8,536.7 146.2,531.23 146.6,523.67 147,519.85 147.4,523.67 147.8,531.23 148.2,536.7 148.6,538.88 149,539.41 149.4,539.49 149.8,539.5 150.2,539.5 150.6,539.5 151,539.5 151.4,539.5 151.8,539.5 152.2,539.5 152.6,539.5 153,539.5 153.4,539.5 153.8,539.5 154.2,539.5 154.6,539.5 155,539.5 155.4,539.5 155.8,539.5 156.2,539.5 156.6,539.5 157,539.5 157.4,539.5 157.8,539.5 158.2,539.5 158.6,539.5 159,539.5 159.4,539.5 159.8,539.5 160.2,539.5 160.6,539.5 161,539.5 161.4,539.5" fill="none" stroke="#dc9aac" stroke-width="1.25" stroke-linejoin="round"/><polyline points="120.2,539.5 120.6,539.5 121,539.5 121.4,539.5 121.8,539.5 122.2,539.5 122.6,539.5 123,539.5 123.4,539.5 123.8,539.5 124.2,539.5 124.6,539.5 125,539.5 125.4,539.5 125.8,539.5 126.2,539.5 126.6,539.5 127,539.5 127.4,539.5 127.8,539.5 128.2,539.5 128.6,539.5 129,539.5 129.4,539.5 129.8,539.5 130.2,539.5 130.6,539.5 131,539.5 131.4,539.5 131.8,539.5 132.2,539.5 132.6,539.5 133,539.49 133.4,539.47 133.8,539.4 134.2,539.22 134.6,538.75 135,537.72 135.4,535.7 135.8,532.23 136.2,527.02 136.6,520.26 137,512.88 137.4,506.44 137.8,502.67 138.2,502.67 138.6,506.44 139,512.88 139.4,520.26 139.8,527.02 140.2,532.23 140.6,535.7 141,537.72 141.4,538.75 141.8,539.22 142.2,539.4 142.6,539.47 143,539.49 143.4,539.5 143.8,539.5 144.2,539.5 144.6,539.49 145,539.41 145.4,538.88 145.8,536.7 146.2,531.23 146.6,523.67 147,519.85 147.4,523.67 147.8,531.23 148.2,536.7 148.6,538.88 149,539.41 149.4,539.49 149.8,539.5 150.2,539.5 150.6,539.5 151,539.5 151.4,539.5 151.8,539.5 152.2,539.5 152.6,539.5 153,539.5 153.4,539.5 153.8,539.5 154.2,539.5 154.6,539.5 155,539.5 155.4,539.5 155.8,539.5 156.2,539.5 156.6,539.5 157,539.5 157.4,539.5 157.8,539.5 158.2,539.5 158.6,539.5 159,539.5 159.4,539.5 159.8,539.5 160.2,539.5 160.6,539.5 161,539.5 161.4,539.5" fill="none" stroke="#a80f3c" stroke-width="0.8" stroke-linejoin="round"/><rect x="120.2" y="499.6" width="41.3" height="40.8" fill="none" stroke="#000" stroke-width="0.9"/><line x1="120.2" y1="499.3" x2="120.2" y2="540.7" stroke="#000" stroke-width="1.3"/><line x1="119.9" y1="540.4" x2="161.8" y2="540.4" stroke="#000" stroke-width="1.3"/><line x1="128.05" y1="528.16" x2="153.65" y2="528.16" stroke="#222" stroke-width="1"/><circle cx="144.6" cy="528.16" r="0.9" fill="#000"/><circle cx="120.6" cy="528.16" r="0.6" fill="#000"/><text x="121.5" y="527.17" font-size="5.3" text-anchor="start" fill="#000">84</text><text x="161.4" y="527.17" font-size="5.3" text-anchor="end" fill="#000">16</text><text x="114.2" y="541.48" font-size="4.4" text-anchor="end" fill="#000" stroke="#000" stroke-width="0.18">0</text><text x="114.2" y="531.46" font-size="4.4" text-anchor="end" fill="#000" stroke="#000" stroke-width="0.18">200</text><text x="114.2" y="521.43" font-size="4.4" text-anchor="end" fill="#000" stroke="#000" stroke-width="0.18">400</text><text x="114.2" y="511.41" font-size="4.4" text-anchor="end" fill="#000" stroke="#000" stroke-width="0.18">600</text><text x="114.2" y="501.38" font-size="4.4" text-anchor="end" fill="#000" stroke="#000" stroke-width="0.18">800</text><text x="124" y="548.98" font-size="4.4" text-anchor="middle" fill="#111" stroke="#111" stroke-width="0.07">0</text><text x="125.9" y="548.98" font-size="4.4" text-anchor="start" fill="#111" stroke="#111" stroke-width="0.07" textLength="5.5" lengthAdjust="spacingAndGlyphs">10<tspan font-size="2.73" dy="-1.85">2</tspan></text><text x="135.2" y="548.98" font-size="4.4" text-anchor="start" fill="#111" stroke="#111" stroke-width="0.07" textLength="5.5" lengthAdjust="spacingAndGlyphs">10<tspan font-size="2.73" dy="-1.85">3</tspan></text><text x="145.1" y="548.98" font-size="4.4" text-anchor="start" fill="#111" stroke="#111" stroke-width="0.07" textLength="5.5" lengthAdjust="spacingAndGlyphs">10<tspan font-size="2.73" dy="-1.85">4</tspan></text><text x="154.2" y="548.98" font-size="4.4" text-anchor="start" fill="#111" stroke="#111" stroke-width="0.07" textLength="5.5" lengthAdjust="spacingAndGlyphs">10<tspan font-size="2.73" dy="-1.85">5</tspan></text><polyline points="60.8,593.3 61.2,593.3 61.6,593.3 62,593.3 62.4,593.3 62.8,593.3 63.2,593.3 63.6,593.3 64,593.3 64.4,593.3 64.8,593.3 65.2,593.3 65.6,593.3 66,593.3 66.4,593.3 66.8,593.3 67.2,593.3 67.6,593.3 68,593.3 68.4,593.3 68.8,593.3 69.2,593.3 69.6,593.3 70,593.3 70.4,593.3 70.8,593.3 71.2,593.3 71.6,593.3 72,593.3 72.4,593.3 72.8,593.3 73.2,593.3 73.6,593.29 74,593.26 74.4,593.14 74.8,592.78 75.2,591.84 75.6,589.77 76,585.88 76.4,579.77 76.8,571.88 77.2,563.86 77.6,558.18 78,556.91 78.4,560.57 78.8,567.74 79.2,575.97 79.6,583.1 80,588.09 80.4,590.99 80.8,592.41 81.2,593 81.6,593.21 82,593.28 82.4,593.3 82.8,593.3 83.2,593.3 83.6,593.3 84,593.3 84.4,593.3 84.8,593.3 85.2,593.28 85.6,593.06 86,591.57 86.4,585.71 86.8,572.98 87.2,560.04 87.6,560.04 88,572.98 88.4,585.71 88.8,591.57 89.2,593.06 89.6,593.28 90,593.3 90.4,593.3 90.8,593.3 91.2,593.3 91.6,593.3 92,593.3 92.4,593.3 92.8,593.3 93.2,593.3 93.6,593.3 94,593.3 94.4,593.3 94.8,593.3 95.2,593.3 95.6,593.3 96,593.3 96.4,593.3 96.8,593.3 97.2,593.3 97.6,593.3 98,593.3 98.4,593.3 98.8,593.3 99.2,593.3 99.6,593.3 100,593.3 100.4,593.3 100.8,593.3 101.2,593.3 101.6,593.3 102,593.3" fill="none" stroke="#dc9aac" stroke-width="1.25" stroke-linejoin="round"/><polyline points="60.8,593.3 61.2,593.3 61.6,593.3 62,593.3 62.4,593.3 62.8,593.3 63.2,593.3 63.6,593.3 64,593.3 64.4,593.3 64.8,593.3 65.2,593.3 65.6,593.3 66,593.3 66.4,593.3 66.8,593.3 67.2,593.3 67.6,593.3 68,593.3 68.4,593.3 68.8,593.3 69.2,593.3 69.6,593.3 70,593.3 70.4,593.3 70.8,593.3 71.2,593.3 71.6,593.3 72,593.3 72.4,593.3 72.8,593.3 73.2,593.3 73.6,593.29 74,593.26 74.4,593.14 74.8,592.78 75.2,591.84 75.6,589.77 76,585.88 76.4,579.77 76.8,571.88 77.2,563.86 77.6,558.18 78,556.91 78.4,560.57 78.8,567.74 79.2,575.97 79.6,583.1 80,588.09 80.4,590.99 80.8,592.41 81.2,593 81.6,593.21 82,593.28 82.4,593.3 82.8,593.3 83.2,593.3 83.6,593.3 84,593.3 84.4,593.3 84.8,593.3 85.2,593.28 85.6,593.06 86,591.57 86.4,585.71 86.8,572.98 87.2,560.04 87.6,560.04 88,572.98 88.4,585.71 88.8,591.57 89.2,593.06 89.6,593.28 90,593.3 90.4,593.3 90.8,593.3 91.2,593.3 91.6,593.3 92,593.3 92.4,593.3 92.8,593.3 93.2,593.3 93.6,593.3 94,593.3 94.4,593.3 94.8,593.3 95.2,593.3 95.6,593.3 96,593.3 96.4,593.3 96.8,593.3 97.2,593.3 97.6,593.3 98,593.3 98.4,593.3 98.8,593.3 99.2,593.3 99.6,593.3 100,593.3 100.4,593.3 100.8,593.3 101.2,593.3 101.6,593.3 102,593.3" fill="none" stroke="#a80f3c" stroke-width="0.8" stroke-linejoin="round"/><rect x="60.8" y="553.4" width="41.2" height="40.8" fill="none" stroke="#000" stroke-width="0.9"/><line x1="60.8" y1="553.1" x2="60.8" y2="594.5" stroke="#000" stroke-width="1.3"/><line x1="60.5" y1="594.2" x2="102.3" y2="594.2" stroke="#000" stroke-width="1.3"/><line x1="68.63" y1="573.8" x2="94.17" y2="573.8" stroke="#222" stroke-width="1"/><circle cx="87.4" cy="573.8" r="0.9" fill="#000"/><circle cx="61.2" cy="573.8" r="0.6" fill="#000"/><text x="62.1" y="572.81" font-size="5.3" text-anchor="start" fill="#000">74</text><text x="101.9" y="572.81" font-size="5.3" text-anchor="end" fill="#000">26</text><text x="54.8" y="595.28" font-size="4.4" text-anchor="end" fill="#000" stroke="#000" stroke-width="0.18">0</text><text x="54.8" y="586.43" font-size="4.4" text-anchor="end" fill="#000" stroke="#000" stroke-width="0.18">50</text><text x="54.8" y="577.58" font-size="4.4" text-anchor="end" fill="#000" stroke="#000" stroke-width="0.18">100</text><text x="54.8" y="568.73" font-size="4.4" text-anchor="end" fill="#000" stroke="#000" stroke-width="0.18">150</text><text x="54.8" y="559.88" font-size="4.4" text-anchor="end" fill="#000" stroke="#000" stroke-width="0.18">200</text><text x="64.6" y="602.78" font-size="4.4" text-anchor="middle" fill="#111" stroke="#111" stroke-width="0.07">0</text><text x="66.5" y="602.78" font-size="4.4" text-anchor="start" fill="#111" stroke="#111" stroke-width="0.07" textLength="5.5" lengthAdjust="spacingAndGlyphs">10<tspan font-size="2.73" dy="-1.85">2</tspan></text><text x="75.8" y="602.78" font-size="4.4" text-anchor="start" fill="#111" stroke="#111" stroke-width="0.07" textLength="5.5" lengthAdjust="spacingAndGlyphs">10<tspan font-size="2.73" dy="-1.85">3</tspan></text><text x="85.7" y="602.78" font-size="4.4" text-anchor="start" fill="#111" stroke="#111" stroke-width="0.07" textLength="5.5" lengthAdjust="spacingAndGlyphs">10<tspan font-size="2.73" dy="-1.85">4</tspan></text><text x="94.8" y="602.78" font-size="4.4" text-anchor="start" fill="#111" stroke="#111" stroke-width="0.07" textLength="5.5" lengthAdjust="spacingAndGlyphs">10<tspan font-size="2.73" dy="-1.85">5</tspan></text><polyline points="120.2,593.3 120.6,593.3 121,593.3 121.4,593.3 121.8,593.3 122.2,593.3 122.6,593.3 123,593.3 123.4,593.3 123.8,593.3 124.2,593.3 124.6,593.3 125,593.3 125.4,593.3 125.8,593.3 126.2,593.3 126.6,593.3 127,593.3 127.4,593.3 127.8,593.3 128.2,593.3 128.6,593.3 129,593.3 129.4,593.3 129.8,593.3 130.2,593.3 130.6,593.3 131,593.3 131.4,593.3 131.8,593.3 132.2,593.3 132.6,593.3 133,593.3 133.4,593.29 133.8,593.27 134.2,593.21 134.6,593.02 135,592.57 135.4,591.56 135.8,589.58 136.2,586.19 136.6,581.08 137,574.46 137.4,567.24 137.8,560.94 138.2,557.24 138.6,557.24 139,560.94 139.4,567.24 139.8,574.46 140.2,581.08 140.6,586.19 141,589.58 141.4,591.56 141.8,592.57 142.2,593.02 142.6,593.21 143,593.27 143.4,593.29 143.8,593.3 144.2,593.3 144.6,593.3 145,593.29 145.4,593.26 145.8,593.13 146.2,592.8 146.6,592.35 147,592.12 147.4,592.35 147.8,592.8 148.2,593.13 148.6,593.26 149,593.29 149.4,593.3 149.8,593.3 150.2,593.3 150.6,593.3 151,593.3 151.4,593.3 151.8,593.3 152.2,593.3 152.6,593.3 153,593.3 153.4,593.3 153.8,593.3 154.2,593.3 154.6,593.3 155,593.3 155.4,593.3 155.8,593.3 156.2,593.3 156.6,593.3 157,593.3 157.4,593.3 157.8,593.3 158.2,593.3 158.6,593.3 159,593.3 159.4,593.3 159.8,593.3 160.2,593.3 160.6,593.3 161,593.3 161.4,593.3" fill="none" stroke="#dc9aac" stroke-width="1.25" stroke-linejoin="round"/><polyline points="120.2,593.3 120.6,593.3 121,593.3 121.4,593.3 121.8,593.3 122.2,593.3 122.6,593.3 123,593.3 123.4,593.3 123.8,593.3 124.2,593.3 124.6,593.3 125,593.3 125.4,593.3 125.8,593.3 126.2,593.3 126.6,593.3 127,593.3 127.4,593.3 127.8,593.3 128.2,593.3 128.6,593.3 129,593.3 129.4,593.3 129.8,593.3 130.2,593.3 130.6,593.3 131,593.3 131.4,593.3 131.8,593.3 132.2,593.3 132.6,593.3 133,593.3 133.4,593.29 133.8,593.27 134.2,593.21 134.6,593.02 135,592.57 135.4,591.56 135.8,589.58 136.2,586.19 136.6,581.08 137,574.46 137.4,567.24 137.8,560.94 138.2,557.24 138.6,557.24 139,560.94 139.4,567.24 139.8,574.46 140.2,581.08 140.6,586.19 141,589.58 141.4,591.56 141.8,592.57 142.2,593.02 142.6,593.21 143,593.27 143.4,593.29 143.8,593.3 144.2,593.3 144.6,593.3 145,593.29 145.4,593.26 145.8,593.13 146.2,592.8 146.6,592.35 147,592.12 147.4,592.35 147.8,592.8 148.2,593.13 148.6,593.26 149,593.29 149.4,593.3 149.8,593.3 150.2,593.3 150.6,593.3 151,593.3 151.4,593.3 151.8,593.3 152.2,593.3 152.6,593.3 153,593.3 153.4,593.3 153.8,593.3 154.2,593.3 154.6,593.3 155,593.3 155.4,593.3 155.8,593.3 156.2,593.3 156.6,593.3 157,593.3 157.4,593.3 157.8,593.3 158.2,593.3 158.6,593.3 159,593.3 159.4,593.3 159.8,593.3 160.2,593.3 160.6,593.3 161,593.3 161.4,593.3" fill="none" stroke="#a80f3c" stroke-width="0.8" stroke-linejoin="round"/><rect x="120.2" y="553.4" width="41.3" height="40.8" fill="none" stroke="#000" stroke-width="0.9"/><line x1="120.2" y1="553.1" x2="120.2" y2="594.5" stroke="#000" stroke-width="1.3"/><line x1="119.9" y1="594.2" x2="161.8" y2="594.2" stroke="#000" stroke-width="1.3"/><line x1="128.05" y1="581.96" x2="153.65" y2="581.96" stroke="#222" stroke-width="1"/><circle cx="144.6" cy="581.96" r="0.9" fill="#000"/><circle cx="120.6" cy="581.96" r="0.6" fill="#000"/><text x="121.5" y="580.97" font-size="5.3" text-anchor="start" fill="#000">98</text><text x="161.4" y="580.97" font-size="5.3" text-anchor="end" fill="#000">1.7</text><text x="114.2" y="595.28" font-size="4.4" text-anchor="end" fill="#000" stroke="#000" stroke-width="0.18">0</text><text x="114.2" y="587.94" font-size="4.4" text-anchor="end" fill="#000" stroke="#000" stroke-width="0.18">200</text><text x="114.2" y="580.6" font-size="4.4" text-anchor="end" fill="#000" stroke="#000" stroke-width="0.18">400</text><text x="114.2" y="573.26" font-size="4.4" text-anchor="end" fill="#000" stroke="#000" stroke-width="0.18">600</text><text x="114.2" y="565.92" font-size="4.4" text-anchor="end" fill="#000" stroke="#000" stroke-width="0.18">800</text><text x="114.2" y="558.58" font-size="4.4" text-anchor="end" fill="#000" stroke="#000" stroke-width="0.18">1000</text><text x="124" y="602.78" font-size="4.4" text-anchor="middle" fill="#111" stroke="#111" stroke-width="0.07">0</text><text x="125.9" y="602.78" font-size="4.4" text-anchor="start" fill="#111" stroke="#111" stroke-width="0.07" textLength="5.5" lengthAdjust="spacingAndGlyphs">10<tspan font-size="2.73" dy="-1.85">2</tspan></text><text x="135.2" y="602.78" font-size="4.4" text-anchor="start" fill="#111" stroke="#111" stroke-width="0.07" textLength="5.5" lengthAdjust="spacingAndGlyphs">10<tspan font-size="2.73" dy="-1.85">3</tspan></text><text x="145.1" y="602.78" font-size="4.4" text-anchor="start" fill="#111" stroke="#111" stroke-width="0.07" textLength="5.5" lengthAdjust="spacingAndGlyphs">10<tspan font-size="2.73" dy="-1.85">4</tspan></text><text x="154.2" y="602.78" font-size="4.4" text-anchor="start" fill="#111" stroke="#111" stroke-width="0.07" textLength="5.5" lengthAdjust="spacingAndGlyphs">10<tspan font-size="2.73" dy="-1.85">5</tspan></text><polyline points="60.8,647.9 61.2,647.9 61.6,647.9 62,647.9 62.4,647.9 62.8,647.9 63.2,647.9 63.6,647.9 64,647.9 64.4,647.9 64.8,647.9 65.2,647.9 65.6,647.9 66,647.9 66.4,647.9 66.8,647.9 67.2,647.9 67.6,647.9 68,647.9 68.4,647.9 68.8,647.9 69.2,647.9 69.6,647.9 70,647.9 70.4,647.9 70.8,647.9 71.2,647.9 71.6,647.9 72,647.9 72.4,647.9 72.8,647.9 73.2,647.9 73.6,647.88 74,647.84 74.4,647.67 74.8,647.2 75.2,646.01 75.6,643.5 76,638.97 76.4,632.19 76.8,623.89 77.2,616.05 77.6,611.22 78,611.22 78.4,616.05 78.8,623.89 79.2,632.19 79.6,638.97 80,643.5 80.4,646.01 80.8,647.2 81.2,647.67 81.6,647.84 82,647.88 82.4,647.9 82.8,647.9 83.2,647.9 83.6,647.9 84,647.9 84.4,647.9 84.8,647.9 85.2,647.9 85.6,647.83 86,647.27 86.4,644.39 86.8,635.86 87.2,622.71 87.6,615.67 88,622.71 88.4,635.86 88.8,644.39 89.2,647.27 89.6,647.83 90,647.9 90.4,647.9 90.8,647.9 91.2,647.9 91.6,647.9 92,647.9 92.4,647.9 92.8,647.9 93.2,647.9 93.6,647.9 94,647.9 94.4,647.9 94.8,647.9 95.2,647.9 95.6,647.9 96,647.9 96.4,647.9 96.8,647.9 97.2,647.9 97.6,647.9 98,647.9 98.4,647.9 98.8,647.9 99.2,647.9 99.6,647.9 100,647.9 100.4,647.9 100.8,647.9 101.2,647.9 101.6,647.9 102,647.9" fill="none" stroke="#dc9aac" stroke-width="1.25" stroke-linejoin="round"/><polyline points="60.8,647.9 61.2,647.9 61.6,647.9 62,647.9 62.4,647.9 62.8,647.9 63.2,647.9 63.6,647.9 64,647.9 64.4,647.9 64.8,647.9 65.2,647.9 65.6,647.9 66,647.9 66.4,647.9 66.8,647.9 67.2,647.9 67.6,647.9 68,647.9 68.4,647.9 68.8,647.9 69.2,647.9 69.6,647.9 70,647.9 70.4,647.9 70.8,647.9 71.2,647.9 71.6,647.9 72,647.9 72.4,647.9 72.8,647.9 73.2,647.9 73.6,647.88 74,647.84 74.4,647.67 74.8,647.2 75.2,646.01 75.6,643.5 76,638.97 76.4,632.19 76.8,623.89 77.2,616.05 77.6,611.22 78,611.22 78.4,616.05 78.8,623.89 79.2,632.19 79.6,638.97 80,643.5 80.4,646.01 80.8,647.2 81.2,647.67 81.6,647.84 82,647.88 82.4,647.9 82.8,647.9 83.2,647.9 83.6,647.9 84,647.9 84.4,647.9 84.8,647.9 85.2,647.9 85.6,647.83 86,647.27 86.4,644.39 86.8,635.86 87.2,622.71 87.6,615.67 88,622.71 88.4,635.86 88.8,644.39 89.2,647.27 89.6,647.83 90,647.9 90.4,647.9 90.8,647.9 91.2,647.9 91.6,647.9 92,647.9 92.4,647.9 92.8,647.9 93.2,647.9 93.6,647.9 94,647.9 94.4,647.9 94.8,647.9 95.2,647.9 95.6,647.9 96,647.9 96.4,647.9 96.8,647.9 97.2,647.9 97.6,647.9 98,647.9 98.4,647.9 98.8,647.9 99.2,647.9 99.6,647.9 100,647.9 100.4,647.9 100.8,647.9 101.2,647.9 101.6,647.9 102,647.9" fill="none" stroke="#a80f3c" stroke-width="0.8" stroke-linejoin="round"/><rect x="60.8" y="608" width="41.2" height="40.8" fill="none" stroke="#000" stroke-width="0.9"/><line x1="60.8" y1="607.7" x2="60.8" y2="649.1" stroke="#000" stroke-width="1.3"/><line x1="60.5" y1="648.8" x2="102.3" y2="648.8" stroke="#000" stroke-width="1.3"/><line x1="68.63" y1="628.4" x2="94.17" y2="628.4" stroke="#222" stroke-width="1"/><circle cx="87.6" cy="628.4" r="0.9" fill="#000"/><circle cx="61.2" cy="628.4" r="0.6" fill="#000"/><text x="62.1" y="627.41" font-size="5.3" text-anchor="start" fill="#000">76</text><text x="101.9" y="627.41" font-size="5.3" text-anchor="end" fill="#000">24</text><text x="54.8" y="649.88" font-size="4.4" text-anchor="end" fill="#000" stroke="#000" stroke-width="0.18">0</text><text x="54.8" y="638.55" font-size="4.4" text-anchor="end" fill="#000" stroke="#000" stroke-width="0.18">50</text><text x="54.8" y="627.22" font-size="4.4" text-anchor="end" fill="#000" stroke="#000" stroke-width="0.18">100</text><text x="54.8" y="615.88" font-size="4.4" text-anchor="end" fill="#000" stroke="#000" stroke-width="0.18">150</text><text x="64.6" y="657.38" font-size="4.4" text-anchor="middle" fill="#111" stroke="#111" stroke-width="0.07">0</text><text x="66.5" y="657.38" font-size="4.4" text-anchor="start" fill="#111" stroke="#111" stroke-width="0.07" textLength="5.5" lengthAdjust="spacingAndGlyphs">10<tspan font-size="2.73" dy="-1.85">2</tspan></text><text x="75.8" y="657.38" font-size="4.4" text-anchor="start" fill="#111" stroke="#111" stroke-width="0.07" textLength="5.5" lengthAdjust="spacingAndGlyphs">10<tspan font-size="2.73" dy="-1.85">3</tspan></text><text x="85.7" y="657.38" font-size="4.4" text-anchor="start" fill="#111" stroke="#111" stroke-width="0.07" textLength="5.5" lengthAdjust="spacingAndGlyphs">10<tspan font-size="2.73" dy="-1.85">4</tspan></text><text x="94.8" y="657.38" font-size="4.4" text-anchor="start" fill="#111" stroke="#111" stroke-width="0.07" textLength="5.5" lengthAdjust="spacingAndGlyphs">10<tspan font-size="2.73" dy="-1.85">5</tspan></text><polyline points="120.2,647.9 120.6,647.9 121,647.9 121.4,647.9 121.8,647.9 122.2,647.9 122.6,647.9 123,647.9 123.4,647.9 123.8,647.9 124.2,647.9 124.6,647.9 125,647.9 125.4,647.9 125.8,647.9 126.2,647.9 126.6,647.9 127,647.9 127.4,647.9 127.8,647.9 128.2,647.9 128.6,647.9 129,647.9 129.4,647.9 129.8,647.9 130.2,647.9 130.6,647.9 131,647.9 131.4,647.9 131.8,647.9 132.2,647.9 132.6,647.9 133,647.9 133.4,647.89 133.8,647.87 134.2,647.8 134.6,647.62 135,647.15 135.4,646.12 135.8,644.1 136.2,640.63 136.6,635.42 137,628.66 137.4,621.28 137.8,614.84 138.2,611.07 138.6,611.07 139,614.84 139.4,621.28 139.8,628.66 140.2,635.42 140.6,640.63 141,644.1 141.4,646.12 141.8,647.15 142.2,647.62 142.6,647.8 143,647.87 143.4,647.89 143.8,647.9 144.2,647.9 144.6,647.9 145,647.89 145.4,647.86 145.8,647.73 146.2,647.4 146.6,646.95 147,646.72 147.4,646.95 147.8,647.4 148.2,647.73 148.6,647.86 149,647.89 149.4,647.9 149.8,647.9 150.2,647.9 150.6,647.9 151,647.9 151.4,647.9 151.8,647.9 152.2,647.9 152.6,647.9 153,647.9 153.4,647.9 153.8,647.9 154.2,647.9 154.6,647.9 155,647.9 155.4,647.9 155.8,647.9 156.2,647.9 156.6,647.9 157,647.9 157.4,647.9 157.8,647.9 158.2,647.9 158.6,647.9 159,647.9 159.4,647.9 159.8,647.9 160.2,647.9 160.6,647.9 161,647.9 161.4,647.9" fill="none" stroke="#dc9aac" stroke-width="1.25" stroke-linejoin="round"/><polyline points="120.2,647.9 120.6,647.9 121,647.9 121.4,647.9 121.8,647.9 122.2,647.9 122.6,647.9 123,647.9 123.4,647.9 123.8,647.9 124.2,647.9 124.6,647.9 125,647.9 125.4,647.9 125.8,647.9 126.2,647.9 126.6,647.9 127,647.9 127.4,647.9 127.8,647.9 128.2,647.9 128.6,647.9 129,647.9 129.4,647.9 129.8,647.9 130.2,647.9 130.6,647.9 131,647.9 131.4,647.9 131.8,647.9 132.2,647.9 132.6,647.9 133,647.9 133.4,647.89 133.8,647.87 134.2,647.8 134.6,647.62 135,647.15 135.4,646.12 135.8,644.1 136.2,640.63 136.6,635.42 137,628.66 137.4,621.28 137.8,614.84 138.2,611.07 138.6,611.07 139,614.84 139.4,621.28 139.8,628.66 140.2,635.42 140.6,640.63 141,644.1 141.4,646.12 141.8,647.15 142.2,647.62 142.6,647.8 143,647.87 143.4,647.89 143.8,647.9 144.2,647.9 144.6,647.9 145,647.89 145.4,647.86 145.8,647.73 146.2,647.4 146.6,646.95 147,646.72 147.4,646.95 147.8,647.4 148.2,647.73 148.6,647.86 149,647.89 149.4,647.9 149.8,647.9 150.2,647.9 150.6,647.9 151,647.9 151.4,647.9 151.8,647.9 152.2,647.9 152.6,647.9 153,647.9 153.4,647.9 153.8,647.9 154.2,647.9 154.6,647.9 155,647.9 155.4,647.9 155.8,647.9 156.2,647.9 156.6,647.9 157,647.9 157.4,647.9 157.8,647.9 158.2,647.9 158.6,647.9 159,647.9 159.4,647.9 159.8,647.9 160.2,647.9 160.6,647.9 161,647.9 161.4,647.9" fill="none" stroke="#a80f3c" stroke-width="0.8" stroke-linejoin="round"/><rect x="120.2" y="608" width="41.3" height="40.8" fill="none" stroke="#000" stroke-width="0.9"/><line x1="120.2" y1="607.7" x2="120.2" y2="649.1" stroke="#000" stroke-width="1.3"/><line x1="119.9" y1="648.8" x2="161.8" y2="648.8" stroke="#000" stroke-width="1.3"/><line x1="128.05" y1="636.56" x2="153.65" y2="636.56" stroke="#222" stroke-width="1"/><circle cx="144.6" cy="636.56" r="0.9" fill="#000"/><circle cx="120.6" cy="636.56" r="0.6" fill="#000"/><text x="121.5" y="635.57" font-size="5.3" text-anchor="start" fill="#000">99</text><text x="161.4" y="635.57" font-size="5.3" text-anchor="end" fill="#000">1.1</text><text x="114.2" y="649.88" font-size="4.4" text-anchor="end" fill="#000" stroke="#000" stroke-width="0.18">0</text><text x="114.2" y="638.98" font-size="4.4" text-anchor="end" fill="#000" stroke="#000" stroke-width="0.18">200</text><text x="114.2" y="628.08" font-size="4.4" text-anchor="end" fill="#000" stroke="#000" stroke-width="0.18">400</text><text x="114.2" y="617.18" font-size="4.4" text-anchor="end" fill="#000" stroke="#000" stroke-width="0.18">600</text><text x="124" y="657.38" font-size="4.4" text-anchor="middle" fill="#111" stroke="#111" stroke-width="0.07">0</text><text x="125.9" y="657.38" font-size="4.4" text-anchor="start" fill="#111" stroke="#111" stroke-width="0.07" textLength="5.5" lengthAdjust="spacingAndGlyphs">10<tspan font-size="2.73" dy="-1.85">2</tspan></text><text x="135.2" y="657.38" font-size="4.4" text-anchor="start" fill="#111" stroke="#111" stroke-width="0.07" textLength="5.5" lengthAdjust="spacingAndGlyphs">10<tspan font-size="2.73" dy="-1.85">3</tspan></text><text x="145.1" y="657.38" font-size="4.4" text-anchor="start" fill="#111" stroke="#111" stroke-width="0.07" textLength="5.5" lengthAdjust="spacingAndGlyphs">10<tspan font-size="2.73" dy="-1.85">4</tspan></text><text x="154.2" y="657.38" font-size="4.4" text-anchor="start" fill="#111" stroke="#111" stroke-width="0.07" textLength="5.5" lengthAdjust="spacingAndGlyphs">10<tspan font-size="2.73" dy="-1.85">5</tspan></text><text x="81.2" y="439.42" font-size="7" text-anchor="middle" fill="#222">CD4</text><text x="141" y="439.42" font-size="7" text-anchor="middle" fill="#222">CD8</text><text x="7.8" y="466.08" font-size="6.9" text-anchor="start" fill="#222" textLength="20" lengthAdjust="spacingAndGlyphs">DMSO</text><text x="7.8" y="522.18" font-size="6.9" text-anchor="start" fill="#222" textLength="20.3" lengthAdjust="spacingAndGlyphs">Ex-527</text><text x="7" y="576.38" font-size="6.9" text-anchor="start" fill="#222" textLength="12.8" lengthAdjust="spacingAndGlyphs">p53i</text><text x="7.8" y="626.08" font-size="6.9" text-anchor="start" fill="#222" textLength="20.3" lengthAdjust="spacingAndGlyphs">Ex-527</text><text x="10" y="633.58" font-size="6.9" text-anchor="start" fill="#222" textLength="17" lengthAdjust="spacingAndGlyphs">+p53i</text><line x1="40.4" y1="453.2" x2="40.4" y2="614.5" stroke="#111" stroke-width="1.05"/><path d="M40.4,448.2L37.2,455.1L40.4,453.8L43.6,455.1Z" fill="#000"/><text transform="translate(42.6,624.3) rotate(-90)" font-size="7.4" text-anchor="middle" fill="#222" textLength="13.5" lengthAdjust="spacingAndGlyphs"># cells</text><text x="85.05" y="669.26" font-size="7.4" text-anchor="middle" fill="#222" textLength="11.5" lengthAdjust="spacingAndGlyphs">CFSE</text><line x1="93.8" y1="666.8" x2="143.8" y2="666.8" stroke="#222" stroke-width="1.2"/><path d="M148.8,666.8L141.3,663.65L142.8,666.8L141.3,669.95Z" fill="#000"/><g filter="url(#soft)"><path d="M228.7,476.1L228.2,476.3L227.4,476.2L226.7,475.6L226.3,474.8L225.6,472.8L225.0,470.3L224.8,468.3L224.8,467.3L225.4,464.4L226.2,459.8L227.3,449.6L228.8,445.3L229.4,444.3L229.9,443.8L230.7,443.6L232.2,443.6L235.2,443.6L236.4,443.7L236.7,443.8L237.3,444.6L237.6,445.3L237.7,446.3L237.4,452.3L236.9,458.6L236.6,460.1L233.5,467.8L232.0,471.1L230.8,473.3L229.3,475.6L228.7,476.1Z" fill="#1438ff"/><path d="M228.2,474.9L227.7,474.8L227.4,474.6L226.8,473.3L225.8,470.1L225.6,468.1L225.7,467.1L226.5,464.3L227.1,460.3L228.3,449.8L229.6,445.8L230.1,445.1L230.5,444.6L231.7,443.8L233.2,443.7L234.9,443.8L235.7,444.3L236.3,444.8L236.5,445.3L236.7,446.1L236.4,451.8L235.7,459.3L235.3,460.8L231.4,470.3L229.8,473.1L228.7,474.5L228.2,474.9Z" fill="#0a80ff"/><path d="M228.2,474.3L227.9,474.3L227.6,474.1L226.9,472.8L226.1,470.1L225.8,468.1L226.0,467.1L226.8,464.3L227.4,460.8L228.6,450.1L229.8,446.3L230.5,445.1L231.3,444.3L232.4,443.8L234.2,443.8L235.2,444.3L235.9,444.8L236.2,445.3L236.3,446.1L236.2,451.8L235.4,459.3L235.0,460.8L231.1,470.3L229.6,472.8L228.7,473.9L228.2,474.3Z" fill="#00c0ff"/><path d="M228.4,473.4L227.9,473.5L227.7,473.3L227.2,472.4L226.3,470.1L226.1,469.1L226.0,468.1L226.2,467.1L227.1,464.6L227.5,462.3L228.1,458.8L228.9,450.2L230.2,446.3L230.7,445.3L231.2,444.8L232.2,444.2L232.9,444.0L233.7,444.0L234.6,444.3L235.3,444.8L235.7,445.3L236.0,446.1L235.8,452.1L235.2,458.8L234.7,460.5L231.0,469.8L229.7,472.1L228.9,473.0L228.4,473.4Z" fill="#00e8f0"/><path d="M228.2,472.3L227.9,472.2L227.4,471.7L226.8,470.6L226.4,469.3L226.3,468.1L226.5,467.1L227.8,464.6L228.1,463.3L228.7,459.1L229.7,450.1L230.7,446.8L231.3,445.6L231.8,445.1L232.4,444.7L232.9,444.5L233.7,444.5L234.3,444.8L235.0,445.3L235.2,445.8L235.3,446.6L235.4,449.6L235.4,452.3L235.2,455.1L234.7,458.5L234.2,460.2L231.9,465.6L231.1,468.6L230.6,469.8L229.9,470.9L229.2,471.8L228.7,472.2L228.2,472.3Z" fill="#10eca0"/><path d="M228.9,471.3L228.4,471.5L227.9,471.4L227.2,470.7L226.6,469.3L226.5,468.6L226.5,467.8L226.8,467.1L227.2,466.3L228.8,464.6L229.3,463.6L229.8,459.1L230.2,451.3L230.7,449.1L231.4,446.9L231.9,446.0L232.7,445.3L233.4,445.2L234.1,445.6L234.4,446.1L234.9,448.8L235.1,452.3L234.7,456.0L234.2,458.4L233.8,459.6L231.8,462.8L231.0,464.6L230.9,465.3L230.8,467.8L230.5,469.3L229.7,470.6L228.9,471.3Z" fill="#30e838"/><path d="M232.7,458.9L232.2,458.9L231.9,458.7L231.6,458.1L231.3,457.3L231.0,455.1L231.0,452.3L231.2,450.1L231.7,448.6L232.4,447.3L232.9,447.0L233.2,447.0L233.7,447.3L233.9,447.7L234.4,449.1L234.6,450.8L234.7,452.8L234.4,455.1L233.9,457.1L233.4,458.1L232.7,458.9ZM228.7,470.9L227.9,470.9L227.3,470.3L226.8,469.3L226.7,468.3L226.9,467.3L227.4,466.5L228.2,466.0L228.9,465.8L229.4,466.0L229.9,466.4L230.2,467.1L230.4,468.1L230.2,469.1L229.8,469.8L229.2,470.6L228.7,470.9Z" fill="#a8f000"/><path d="M233.2,456.8L232.7,457.0L232.4,456.8L232.1,456.3L231.7,455.1L231.5,453.3L231.6,451.6L231.9,450.1L232.4,448.9L232.9,448.5L233.4,448.7L233.9,449.5L234.2,450.6L234.3,452.1L234.3,453.6L234.0,455.1L233.7,456.1L233.2,456.8ZM228.7,470.4L227.9,470.4L227.4,470.1L227.0,469.3L226.9,468.6L226.9,467.8L227.2,467.3L227.7,466.7L228.4,466.4L228.9,466.5L229.5,466.8L229.8,467.3L230.0,468.1L229.9,468.8L229.6,469.6L229.2,470.1L228.7,470.4Z" fill="#ffe800"/><path d="M233.2,455.1L232.9,455.2L232.7,455.1L232.5,454.8L232.2,453.3L232.3,451.3L232.6,450.6L232.9,450.2L233.2,450.2L233.5,450.6L233.7,451.3L233.8,452.3L233.7,454.1L233.4,454.8L233.2,455.1ZM228.7,469.9L228.2,470.0L227.7,469.8L227.3,469.3L227.1,468.8L227.2,468.1L227.4,467.6L227.7,467.2L228.2,467.0L228.9,467.1L229.4,467.6L229.5,468.1L229.4,469.1L229.2,469.6L228.7,469.9Z" fill="#ff9400"/><path d="M228.4,469.6L227.9,469.6L227.7,469.4L227.5,469.1L227.4,468.6L227.6,467.8L228.2,467.4L228.8,467.6L229.0,467.8L229.2,468.3L229.1,469.1L228.7,469.5L228.4,469.6Z" fill="#ff1800"/></g><rect x="203.7" y="443.3" width="41" height="41" fill="none" stroke="#000" stroke-width="0.9"/><line x1="203.7" y1="443" x2="203.7" y2="484.6" stroke="#000" stroke-width="1.3"/><line x1="203.4" y1="484.3" x2="245" y2="484.3" stroke="#000" stroke-width="1.3"/><rect x="221.7" y="443.7" width="16.2" height="13" fill="none" stroke="#666" stroke-width="0.6"/><text x="215.2" y="449.7" font-size="5" text-anchor="middle" fill="#222">40</text><text x="199.8" y="450.05" font-size="4.3" text-anchor="end" fill="#222">10<tspan font-size="2.67" dy="-1.81">5</tspan></text><text x="199.8" y="459.35" font-size="4.3" text-anchor="end" fill="#222">10<tspan font-size="2.67" dy="-1.81">4</tspan></text><text x="199.8" y="468.65" font-size="4.3" text-anchor="end" fill="#222">10<tspan font-size="2.67" dy="-1.81">3</tspan></text><text x="199.8" y="477.55" font-size="4.3" text-anchor="end" fill="#222">10<tspan font-size="2.67" dy="-1.81">2</tspan></text><text x="199.1" y="481.45" font-size="4.3" text-anchor="end" fill="#222">0</text><text x="207.5" y="492.88" font-size="4.4" text-anchor="middle" fill="#111" stroke="#111" stroke-width="0.07">0</text><text x="209.4" y="492.88" font-size="4.4" text-anchor="start" fill="#111" stroke="#111" stroke-width="0.07" textLength="5.5" lengthAdjust="spacingAndGlyphs">10<tspan font-size="2.73" dy="-1.85">2</tspan></text><text x="218.7" y="492.88" font-size="4.4" text-anchor="start" fill="#111" stroke="#111" stroke-width="0.07" textLength="5.5" lengthAdjust="spacingAndGlyphs">10<tspan font-size="2.73" dy="-1.85">3</tspan></text><text x="228.6" y="492.88" font-size="4.4" text-anchor="start" fill="#111" stroke="#111" stroke-width="0.07" textLength="5.5" lengthAdjust="spacingAndGlyphs">10<tspan font-size="2.73" dy="-1.85">4</tspan></text><text x="237.7" y="492.88" font-size="4.4" text-anchor="start" fill="#111" stroke="#111" stroke-width="0.07" textLength="5.5" lengthAdjust="spacingAndGlyphs">10<tspan font-size="2.73" dy="-1.85">5</tspan></text><g filter="url(#soft)"><path d="M284.1,471.6L283.6,471.6L283.1,471.5L282.4,470.8L281.8,469.6L281.0,467.3L276.0,450.3L275.8,448.6L275.4,444.6L275.4,443.8L275.6,443.7L277.1,443.6L288.4,443.6L289.6,443.6L290.4,443.8L287.8,459.8L286.0,468.6L285.3,470.6L284.9,471.1L284.1,471.6Z" fill="#1438ff"/><path d="M283.9,470.3L283.4,470.2L283.1,469.9L282.3,468.1L277.2,450.8L276.8,448.6L276.4,443.8L277.9,443.6L283.6,443.6L288.1,443.6L289.4,443.8L286.7,459.6L285.2,467.6L284.6,469.6L284.3,470.1L283.9,470.3Z" fill="#0a80ff"/><path d="M284.1,469.6L283.9,469.7L283.6,469.7L283.4,469.6L282.6,468.0L277.6,451.1L277.1,448.8L276.7,443.8L278.1,443.7L283.4,443.6L287.6,443.7L289.1,443.8L287.8,451.1L286.4,459.4L285.0,467.1L284.6,468.6L284.1,469.6Z" fill="#00c0ff"/><path d="M283.9,468.6L283.6,468.7L283.4,468.4L282.9,467.3L280.8,459.8L277.9,450.5L277.4,448.1L277.0,443.8L283.4,443.7L288.8,443.8L287.2,451.8L284.6,466.3L284.3,467.8L283.9,468.6Z" fill="#00e8f0"/><path d="M283.6,463.1L283.4,463.2L282.9,462.4L278.6,450.3L278.1,448.1L277.6,443.8L283.4,443.7L288.2,443.8L287.4,448.3L286.2,452.6L284.1,461.8L283.6,463.1Z" fill="#10eca0"/><path d="M283.1,455.4L282.6,455.3L281.9,454.6L280.9,452.8L279.9,450.7L278.9,447.8L278.3,445.1L278.2,443.8L283.4,443.7L287.7,443.8L287.2,447.3L286.6,449.3L284.1,454.3L283.6,455.1L283.1,455.4Z" fill="#30e838"/><path d="M283.9,451.4L283.1,451.5L282.4,451.3L281.6,450.7L280.9,449.8L280.4,448.8L279.9,447.6L279.1,444.7L279.1,443.8L286.9,443.8L286.8,446.8L286.3,448.8L285.7,449.8L285.1,450.5L284.6,451.0L283.9,451.4Z" fill="#a8f000"/><path d="M284.1,450.3L283.4,450.4L282.6,450.2L281.9,449.7L281.3,448.8L280.7,447.1L280.3,444.3L280.4,443.8L285.9,443.8L286.1,444.5L286.3,446.1L286.3,447.1L286.1,448.1L285.4,449.4L284.9,449.9L284.1,450.3Z" fill="#ffe800"/><path d="M284.1,449.6L283.4,449.7L282.6,449.4L282.1,448.8L281.6,447.8L281.4,446.6L281.6,445.3L282.0,444.3L282.5,443.8L284.4,443.8L284.6,443.9L285.2,444.6L285.6,445.6L285.8,446.8L285.6,448.1L285.0,449.1L284.1,449.6Z" fill="#ff9400"/><path d="M284.1,449.1L283.4,449.2L282.7,448.8L282.2,448.1L282.0,447.3L282.0,446.3L282.3,445.6L282.6,445.0L283.4,444.6L284.1,444.6L284.6,445.0L285.1,445.7L285.4,446.6L285.4,447.3L285.1,448.2L284.7,448.8L284.1,449.1Z" fill="#ff1800"/></g><rect x="258.9" y="443.3" width="41.4" height="41" fill="none" stroke="#000" stroke-width="0.9"/><line x1="258.9" y1="443" x2="258.9" y2="484.6" stroke="#000" stroke-width="1.3"/><line x1="258.6" y1="484.3" x2="300.6" y2="484.3" stroke="#000" stroke-width="1.3"/><rect x="274.2" y="443.7" width="17.5" height="16.8" fill="none" stroke="#666" stroke-width="0.6"/><text x="262.5" y="449.7" font-size="5" text-anchor="middle" fill="#222">88</text><text x="255" y="450.05" font-size="4.3" text-anchor="end" fill="#222">10<tspan font-size="2.67" dy="-1.81">5</tspan></text><text x="255" y="459.35" font-size="4.3" text-anchor="end" fill="#222">10<tspan font-size="2.67" dy="-1.81">4</tspan></text><text x="255" y="468.65" font-size="4.3" text-anchor="end" fill="#222">10<tspan font-size="2.67" dy="-1.81">3</tspan></text><text x="255" y="477.55" font-size="4.3" text-anchor="end" fill="#222">10<tspan font-size="2.67" dy="-1.81">2</tspan></text><text x="254.3" y="481.45" font-size="4.3" text-anchor="end" fill="#222">0</text><text x="262.7" y="492.88" font-size="4.4" text-anchor="middle" fill="#111" stroke="#111" stroke-width="0.07">0</text><text x="264.6" y="492.88" font-size="4.4" text-anchor="start" fill="#111" stroke="#111" stroke-width="0.07" textLength="5.5" lengthAdjust="spacingAndGlyphs">10<tspan font-size="2.73" dy="-1.85">2</tspan></text><text x="273.9" y="492.88" font-size="4.4" text-anchor="start" fill="#111" stroke="#111" stroke-width="0.07" textLength="5.5" lengthAdjust="spacingAndGlyphs">10<tspan font-size="2.73" dy="-1.85">3</tspan></text><text x="283.8" y="492.88" font-size="4.4" text-anchor="start" fill="#111" stroke="#111" stroke-width="0.07" textLength="5.5" lengthAdjust="spacingAndGlyphs">10<tspan font-size="2.73" dy="-1.85">4</tspan></text><text x="292.9" y="492.88" font-size="4.4" text-anchor="start" fill="#111" stroke="#111" stroke-width="0.07" textLength="5.5" lengthAdjust="spacingAndGlyphs">10<tspan font-size="2.73" dy="-1.85">5</tspan></text><g filter="url(#soft)"><path d="M229.7,531.7L228.9,531.8L228.4,531.6L227.9,531.3L227.3,530.6L225.8,527.6L225.1,525.9L224.8,522.9L224.9,515.6L225.1,513.9L226.3,505.1L227.1,501.6L227.6,500.4L228.4,499.5L228.9,499.3L230.9,499.2L233.9,499.3L234.6,499.4L234.9,499.7L235.4,500.1L235.8,500.9L236.1,502.1L236.4,504.9L236.3,506.6L235.4,514.1L234.9,516.9L232.6,526.1L231.6,529.4L231.3,530.1L230.8,530.9L230.2,531.5L229.7,531.7Z" fill="#1438ff"/><path d="M229.2,530.7L228.4,530.4L227.9,529.6L226.4,526.9L225.8,525.4L225.7,522.9L225.9,519.6L226.0,514.6L227.2,506.1L228.2,501.4L228.9,500.4L229.9,499.7L230.7,499.4L232.5,499.4L233.9,500.1L234.5,500.6L234.8,501.1L235.0,502.1L235.3,504.9L235.3,506.6L234.1,515.6L231.8,525.4L230.4,529.6L229.9,530.4L229.2,530.7Z" fill="#0a80ff"/><path d="M229.4,530.2L228.8,530.1L228.2,529.6L226.6,526.9L226.1,525.4L225.9,523.1L226.2,519.4L226.3,515.1L227.5,506.1L228.5,501.6L228.9,500.8L229.7,500.2L230.7,499.7L231.7,499.6L232.4,499.7L233.4,500.1L234.0,500.6L234.4,501.1L234.7,502.6L235.0,506.1L233.8,515.4L232.5,520.9L231.8,524.6L231.3,526.4L230.4,528.9L229.9,529.8L229.4,530.2Z" fill="#00c0ff"/><path d="M229.2,529.7L228.9,529.6L228.4,529.2L227.4,527.8L226.6,526.4L226.2,525.1L226.1,523.1L226.6,519.1L226.6,515.1L227.9,505.9L228.8,501.9L229.2,501.1L229.9,500.4L230.9,500.0L231.7,499.9L232.4,500.1L233.1,500.4L233.7,500.9L234.0,501.4L234.4,503.9L234.6,506.4L233.4,515.3L232.3,520.4L231.4,524.9L230.9,526.6L230.2,528.5L229.7,529.4L229.2,529.7Z" fill="#00e8f0"/><path d="M229.2,528.5L228.7,528.4L228.2,528.1L227.4,527.2L226.8,526.1L226.4,524.9L226.4,522.9L227.2,519.1L227.4,514.9L228.1,510.4L228.7,505.6L229.2,503.3L229.6,501.9L230.1,501.1L230.9,500.6L231.7,500.5L232.2,500.6L232.7,500.9L233.1,501.4L233.3,501.9L233.8,504.6L233.8,506.6L232.7,515.4L231.7,519.9L231.1,524.6L230.7,526.1L230.2,527.3L229.7,528.1L229.2,528.5Z" fill="#10eca0"/><path d="M229.2,527.7L228.7,527.7L228.2,527.5L227.2,526.4L226.8,525.6L226.6,524.9L226.6,523.1L226.9,521.4L228.0,518.9L228.3,517.9L228.4,515.1L229.3,510.6L229.5,506.4L229.7,504.6L230.0,503.6L230.4,502.5L230.9,501.9L231.4,501.8L231.8,501.9L232.1,502.1L232.6,503.1L232.9,504.9L233.0,506.4L232.0,511.4L231.6,515.6L230.9,518.9L231.1,522.6L230.9,524.4L230.7,525.4L230.2,526.6L229.7,527.3L229.2,527.7Z" fill="#30e838"/><path d="M228.7,527.2L227.9,526.8L227.2,525.9L226.8,524.9L226.7,523.6L226.9,522.3L227.4,521.2L228.2,520.4L228.9,520.1L229.7,520.3L230.2,521.0L230.6,522.1L230.7,523.6L230.5,525.1L230.0,526.1L229.4,526.9L228.7,527.2Z" fill="#a8f000"/><path d="M228.7,526.7L227.9,526.4L227.4,525.9L227.0,524.9L226.9,523.9L227.0,522.9L227.4,521.8L227.9,521.3L228.7,521.0L229.4,521.2L229.9,521.8L230.3,522.6L230.4,523.6L230.3,524.6L229.9,525.7L229.4,526.3L228.7,526.7Z" fill="#ffe800"/><path d="M228.7,526.2L227.9,526.0L227.5,525.4L227.2,524.6L227.1,523.9L227.3,522.9L227.7,522.2L228.2,521.8L228.7,521.7L229.2,521.9L229.7,522.4L230.0,523.1L230.0,523.9L230.0,524.6L229.7,525.4L229.2,526.0L228.7,526.2Z" fill="#ff9400"/><path d="M228.9,525.7L228.4,525.8L227.9,525.6L227.6,525.1L227.4,524.4L227.4,523.6L227.6,522.9L227.9,522.4L228.4,522.2L228.9,522.3L229.2,522.4L229.5,522.9L229.7,523.6L229.7,524.4L229.6,524.9L229.3,525.4L228.9,525.7Z" fill="#ff1800"/></g><rect x="203.7" y="498.9" width="41" height="41" fill="none" stroke="#000" stroke-width="0.9"/><line x1="203.7" y1="498.6" x2="203.7" y2="540.2" stroke="#000" stroke-width="1.3"/><line x1="203.4" y1="539.9" x2="245" y2="539.9" stroke="#000" stroke-width="1.3"/><rect x="221.7" y="499.3" width="16.2" height="13" fill="none" stroke="#666" stroke-width="0.6"/><text x="215.2" y="505.3" font-size="5" text-anchor="middle" fill="#222">20</text><text x="199.8" y="505.65" font-size="4.3" text-anchor="end" fill="#222">10<tspan font-size="2.67" dy="-1.81">5</tspan></text><text x="199.8" y="514.95" font-size="4.3" text-anchor="end" fill="#222">10<tspan font-size="2.67" dy="-1.81">4</tspan></text><text x="199.8" y="524.25" font-size="4.3" text-anchor="end" fill="#222">10<tspan font-size="2.67" dy="-1.81">3</tspan></text><text x="199.8" y="533.15" font-size="4.3" text-anchor="end" fill="#222">10<tspan font-size="2.67" dy="-1.81">2</tspan></text><text x="199.1" y="537.05" font-size="4.3" text-anchor="end" fill="#222">0</text><text x="207.5" y="548.48" font-size="4.4" text-anchor="middle" fill="#111" stroke="#111" stroke-width="0.07">0</text><text x="209.4" y="548.48" font-size="4.4" text-anchor="start" fill="#111" stroke="#111" stroke-width="0.07" textLength="5.5" lengthAdjust="spacingAndGlyphs">10<tspan font-size="2.73" dy="-1.85">2</tspan></text><text x="218.7" y="548.48" font-size="4.4" text-anchor="start" fill="#111" stroke="#111" stroke-width="0.07" textLength="5.5" lengthAdjust="spacingAndGlyphs">10<tspan font-size="2.73" dy="-1.85">3</tspan></text><text x="228.6" y="548.48" font-size="4.4" text-anchor="start" fill="#111" stroke="#111" stroke-width="0.07" textLength="5.5" lengthAdjust="spacingAndGlyphs">10<tspan font-size="2.73" dy="-1.85">4</tspan></text><text x="237.7" y="548.48" font-size="4.4" text-anchor="start" fill="#111" stroke="#111" stroke-width="0.07" textLength="5.5" lengthAdjust="spacingAndGlyphs">10<tspan font-size="2.73" dy="-1.85">5</tspan></text><g filter="url(#soft)"><path d="M283.6,528.2L283.1,528.1L282.6,527.9L281.8,527.1L281.2,526.1L280.8,524.6L278.6,515.3L276.3,505.9L275.5,500.4L275.4,499.4L275.6,499.3L277.1,499.2L286.9,499.2L288.1,499.2L288.7,499.4L288.6,506.9L287.4,516.1L286.8,523.1L286.3,524.9L285.6,526.6L284.6,527.8L284.1,528.1L283.6,528.2Z" fill="#1438ff"/><path d="M283.9,526.9L283.6,527.0L283.1,526.9L282.5,526.4L282.1,525.6L281.6,523.9L279.7,515.4L277.3,505.9L276.5,500.9L276.4,499.4L277.9,499.2L283.1,499.2L286.6,499.3L287.8,499.4L287.7,506.1L286.4,515.6L285.8,522.6L285.5,523.9L284.9,525.6L284.4,526.5L283.9,526.9Z" fill="#0a80ff"/><path d="M283.9,526.4L283.4,526.6L282.8,526.1L282.4,525.3L281.9,523.6L280.1,515.4L277.6,505.9L276.9,501.1L276.7,499.4L278.1,499.3L283.1,499.2L286.4,499.3L287.5,499.4L287.4,506.1L286.1,515.4L285.4,522.6L285.2,523.9L284.6,525.3L284.4,525.9L283.9,526.4Z" fill="#00c0ff"/><path d="M283.6,525.8L283.4,525.8L283.2,525.6L282.9,525.2L282.1,522.7L280.5,515.4L277.9,505.6L277.1,500.8L277.0,499.4L283.1,499.3L287.2,499.4L287.1,505.9L285.7,515.1L285.0,522.6L284.4,524.7L283.9,525.6L283.6,525.8Z" fill="#00e8f0"/><path d="M283.6,521.5L283.4,521.5L283.1,521.2L282.6,520.0L278.9,506.9L277.9,501.9L277.6,499.4L283.1,499.3L286.7,499.4L286.8,503.6L286.6,506.1L285.0,514.1L284.1,519.8L283.9,520.9L283.6,521.5Z" fill="#10eca0"/><path d="M283.1,513.5L282.6,513.4L281.9,512.5L281.1,511.0L280.1,508.4L279.1,504.9L278.4,500.9L278.2,499.4L286.1,499.4L286.4,503.6L286.1,506.5L285.4,509.1L284.4,511.5L283.6,513.1L283.1,513.5Z" fill="#30e838"/><path d="M283.6,509.7L282.9,509.8L282.1,509.4L281.4,508.5L280.8,507.4L280.0,504.6L279.3,500.4L279.3,499.4L285.4,499.4L285.7,500.6L286.0,502.6L286.0,504.1L285.9,505.6L285.6,506.9L285.0,508.1L284.4,509.1L283.6,509.7Z" fill="#a8f000"/><path d="M283.6,508.4L282.9,508.4L282.1,507.9L281.6,507.1L281.1,505.9L280.8,504.4L280.6,502.6L280.6,500.1L280.9,499.4L284.6,499.4L285.1,500.6L285.5,501.9L285.6,503.1L285.5,505.4L285.3,506.4L284.8,507.4L284.1,508.2L283.6,508.4Z" fill="#ffe800"/><path d="M283.6,507.4L282.9,507.4L282.1,506.6L281.6,505.4L281.4,503.9L281.4,502.4L281.8,500.9L282.4,500.1L283.1,499.8L283.9,500.1L284.5,500.9L285.0,502.1L285.2,503.4L285.2,504.9L284.9,506.0L284.4,506.9L283.6,507.4Z" fill="#ff9400"/><path d="M283.6,506.7L283.0,506.6L282.5,506.1L282.0,505.1L281.8,504.1L281.9,502.9L282.1,501.9L282.6,501.2L283.1,500.9L283.6,500.9L284.2,501.4L284.6,502.3L284.9,503.4L284.9,504.6L284.6,505.6L284.1,506.4L283.6,506.7Z" fill="#ff1800"/></g><rect x="258.9" y="498.9" width="41.4" height="41" fill="none" stroke="#000" stroke-width="0.9"/><line x1="258.9" y1="498.6" x2="258.9" y2="540.2" stroke="#000" stroke-width="1.3"/><line x1="258.6" y1="539.9" x2="300.6" y2="539.9" stroke="#000" stroke-width="1.3"/><rect x="274.2" y="499.3" width="17.5" height="16.8" fill="none" stroke="#666" stroke-width="0.6"/><text x="262.5" y="505.3" font-size="5" text-anchor="middle" fill="#222">80</text><text x="255" y="505.65" font-size="4.3" text-anchor="end" fill="#222">10<tspan font-size="2.67" dy="-1.81">5</tspan></text><text x="255" y="514.95" font-size="4.3" text-anchor="end" fill="#222">10<tspan font-size="2.67" dy="-1.81">4</tspan></text><text x="255" y="524.25" font-size="4.3" text-anchor="end" fill="#222">10<tspan font-size="2.67" dy="-1.81">3</tspan></text><text x="255" y="533.15" font-size="4.3" text-anchor="end" fill="#222">10<tspan font-size="2.67" dy="-1.81">2</tspan></text><text x="254.3" y="537.05" font-size="4.3" text-anchor="end" fill="#222">0</text><text x="262.7" y="548.48" font-size="4.4" text-anchor="middle" fill="#111" stroke="#111" stroke-width="0.07">0</text><text x="264.6" y="548.48" font-size="4.4" text-anchor="start" fill="#111" stroke="#111" stroke-width="0.07" textLength="5.5" lengthAdjust="spacingAndGlyphs">10<tspan font-size="2.73" dy="-1.85">2</tspan></text><text x="273.9" y="548.48" font-size="4.4" text-anchor="start" fill="#111" stroke="#111" stroke-width="0.07" textLength="5.5" lengthAdjust="spacingAndGlyphs">10<tspan font-size="2.73" dy="-1.85">3</tspan></text><text x="283.8" y="548.48" font-size="4.4" text-anchor="start" fill="#111" stroke="#111" stroke-width="0.07" textLength="5.5" lengthAdjust="spacingAndGlyphs">10<tspan font-size="2.73" dy="-1.85">4</tspan></text><text x="292.9" y="548.48" font-size="4.4" text-anchor="start" fill="#111" stroke="#111" stroke-width="0.07" textLength="5.5" lengthAdjust="spacingAndGlyphs">10<tspan font-size="2.73" dy="-1.85">5</tspan></text><g filter="url(#soft)"><path d="M229.4,585.1L228.9,585.1L228.4,584.9L227.6,584.0L227.0,583.0L226.0,580.8L225.5,579.0L225.0,565.8L224.9,553.3L225.4,553.1L226.4,553.1L236.2,553.1L236.7,553.3L236.4,560.5L235.3,569.3L233.4,578.8L232.8,580.5L231.1,583.5L230.2,584.7L229.4,585.1Z" fill="#1438ff"/><path d="M229.4,583.8L228.9,583.8L228.7,583.7L228.0,582.8L226.8,580.3L226.4,578.5L226.3,574.0L226.1,569.0L226.0,553.3L226.9,553.2L229.7,553.1L235.4,553.2L235.7,553.3L235.7,553.8L235.4,560.3L234.3,569.3L232.5,578.3L232.2,579.5L231.6,580.8L230.2,583.1L229.4,583.8Z" fill="#0a80ff"/><path d="M229.4,583.4L228.9,583.3L228.2,582.5L227.0,580.0L226.6,578.5L226.7,574.0L226.3,568.8L226.3,553.3L230.9,553.2L235.3,553.3L235.1,559.8L234.1,568.5L232.3,578.3L232.0,579.3L231.5,580.5L230.2,582.6L229.4,583.4Z" fill="#00c0ff"/><path d="M229.4,582.7L229.2,582.8L228.7,582.5L227.9,581.4L227.1,579.8L226.8,578.3L227.0,574.0L226.6,569.0L226.8,563.5L226.7,553.3L230.9,553.2L234.9,553.3L234.9,556.8L234.7,559.9L233.6,569.3L232.5,574.5L232.0,578.3L231.8,579.3L231.3,580.3L230.2,582.0L229.4,582.7Z" fill="#00e8f0"/><path d="M229.7,581.6L229.2,581.8L228.9,581.7L228.2,581.0L227.4,579.8L227.1,578.3L227.1,576.8L227.6,574.0L227.0,568.8L227.5,563.0L227.4,557.0L227.5,553.3L234.1,553.3L234.4,556.3L234.3,558.5L233.5,563.0L232.9,569.5L231.9,574.5L231.7,578.3L231.4,579.3L231.0,580.0L230.4,580.9L229.7,581.6Z" fill="#10eca0"/><path d="M229.4,581.1L228.7,580.9L227.9,580.1L227.4,579.1L227.3,578.0L227.5,576.5L228.3,573.8L228.2,573.0L227.5,570.5L227.3,568.8L227.5,566.8L228.4,563.8L228.6,562.5L228.5,561.5L228.1,558.0L228.2,555.5L228.7,553.3L233.2,553.3L233.8,555.5L233.9,557.8L233.7,559.5L232.7,562.3L232.4,563.5L232.3,569.3L232.0,570.8L231.2,573.3L231.1,574.0L231.4,576.6L231.4,578.0L231.2,579.1L230.7,580.0L230.2,580.7L229.4,581.1Z" fill="#30e838"/><path d="M231.4,561.4L230.9,561.5L230.4,561.4L229.7,560.8L229.0,559.5L228.7,557.8L228.8,556.3L229.3,554.8L229.9,553.8L230.4,553.5L230.9,553.4L231.4,553.4L231.9,553.6L232.7,554.4L233.3,555.5L233.5,557.0L233.4,558.5L233.0,559.8L232.2,560.9L231.4,561.4ZM229.7,572.6L228.9,572.3L228.2,571.4L227.7,570.0L227.6,568.5L227.9,567.0L228.4,565.8L229.2,565.0L229.9,564.8L230.7,565.3L231.1,566.0L231.5,567.3L231.6,568.8L231.4,570.0L230.9,571.4L230.4,572.1L229.7,572.6ZM229.4,580.6L228.7,580.4L228.2,580.0L227.7,579.0L227.6,578.0L227.7,576.8L228.1,575.8L228.7,575.1L229.4,574.8L229.9,574.9L230.2,575.1L230.7,575.7L231.0,576.5L231.2,577.5L231.1,578.5L230.7,579.5L230.2,580.2L229.4,580.6Z" fill="#a8f000"/><path d="M231.7,560.3L230.9,560.5L230.2,560.1L229.6,559.3L229.2,558.0L229.2,556.8L229.5,555.5L230.2,554.7L230.9,554.3L231.7,554.4L232.4,555.0L232.9,555.8L233.2,556.8L233.2,558.0L232.9,559.0L232.4,559.8L231.7,560.3ZM229.9,571.3L229.7,571.5L229.2,571.4L228.7,571.1L228.2,570.3L228.0,569.3L228.0,568.0L228.3,567.0L228.7,566.5L229.4,566.0L229.9,566.1L230.4,566.6L230.8,567.3L231.0,568.3L231.0,569.3L230.8,570.0L230.4,570.9L229.9,571.3ZM229.7,580.1L228.9,580.1L228.4,579.8L228.0,579.0L227.8,578.3L227.9,577.3L228.1,576.5L228.7,575.9L229.2,575.6L229.7,575.7L230.3,576.0L230.7,576.8L230.9,577.5L230.8,578.3L230.6,579.0L230.2,579.7L229.7,580.1Z" fill="#ffe800"/><path d="M231.7,559.6L230.9,559.7L230.4,559.5L229.9,558.9L229.6,558.0L229.6,557.0L229.9,556.0L230.4,555.3L230.9,555.1L231.7,555.2L232.2,555.5L232.5,556.0L232.8,556.8L232.8,557.8L232.6,558.5L232.2,559.2L231.7,559.6ZM229.7,570.5L229.2,570.5L228.9,570.3L228.6,569.8L228.4,569.0L228.4,568.3L228.7,567.5L228.9,567.2L229.4,567.0L229.9,567.3L230.1,567.5L230.4,568.5L230.2,569.8L229.7,570.5ZM229.7,579.6L229.2,579.7L228.7,579.5L228.3,579.0L228.1,578.3L228.1,577.5L228.3,577.0L228.7,576.5L229.2,576.3L229.7,576.4L230.0,576.5L230.3,577.0L230.5,577.5L230.5,578.3L230.4,578.8L230.0,579.3L229.7,579.6Z" fill="#ff9400"/><path d="M231.7,559.1L231.2,559.2L230.7,559.0L230.2,558.5L230.0,557.8L229.9,557.0L230.2,556.3L230.4,555.9L230.9,555.6L231.4,555.6L231.9,555.9L232.5,556.8L232.4,558.0L232.2,558.6L231.7,559.1ZM229.4,569.6L229.2,569.6L229.0,569.3L228.9,568.8L229.0,568.3L229.2,568.0L229.4,568.0L229.8,568.3L229.9,568.8L229.8,569.3L229.4,569.6ZM229.7,579.1L229.2,579.3L228.9,579.2L228.5,578.8L228.4,578.3L228.4,577.8L228.5,577.3L228.7,577.0L229.2,576.8L229.5,576.8L229.9,577.0L230.2,577.8L230.1,578.5L229.7,579.1Z" fill="#ff1800"/></g><rect x="203.7" y="552.8" width="41" height="41" fill="none" stroke="#000" stroke-width="0.9"/><line x1="203.7" y1="552.5" x2="203.7" y2="594.1" stroke="#000" stroke-width="1.3"/><line x1="203.4" y1="593.8" x2="245" y2="593.8" stroke="#000" stroke-width="1.3"/><rect x="221.7" y="553.2" width="16.2" height="13" fill="none" stroke="#666" stroke-width="0.6"/><text x="215.2" y="559.2" font-size="5" text-anchor="middle" fill="#222">51</text><text x="199.8" y="559.55" font-size="4.3" text-anchor="end" fill="#222">10<tspan font-size="2.67" dy="-1.81">5</tspan></text><text x="199.8" y="568.85" font-size="4.3" text-anchor="end" fill="#222">10<tspan font-size="2.67" dy="-1.81">4</tspan></text><text x="199.8" y="578.15" font-size="4.3" text-anchor="end" fill="#222">10<tspan font-size="2.67" dy="-1.81">3</tspan></text><text x="199.8" y="587.05" font-size="4.3" text-anchor="end" fill="#222">10<tspan font-size="2.67" dy="-1.81">2</tspan></text><text x="199.1" y="590.95" font-size="4.3" text-anchor="end" fill="#222">0</text><text x="207.5" y="602.38" font-size="4.4" text-anchor="middle" fill="#111" stroke="#111" stroke-width="0.07">0</text><text x="209.4" y="602.38" font-size="4.4" text-anchor="start" fill="#111" stroke="#111" stroke-width="0.07" textLength="5.5" lengthAdjust="spacingAndGlyphs">10<tspan font-size="2.73" dy="-1.85">2</tspan></text><text x="218.7" y="602.38" font-size="4.4" text-anchor="start" fill="#111" stroke="#111" stroke-width="0.07" textLength="5.5" lengthAdjust="spacingAndGlyphs">10<tspan font-size="2.73" dy="-1.85">3</tspan></text><text x="228.6" y="602.38" font-size="4.4" text-anchor="start" fill="#111" stroke="#111" stroke-width="0.07" textLength="5.5" lengthAdjust="spacingAndGlyphs">10<tspan font-size="2.73" dy="-1.85">4</tspan></text><text x="237.7" y="602.38" font-size="4.4" text-anchor="start" fill="#111" stroke="#111" stroke-width="0.07" textLength="5.5" lengthAdjust="spacingAndGlyphs">10<tspan font-size="2.73" dy="-1.85">5</tspan></text><g filter="url(#soft)"><path d="M284.1,578.6L283.6,578.7L283.1,578.6L282.7,578.3L282.4,577.8L279.3,570.0L276.5,560.3L275.5,553.8L275.5,553.3L275.6,553.2L277.1,553.1L288.4,553.1L289.9,553.1L290.7,553.3L290.5,554.5L289.5,559.5L286.6,569.7L285.1,577.0L284.7,578.0L284.1,578.6Z" fill="#1438ff"/><path d="M283.9,576.8L283.6,577.0L283.4,577.0L282.8,576.0L280.1,569.0L277.5,560.0L276.5,553.3L277.9,553.1L283.4,553.1L288.4,553.2L289.7,553.3L288.4,559.5L285.7,569.3L284.4,575.4L283.9,576.8Z" fill="#0a80ff"/><path d="M283.6,576.1L283.4,576.1L283.1,575.9L282.6,575.0L280.4,569.0L277.8,559.8L276.8,553.3L278.4,553.2L283.4,553.1L287.9,553.2L289.4,553.3L288.1,559.5L285.3,569.3L284.1,575.0L283.9,575.7L283.6,576.1Z" fill="#00c0ff"/><path d="M283.4,574.9L283.1,574.7L282.6,573.8L281.1,569.8L278.4,560.6L277.9,558.3L277.2,553.3L283.4,553.2L289.0,553.3L287.7,559.8L285.0,568.8L283.9,573.9L283.6,574.7L283.4,574.9Z" fill="#00e8f0"/><path d="M283.1,570.1L282.9,570.2L282.6,570.0L281.9,568.6L279.1,560.5L278.4,557.1L277.8,553.3L283.4,553.2L288.4,553.3L287.6,557.2L287.1,559.2L284.4,567.3L283.6,569.2L283.1,570.1Z" fill="#10eca0"/><path d="M283.1,564.6L282.6,564.6L281.9,563.9L281.1,562.6L280.1,560.4L279.3,557.8L278.6,554.3L278.6,553.3L287.6,553.3L287.1,557.0L286.5,559.3L285.9,560.5L284.1,563.5L283.6,564.2L283.1,564.6Z" fill="#30e838"/><path d="M283.4,561.1L282.6,561.0L281.9,560.6L281.1,559.8L280.7,559.0L280.3,558.0L280.0,556.8L279.7,553.8L279.8,553.3L286.6,553.3L286.6,554.0L286.6,556.3L286.4,557.5L286.1,558.5L285.6,559.4L284.9,560.3L284.1,560.8L283.4,561.1Z" fill="#a8f000"/><path d="M284.1,559.9L283.1,560.0L282.4,559.8L281.6,559.1L281.1,558.3L280.8,557.0L280.7,555.8L281.0,554.0L281.3,553.3L285.3,553.3L285.6,553.8L286.1,555.8L285.9,557.5L285.6,558.3L285.2,559.0L284.6,559.6L284.1,559.9Z" fill="#ffe800"/><path d="M284.1,559.1L283.6,559.3L283.1,559.2L282.4,558.9L281.9,558.3L281.5,557.3L281.4,556.0L281.7,555.0L282.4,554.1L283.1,553.7L283.9,553.7L284.6,554.2L285.1,554.8L285.5,555.8L285.5,556.8L285.3,557.8L284.9,558.5L284.1,559.1Z" fill="#ff9400"/><path d="M284.1,558.6L283.6,558.7L282.9,558.6L282.3,558.0L281.9,557.3L281.9,556.3L282.1,555.5L282.6,554.8L283.1,554.5L283.9,554.5L284.4,554.8L284.8,555.3L285.1,556.0L285.2,556.8L285.0,557.5L284.6,558.1L284.1,558.6Z" fill="#ff1800"/></g><rect x="258.9" y="552.8" width="41.4" height="41" fill="none" stroke="#000" stroke-width="0.9"/><line x1="258.9" y1="552.5" x2="258.9" y2="594.1" stroke="#000" stroke-width="1.3"/><line x1="258.6" y1="593.8" x2="300.6" y2="593.8" stroke="#000" stroke-width="1.3"/><rect x="274.2" y="553.2" width="17.5" height="16.8" fill="none" stroke="#666" stroke-width="0.6"/><text x="262.5" y="559.2" font-size="5" text-anchor="middle" fill="#222">97</text><text x="255" y="559.55" font-size="4.3" text-anchor="end" fill="#222">10<tspan font-size="2.67" dy="-1.81">5</tspan></text><text x="255" y="568.85" font-size="4.3" text-anchor="end" fill="#222">10<tspan font-size="2.67" dy="-1.81">4</tspan></text><text x="255" y="578.15" font-size="4.3" text-anchor="end" fill="#222">10<tspan font-size="2.67" dy="-1.81">3</tspan></text><text x="255" y="587.05" font-size="4.3" text-anchor="end" fill="#222">10<tspan font-size="2.67" dy="-1.81">2</tspan></text><text x="254.3" y="590.95" font-size="4.3" text-anchor="end" fill="#222">0</text><text x="262.7" y="602.38" font-size="4.4" text-anchor="middle" fill="#111" stroke="#111" stroke-width="0.07">0</text><text x="264.6" y="602.38" font-size="4.4" text-anchor="start" fill="#111" stroke="#111" stroke-width="0.07" textLength="5.5" lengthAdjust="spacingAndGlyphs">10<tspan font-size="2.73" dy="-1.85">2</tspan></text><text x="273.9" y="602.38" font-size="4.4" text-anchor="start" fill="#111" stroke="#111" stroke-width="0.07" textLength="5.5" lengthAdjust="spacingAndGlyphs">10<tspan font-size="2.73" dy="-1.85">3</tspan></text><text x="283.8" y="602.38" font-size="4.4" text-anchor="start" fill="#111" stroke="#111" stroke-width="0.07" textLength="5.5" lengthAdjust="spacingAndGlyphs">10<tspan font-size="2.73" dy="-1.85">4</tspan></text><text x="292.9" y="602.38" font-size="4.4" text-anchor="start" fill="#111" stroke="#111" stroke-width="0.07" textLength="5.5" lengthAdjust="spacingAndGlyphs">10<tspan font-size="2.73" dy="-1.85">5</tspan></text><g filter="url(#soft)"><path d="M229.9,640.2L229.4,640.3L228.7,640.0L227.9,639.1L227.3,637.9L226.0,633.1L225.2,624.4L225.0,620.6L224.9,613.4L225.2,607.4L225.7,607.2L226.7,607.2L235.9,607.2L236.4,607.4L236.4,608.1L235.4,622.1L235.1,624.1L231.6,638.1L230.9,639.4L230.4,639.9L229.9,640.2Z" fill="#1438ff"/><path d="M229.7,639.0L229.1,638.9L228.5,638.1L227.3,634.4L226.9,632.6L226.1,623.9L225.9,613.4L226.2,607.4L227.2,607.3L229.7,607.2L235.2,607.4L235.4,607.4L235.4,608.1L234.4,621.9L234.1,623.9L232.7,629.7L231.8,633.9L230.5,638.1L230.2,638.6L229.7,639.0Z" fill="#0a80ff"/><path d="M229.7,638.5L229.2,638.4L228.7,637.7L227.5,634.4L227.2,632.6L227.0,629.6L226.3,623.9L226.2,613.1L226.5,607.4L230.2,607.2L234.9,607.4L235.1,607.4L235.0,608.1L233.9,623.6L232.4,629.6L231.6,633.6L230.3,637.6L229.9,638.3L229.7,638.5Z" fill="#00c0ff"/><path d="M229.4,637.7L229.2,637.5L228.7,636.6L227.9,634.6L227.5,633.4L227.3,629.4L226.7,624.9L226.6,611.9L226.9,607.4L230.4,607.3L234.6,607.4L233.5,623.9L232.1,629.6L231.4,633.6L229.9,637.2L229.7,637.6L229.4,637.7Z" fill="#00e8f0"/><path d="M229.4,635.9L229.2,635.8L228.7,635.2L228.2,634.3L227.9,633.4L227.8,632.1L227.8,629.4L227.2,626.4L227.0,624.6L227.0,622.9L227.4,618.4L227.4,615.9L227.2,611.4L227.4,608.2L227.6,607.4L230.4,607.3L233.9,607.4L233.8,611.1L233.3,615.9L232.8,623.9L231.6,629.4L231.2,633.1L230.4,634.9L229.9,635.6L229.4,635.9Z" fill="#10eca0"/><path d="M229.7,635.0L229.4,635.0L228.9,634.7L228.4,634.0L228.2,633.4L228.1,632.1L228.3,629.4L227.6,626.6L227.3,624.9L227.2,623.6L227.3,622.4L228.3,618.6L228.5,617.1L228.4,615.6L227.7,612.4L227.6,610.1L227.9,608.6L228.3,607.4L232.9,607.4L233.2,609.1L233.3,610.9L233.1,612.6L232.3,615.6L232.2,616.9L232.1,618.9L232.3,622.6L232.2,624.1L231.9,626.1L231.0,629.1L231.1,631.6L231.0,632.9L230.4,634.2L229.7,635.0Z" fill="#30e838"/><path d="M230.7,615.0L229.9,615.0L229.2,614.5L228.4,613.3L228.1,611.9L228.0,610.6L228.2,609.4L228.7,608.2L229.4,607.4L231.6,607.4L232.2,608.1L232.7,609.6L232.8,611.4L232.4,612.9L231.7,614.2L231.2,614.7L230.7,615.0ZM229.7,628.8L229.4,628.8L228.9,628.4L228.2,627.4L227.7,625.9L227.5,624.1L227.7,622.4L228.2,621.1L228.9,620.1L229.7,619.8L230.2,619.9L230.4,620.1L231.0,620.9L231.5,622.4L231.6,623.9L231.5,625.4L231.1,626.9L230.4,628.0L229.7,628.8ZM229.9,634.2L229.4,634.3L228.9,634.0L228.6,633.4L228.4,632.6L228.4,631.8L228.7,631.0L229.2,630.2L229.7,630.0L230.2,630.3L230.4,630.7L230.8,631.9L230.6,633.1L230.4,633.6L229.9,634.2Z" fill="#a8f000"/><path d="M230.7,613.9L229.9,613.9L229.2,613.4L228.6,612.4L228.4,611.1L228.5,609.9L228.9,608.8L229.7,608.0L230.4,607.8L231.2,608.1L231.8,608.6L232.2,609.6L232.4,610.6L232.3,611.6L231.9,612.8L231.4,613.5L230.7,613.9ZM229.9,627.4L229.7,627.6L229.2,627.6L228.7,627.2L228.4,626.9L228.0,625.9L227.8,624.6L227.8,623.4L228.2,622.1L228.7,621.4L229.4,621.0L229.9,621.1L230.5,621.6L230.9,622.6L231.2,623.6L231.1,624.9L230.9,625.9L230.4,626.9L229.9,627.4ZM229.7,633.7L229.4,633.7L229.1,633.4L228.8,632.9L228.8,632.4L228.9,631.9L229.1,631.4L229.4,631.2L229.7,631.1L230.2,631.5L230.4,632.4L230.2,633.2L229.7,633.7Z" fill="#ffe800"/><path d="M230.7,613.2L229.9,613.2L229.4,612.9L229.0,612.1L228.8,611.4L228.8,610.4L229.0,609.6L229.4,609.0L230.2,608.6L230.7,608.6L231.2,608.9L231.7,609.6L231.9,610.4L231.9,611.4L231.7,612.1L231.2,612.9L230.7,613.2ZM229.7,626.7L229.2,626.7L228.7,626.4L228.3,625.6L228.1,624.6L228.1,623.6L228.4,622.6L228.9,622.1L229.4,621.9L229.9,622.1L230.2,622.4L230.6,623.1L230.7,623.9L230.7,624.9L230.5,625.6L230.2,626.2L229.7,626.7Z" fill="#ff9400"/><path d="M230.7,612.7L230.2,612.7L229.7,612.5L229.4,612.1L229.1,611.4L229.1,610.6L229.3,609.9L229.7,609.3L230.2,609.1L230.7,609.1L231.2,609.5L231.4,609.9L231.6,610.6L231.6,611.4L231.4,611.9L231.1,612.4L230.7,612.7ZM229.7,626.0L229.2,626.1L228.9,626.0L228.7,625.6L228.4,624.9L228.4,624.1L228.5,623.4L228.8,622.9L229.2,622.6L229.7,622.6L229.9,622.9L230.3,623.9L230.2,625.1L229.9,625.7L229.7,626.0Z" fill="#ff1800"/></g><rect x="203.7" y="606.9" width="41" height="41" fill="none" stroke="#000" stroke-width="0.9"/><line x1="203.7" y1="606.6" x2="203.7" y2="648.2" stroke="#000" stroke-width="1.3"/><line x1="203.4" y1="647.9" x2="245" y2="647.9" stroke="#000" stroke-width="1.3"/><rect x="221.7" y="607.3" width="16.2" height="13" fill="none" stroke="#666" stroke-width="0.6"/><text x="215.2" y="613.3" font-size="5" text-anchor="middle" fill="#222">46</text><text x="199.8" y="613.65" font-size="4.3" text-anchor="end" fill="#222">10<tspan font-size="2.67" dy="-1.81">5</tspan></text><text x="199.8" y="622.95" font-size="4.3" text-anchor="end" fill="#222">10<tspan font-size="2.67" dy="-1.81">4</tspan></text><text x="199.8" y="632.25" font-size="4.3" text-anchor="end" fill="#222">10<tspan font-size="2.67" dy="-1.81">3</tspan></text><text x="199.8" y="641.15" font-size="4.3" text-anchor="end" fill="#222">10<tspan font-size="2.67" dy="-1.81">2</tspan></text><text x="199.1" y="645.05" font-size="4.3" text-anchor="end" fill="#222">0</text><text x="207.5" y="656.48" font-size="4.4" text-anchor="middle" fill="#111" stroke="#111" stroke-width="0.07">0</text><text x="209.4" y="656.48" font-size="4.4" text-anchor="start" fill="#111" stroke="#111" stroke-width="0.07" textLength="5.5" lengthAdjust="spacingAndGlyphs">10<tspan font-size="2.73" dy="-1.85">2</tspan></text><text x="218.7" y="656.48" font-size="4.4" text-anchor="start" fill="#111" stroke="#111" stroke-width="0.07" textLength="5.5" lengthAdjust="spacingAndGlyphs">10<tspan font-size="2.73" dy="-1.85">3</tspan></text><text x="228.6" y="656.48" font-size="4.4" text-anchor="start" fill="#111" stroke="#111" stroke-width="0.07" textLength="5.5" lengthAdjust="spacingAndGlyphs">10<tspan font-size="2.73" dy="-1.85">4</tspan></text><text x="237.7" y="656.48" font-size="4.4" text-anchor="start" fill="#111" stroke="#111" stroke-width="0.07" textLength="5.5" lengthAdjust="spacingAndGlyphs">10<tspan font-size="2.73" dy="-1.85">5</tspan></text><g filter="url(#soft)"><path d="M283.1,631.9L281.9,631.9L280.6,631.3L279.1,629.9L278.6,629.1L278.2,628.4L277.3,623.9L276.0,614.9L275.2,607.9L275.2,607.4L275.4,607.3L276.9,607.2L287.1,607.2L288.4,607.2L289.1,607.4L288.8,612.9L288.6,615.1L287.5,622.9L286.6,628.1L286.0,629.6L285.3,630.6L284.1,631.5L283.1,631.9Z" fill="#1438ff"/><path d="M282.9,630.9L281.9,630.8L280.8,630.1L279.7,628.9L279.2,627.6L278.1,622.1L276.8,612.9L276.1,607.4L277.6,607.2L282.6,607.2L286.9,607.3L288.1,607.4L287.7,613.9L286.4,622.9L285.6,627.6L285.2,628.9L284.5,629.9L283.6,630.6L282.9,630.9Z" fill="#0a80ff"/><path d="M283.1,630.5L282.6,630.6L282.1,630.5L281.1,629.9L280.1,628.8L279.6,627.6L278.4,621.7L277.1,612.9L276.4,607.4L277.9,607.3L282.6,607.2L286.4,607.3L287.8,607.4L287.4,613.8L285.2,627.4L284.9,628.5L284.4,629.4L283.7,630.1L283.1,630.5Z" fill="#00c0ff"/><path d="M283.1,629.9L282.4,630.1L281.6,629.6L280.7,628.6L280.1,627.5L278.9,621.7L277.6,613.9L276.8,607.4L282.6,607.3L287.4,607.4L287.1,613.4L285.1,624.8L284.4,628.2L283.9,629.2L283.1,629.9Z" fill="#00e8f0"/><path d="M282.6,626.2L282.1,626.2L281.9,626.1L281.4,625.3L280.6,623.5L280.1,621.9L278.4,613.9L277.4,607.4L282.6,607.3L286.9,607.4L286.8,611.6L286.4,614.1L284.1,622.9L283.4,625.1L282.6,626.2Z" fill="#10eca0"/><path d="M282.4,619.5L281.9,619.4L281.1,618.5L279.9,615.7L278.9,612.2L278.1,608.3L278.1,607.4L286.2,607.4L286.4,611.4L286.2,612.6L286.0,613.9L285.1,615.7L283.6,618.2L282.9,619.2L282.4,619.5Z" fill="#30e838"/><path d="M282.9,615.9L282.1,615.8L281.4,615.3L280.9,614.6L280.3,613.6L279.8,611.6L279.2,607.9L279.2,607.4L285.3,607.4L285.9,610.6L285.9,611.9L285.7,613.1L285.2,614.1L284.6,615.0L283.9,615.6L282.9,615.9Z" fill="#a8f000"/><path d="M283.1,614.9L282.4,614.8L281.6,614.3L281.1,613.6L280.7,612.6L280.5,611.4L280.5,610.1L280.8,607.9L281.1,607.4L283.9,607.4L284.6,608.3L285.3,609.9L285.5,611.6L285.4,612.6L285.1,613.3L284.4,614.4L283.9,614.7L283.1,614.9Z" fill="#ffe800"/><path d="M283.9,613.9L283.1,614.1L282.4,613.9L281.7,613.1L281.3,612.1L281.2,610.9L281.5,609.9L282.0,609.1L282.6,608.7L283.4,608.7L284.1,609.1L284.6,609.8L285.0,610.6L285.1,611.6L284.9,612.6L284.5,613.4L283.9,613.9Z" fill="#ff9400"/><path d="M283.6,613.5L282.9,613.5L282.4,613.3L281.9,612.6L281.7,611.9L281.7,611.1L281.9,610.4L282.4,609.8L282.9,609.5L283.4,609.5L284.1,609.9L284.4,610.4L284.7,611.1L284.7,611.9L284.5,612.6L284.1,613.2L283.6,613.5Z" fill="#ff1800"/></g><rect x="258.9" y="606.9" width="41.4" height="41" fill="none" stroke="#000" stroke-width="0.9"/><line x1="258.9" y1="606.6" x2="258.9" y2="648.2" stroke="#000" stroke-width="1.3"/><line x1="258.6" y1="647.9" x2="300.6" y2="647.9" stroke="#000" stroke-width="1.3"/><rect x="274.2" y="607.3" width="17.5" height="16.8" fill="none" stroke="#666" stroke-width="0.6"/><text x="262.5" y="613.3" font-size="5" text-anchor="middle" fill="#222">93</text><text x="255" y="613.65" font-size="4.3" text-anchor="end" fill="#222">10<tspan font-size="2.67" dy="-1.81">5</tspan></text><text x="255" y="622.95" font-size="4.3" text-anchor="end" fill="#222">10<tspan font-size="2.67" dy="-1.81">4</tspan></text><text x="255" y="632.25" font-size="4.3" text-anchor="end" fill="#222">10<tspan font-size="2.67" dy="-1.81">3</tspan></text><text x="255" y="641.15" font-size="4.3" text-anchor="end" fill="#222">10<tspan font-size="2.67" dy="-1.81">2</tspan></text><text x="254.3" y="645.05" font-size="4.3" text-anchor="end" fill="#222">0</text><text x="262.7" y="656.48" font-size="4.4" text-anchor="middle" fill="#111" stroke="#111" stroke-width="0.07">0</text><text x="264.6" y="656.48" font-size="4.4" text-anchor="start" fill="#111" stroke="#111" stroke-width="0.07" textLength="5.5" lengthAdjust="spacingAndGlyphs">10<tspan font-size="2.73" dy="-1.85">2</tspan></text><text x="273.9" y="656.48" font-size="4.4" text-anchor="start" fill="#111" stroke="#111" stroke-width="0.07" textLength="5.5" lengthAdjust="spacingAndGlyphs">10<tspan font-size="2.73" dy="-1.85">3</tspan></text><text x="283.8" y="656.48" font-size="4.4" text-anchor="start" fill="#111" stroke="#111" stroke-width="0.07" textLength="5.5" lengthAdjust="spacingAndGlyphs">10<tspan font-size="2.73" dy="-1.85">4</tspan></text><text x="292.9" y="656.48" font-size="4.4" text-anchor="start" fill="#111" stroke="#111" stroke-width="0.07" textLength="5.5" lengthAdjust="spacingAndGlyphs">10<tspan font-size="2.73" dy="-1.85">5</tspan></text><text x="224.4" y="666.72" font-size="5.6" text-anchor="middle" fill="#222">CD4</text><text x="279.6" y="666.72" font-size="5.6" text-anchor="middle" fill="#222">CD8</text><line x1="183.6" y1="453.2" x2="183.6" y2="613.6" stroke="#111" stroke-width="1.05"/><path d="M183.6,448.2L180.4,455.1L183.6,453.8L186.8,455.1Z" fill="#000"/><text transform="translate(185.9,623.1) rotate(-90)" font-size="6" text-anchor="middle" fill="#222" textLength="11.8" lengthAdjust="spacingAndGlyphs">IFN-γ</text><rect x="360.8" y="475.4" width="10" height="45.9" fill="#a40232"/><line x1="363.6" y1="475" x2="368" y2="475" stroke="#000" stroke-width="0.9"/><line x1="365.8" y1="475" x2="365.8" y2="475.9" stroke="#000" stroke-width="0.9"/><rect x="370.8" y="483.97" width="9.2" height="37.33" fill="#2b4f8c"/><line x1="373.2" y1="482.96" x2="377.6" y2="482.96" stroke="#000" stroke-width="0.9"/><line x1="375.4" y1="482.96" x2="375.4" y2="484.47" stroke="#000" stroke-width="0.9"/><rect x="380" y="474.52" width="10" height="46.78" fill="#6aae46"/><line x1="382.8" y1="474.12" x2="387.2" y2="474.12" stroke="#000" stroke-width="0.9"/><line x1="385" y1="474.12" x2="385" y2="475.02" stroke="#000" stroke-width="0.9"/><rect x="390" y="477.76" width="9.5" height="43.54" fill="#52215f"/><line x1="392.55" y1="476.41" x2="396.95" y2="476.41" stroke="#000" stroke-width="0.9"/><line x1="394.75" y1="476.41" x2="394.75" y2="478.26" stroke="#000" stroke-width="0.9"/><text x="380" y="533.57" font-size="6.3" text-anchor="middle" fill="#222">CD4</text><line x1="380" y1="521.3" x2="380" y2="523.3" stroke="#000" stroke-width="0.8"/><rect x="409.5" y="460.55" width="9.8" height="60.75" fill="#a40232"/><line x1="412.2" y1="459.88" x2="416.6" y2="459.88" stroke="#000" stroke-width="0.9"/><line x1="414.4" y1="459.88" x2="414.4" y2="461.05" stroke="#000" stroke-width="0.9"/><rect x="419.3" y="460.55" width="9.5" height="60.75" fill="#2b4f8c"/><line x1="421.85" y1="460.21" x2="426.25" y2="460.21" stroke="#000" stroke-width="0.9"/><line x1="424.05" y1="460.21" x2="424.05" y2="461.05" stroke="#000" stroke-width="0.9"/><rect x="428.8" y="456.37" width="10" height="64.93" fill="#6aae46"/><line x1="431.6" y1="455.96" x2="436" y2="455.96" stroke="#000" stroke-width="0.9"/><line x1="433.8" y1="455.96" x2="433.8" y2="456.87" stroke="#000" stroke-width="0.9"/><rect x="438.8" y="455.15" width="9.5" height="66.15" fill="#52215f"/><line x1="441.35" y1="454.81" x2="445.75" y2="454.81" stroke="#000" stroke-width="0.9"/><line x1="443.55" y1="454.81" x2="443.55" y2="455.65" stroke="#000" stroke-width="0.9"/><text x="428.8" y="533.57" font-size="6.3" text-anchor="middle" fill="#222">CD8</text><line x1="428.8" y1="521.3" x2="428.8" y2="523.3" stroke="#000" stroke-width="0.8"/><line x1="356.3" y1="450.5" x2="356.3" y2="521.8" stroke="#000" stroke-width="1.1"/><line x1="355.8" y1="521.3" x2="452.5" y2="521.3" stroke="#000" stroke-width="1.1"/><line x1="353.3" y1="521.3" x2="356.3" y2="521.3" stroke="#000" stroke-width="0.9"/><text x="349.7" y="523.57" font-size="6.3" text-anchor="end" fill="#222">0</text><line x1="353.3" y1="504.42" x2="356.3" y2="504.42" stroke="#000" stroke-width="0.9"/><text x="349.7" y="506.69" font-size="6.3" text-anchor="end" fill="#222">25</text><line x1="353.3" y1="487.55" x2="356.3" y2="487.55" stroke="#000" stroke-width="0.9"/><text x="349.7" y="489.82" font-size="6.3" text-anchor="end" fill="#222">50</text><line x1="353.3" y1="470.68" x2="356.3" y2="470.68" stroke="#000" stroke-width="0.9"/><text x="349.7" y="472.94" font-size="6.3" text-anchor="end" fill="#222">75</text><line x1="353.3" y1="453.8" x2="356.3" y2="453.8" stroke="#000" stroke-width="0.9"/><text x="349.7" y="456.07" font-size="6.3" text-anchor="end" fill="#222">100</text><path d="M365.8,471.3V468.8H375.4V471.3" fill="none" stroke="#000" stroke-width="0.9"/><text x="370.6" y="469.89" font-size="7.4" text-anchor="middle" fill="#111" stroke="#111" stroke-width="0.15">**</text><path d="M375.4,462.5V460H385V462.5" fill="none" stroke="#000" stroke-width="0.9"/><text x="380.2" y="461.09" font-size="7.4" text-anchor="middle" fill="#111" stroke="#111" stroke-width="0.15">***</text><path d="M375.4,453V450.5H394.8V453" fill="none" stroke="#000" stroke-width="0.9"/><text x="385.1" y="451.59" font-size="7.4" text-anchor="middle" fill="#111" stroke="#111" stroke-width="0.15">*</text><path d="M414.4,454.5V452H433.8V454.5" fill="none" stroke="#000" stroke-width="0.9"/><text x="424.1" y="453.09" font-size="7.4" text-anchor="middle" fill="#111" stroke="#111" stroke-width="0.15">*</text><path d="M414.4,447V444.5H443.5V447" fill="none" stroke="#000" stroke-width="0.9"/><text x="428.95" y="445.59" font-size="7.4" text-anchor="middle" fill="#111" stroke="#111" stroke-width="0.15">**</text><path d="M424,438V435.5H433.8V438" fill="none" stroke="#000" stroke-width="0.9"/><text x="428.9" y="436.59" font-size="7.4" text-anchor="middle" fill="#111" stroke="#111" stroke-width="0.15">*</text><path d="M424,428.8V426.3H443.5V428.8" fill="none" stroke="#000" stroke-width="0.9"/><text x="433.75" y="427.39" font-size="7.4" text-anchor="middle" fill="#111" stroke="#111" stroke-width="0.15">**</text><text transform="translate(331.9,486.2) rotate(-90)" font-size="8.4" text-anchor="middle" fill="#222" textLength="43.1" lengthAdjust="spacingAndGlyphs">% CFSE diluted</text><rect x="361.8" y="629.2" width="9.5" height="24.7" fill="#a40232"/><line x1="364.35" y1="628.66" x2="368.75" y2="628.66" stroke="#000" stroke-width="0.9"/><line x1="366.55" y1="628.66" x2="366.55" y2="629.7" stroke="#000" stroke-width="0.9"/><rect x="371.3" y="639.49" width="9.8" height="14.41" fill="#2b4f8c"/><line x1="374" y1="638.81" x2="378.4" y2="638.81" stroke="#000" stroke-width="0.9"/><line x1="376.2" y1="638.81" x2="376.2" y2="639.99" stroke="#000" stroke-width="0.9"/><rect x="381.1" y="627.49" width="9.6" height="26.41" fill="#6aae46"/><line x1="383.7" y1="625.09" x2="388.1" y2="625.09" stroke="#000" stroke-width="0.9"/><line x1="385.9" y1="625.09" x2="385.9" y2="627.99" stroke="#000" stroke-width="0.9"/><rect x="390.7" y="632.63" width="9.5" height="21.27" fill="#52215f"/><line x1="393.25" y1="630.71" x2="397.65" y2="630.71" stroke="#000" stroke-width="0.9"/><line x1="395.45" y1="630.71" x2="395.45" y2="633.13" stroke="#000" stroke-width="0.9"/><text x="379.1" y="665.67" font-size="6.3" text-anchor="middle" fill="#222">CD4</text><line x1="379.1" y1="653.9" x2="379.1" y2="655.9" stroke="#000" stroke-width="0.8"/><rect x="410.9" y="592.85" width="9.2" height="61.05" fill="#a40232"/><line x1="413.3" y1="592.43" x2="417.7" y2="592.43" stroke="#000" stroke-width="0.9"/><line x1="415.5" y1="592.43" x2="415.5" y2="593.35" stroke="#000" stroke-width="0.9"/><rect x="420.1" y="595.73" width="9.8" height="58.17" fill="#2b4f8c"/><line x1="422.8" y1="595.38" x2="427.2" y2="595.38" stroke="#000" stroke-width="0.9"/><line x1="425" y1="595.38" x2="425" y2="596.23" stroke="#000" stroke-width="0.9"/><rect x="429.9" y="589.55" width="9.2" height="64.35" fill="#6aae46"/><line x1="432.3" y1="589.21" x2="436.7" y2="589.21" stroke="#000" stroke-width="0.9"/><line x1="434.5" y1="589.21" x2="434.5" y2="590.05" stroke="#000" stroke-width="0.9"/><rect x="439.1" y="591.47" width="9.8" height="62.43" fill="#52215f"/><line x1="441.8" y1="591.13" x2="446.2" y2="591.13" stroke="#000" stroke-width="0.9"/><line x1="444" y1="591.13" x2="444" y2="591.97" stroke="#000" stroke-width="0.9"/><text x="428.7" y="665.67" font-size="6.3" text-anchor="middle" fill="#222">CD8</text><line x1="428.7" y1="653.9" x2="428.7" y2="655.9" stroke="#000" stroke-width="0.8"/><line x1="355.5" y1="582.7" x2="355.5" y2="654.4" stroke="#000" stroke-width="1.1"/><line x1="355" y1="653.9" x2="453.3" y2="653.9" stroke="#000" stroke-width="1.1"/><line x1="352.5" y1="653.9" x2="355.5" y2="653.9" stroke="#000" stroke-width="0.9"/><text x="348.9" y="656.17" font-size="6.3" text-anchor="end" fill="#222">0</text><line x1="352.5" y1="636.75" x2="355.5" y2="636.75" stroke="#000" stroke-width="0.9"/><text x="348.9" y="639.02" font-size="6.3" text-anchor="end" fill="#222">25</text><line x1="352.5" y1="619.6" x2="355.5" y2="619.6" stroke="#000" stroke-width="0.9"/><text x="348.9" y="621.87" font-size="6.3" text-anchor="end" fill="#222">50</text><line x1="352.5" y1="602.45" x2="355.5" y2="602.45" stroke="#000" stroke-width="0.9"/><text x="348.9" y="604.72" font-size="6.3" text-anchor="end" fill="#222">75</text><line x1="352.5" y1="585.3" x2="355.5" y2="585.3" stroke="#000" stroke-width="0.9"/><text x="348.9" y="587.57" font-size="6.3" text-anchor="end" fill="#222">100</text><path d="M366.5,626.7V624.2H376.2V626.7" fill="none" stroke="#000" stroke-width="0.9"/><text x="371.35" y="625.29" font-size="7.4" text-anchor="middle" fill="#111" stroke="#111" stroke-width="0.15">**</text><path d="M376.2,621V618.5H385.9V621" fill="none" stroke="#000" stroke-width="0.9"/><text x="381.05" y="619.59" font-size="7.4" text-anchor="middle" fill="#111" stroke="#111" stroke-width="0.15">***</text><path d="M376.2,611.7V609.2H395.5V611.7" fill="none" stroke="#000" stroke-width="0.9"/><text x="385.85" y="610.29" font-size="7.4" text-anchor="middle" fill="#111" stroke="#111" stroke-width="0.15">*</text><path d="M415.5,590.1V587.6H425V590.1" fill="none" stroke="#000" stroke-width="0.9"/><text x="420.25" y="588.69" font-size="7.4" text-anchor="middle" fill="#111" stroke="#111" stroke-width="0.15">*</text><path d="M415.5,580.5V578H434.5V580.5" fill="none" stroke="#000" stroke-width="0.9"/><text x="425" y="579.09" font-size="7.4" text-anchor="middle" fill="#111" stroke="#111" stroke-width="0.15">*</text><path d="M425,571.3V568.8H434.5V571.3" fill="none" stroke="#000" stroke-width="0.9"/><text x="429.75" y="569.89" font-size="7.4" text-anchor="middle" fill="#111" stroke="#111" stroke-width="0.15">****</text><path d="M425,561.8V559.3H444V561.8" fill="none" stroke="#000" stroke-width="0.9"/><text x="434.5" y="560.39" font-size="7.4" text-anchor="middle" fill="#111" stroke="#111" stroke-width="0.15">***</text><text transform="translate(332.6,618.5) rotate(-90)" font-size="8.4" text-anchor="middle" fill="#222" textLength="23" lengthAdjust="spacingAndGlyphs">% IFN-γ</text><rect x="454.3" y="433" width="11.5" height="5.6" fill="#a40232"/><text x="468.9" y="438.21" font-size="6.7" text-anchor="start" fill="#222">DMSO</text><rect x="454.3" y="444.8" width="11.5" height="5.6" fill="#2b4f8c"/><text x="468.9" y="450.01" font-size="6.7" text-anchor="start" fill="#222">Ex-527</text><rect x="454.3" y="456.6" width="11.5" height="5.6" fill="#6aae46"/><text x="468.9" y="461.81" font-size="6.7" text-anchor="start" fill="#222">p53i</text><rect x="454.3" y="468.4" width="11.5" height="5.6" fill="#52215f"/><text x="468.9" y="473.61" font-size="6.7" text-anchor="start" fill="#222">Ex-527+p53i</text><text x="141.3" y="267.98" font-size="6.6" text-anchor="middle" fill="#222">Th1 polarized</text><line x1="99.5" y1="271.8" x2="184.5" y2="271.8" stroke="#000" stroke-width="1"/><text x="81.3" y="290.16" font-size="6" text-anchor="middle" fill="#222">kDa</text><text x="111.3" y="290.01" font-size="6.7" text-anchor="middle" fill="#222">WT</text><text x="137.3" y="290" font-size="6.7" text-anchor="middle" fill="#222">Sirt-1<tspan font-size="3.8" dy="-2.6">-/-</tspan></text><text x="170" y="280.61" font-size="6.7" text-anchor="middle" fill="#222">WT</text><text x="170.6" y="287.91" font-size="6.7" text-anchor="middle" fill="#222" textLength="27" lengthAdjust="spacingAndGlyphs">+Ex+527</text><text x="86" y="301.8" font-size="6.4" text-anchor="end" fill="#222">130</text><line x1="87.4" y1="299.5" x2="96.5" y2="299.5" stroke="#000" stroke-width="1.3"/><text x="86" y="314.3" font-size="6.4" text-anchor="end" fill="#222">100</text><line x1="87.4" y1="312" x2="96.5" y2="312" stroke="#000" stroke-width="1.3"/><text x="86" y="323.1" font-size="6.4" text-anchor="end" fill="#222">70</text><line x1="87.4" y1="320.8" x2="96.5" y2="320.8" stroke="#000" stroke-width="1.3"/><text x="86" y="344.1" font-size="6.4" text-anchor="end" fill="#222">35</text><line x1="87.4" y1="341.8" x2="96.5" y2="341.8" stroke="#000" stroke-width="1.3"/><text x="28" y="331.88" font-size="6.6" text-anchor="start" fill="#222" textLength="36.6" lengthAdjust="spacingAndGlyphs">α-acetylated</text><text x="46.3" y="339.41" font-size="6.7" text-anchor="middle" fill="#222">lysine</text><text x="52.7" y="401.94" font-size="6.5" text-anchor="start" fill="#222" textLength="20.2" lengthAdjust="spacingAndGlyphs">α-actin</text><text x="85.6" y="400.5" font-size="6.4" text-anchor="end" fill="#222">42</text><line x1="87.4" y1="398.2" x2="96.5" y2="398.2" stroke="#000" stroke-width="1.3"/><g clip-path="url(#cpC)"><g filter="url(#blh)"><rect x="96" y="290" width="92" height="104" fill="#e4e4e4"/><rect x="99" y="290" width="29.6" height="104" fill="url(#lg1)"/><rect x="129.6" y="290" width="22.4" height="104" fill="url(#lg2)"/><rect x="155.6" y="290" width="26.8" height="104" fill="url(#lg3)"/><ellipse cx="104" cy="301" rx="5" ry="8" fill="#8c8c8c" opacity="0.5"/><ellipse cx="121" cy="296" rx="5" ry="3" fill="#a0a0a0" opacity="0.4"/><ellipse cx="104" cy="362" rx="5" ry="12" fill="#a8a8a8" opacity="0.55"/><ellipse cx="118" cy="368" rx="7" ry="5" fill="#b0b0b0" opacity="0.5"/><ellipse cx="121" cy="333" rx="6" ry="12" fill="#f0f0f0" opacity="0.5"/><ellipse cx="137" cy="360" rx="6" ry="8" fill="#a8a8a8" opacity="0.35"/><ellipse cx="160" cy="318" rx="3" ry="6" fill="#888" opacity="0.35"/><ellipse cx="126.2" cy="307.2" rx="3.2" ry="2.6" fill="#5a5a5a" opacity="0.2"/><ellipse cx="129.7" cy="299.7" rx="3.6" ry="1.7" fill="#ebebeb" opacity="0.2"/><ellipse cx="134.1" cy="314.5" rx="4.3" ry="3.2" fill="#ebebeb" opacity="0.2"/><ellipse cx="109.4" cy="313.1" rx="5.8" ry="2.7" fill="#ebebeb" opacity="0.2"/><ellipse cx="132.3" cy="374.1" rx="4.7" ry="1.8" fill="#5a5a5a" opacity="0.2"/><ellipse cx="134.2" cy="338.8" rx="3.9" ry="3.1" fill="#ebebeb" opacity="0.2"/><ellipse cx="114.2" cy="342.1" rx="4.1" ry="2.6" fill="#6e6e6e" opacity="0.2"/><ellipse cx="104.3" cy="299.8" rx="4.5" ry="2.6" fill="#6e6e6e" opacity="0.2"/><ellipse cx="164.3" cy="332.7" rx="4.1" ry="2.0" fill="#d2d2d2" opacity="0.2"/><ellipse cx="114.1" cy="358.2" rx="4.7" ry="2.6" fill="#5a5a5a" opacity="0.2"/><ellipse cx="172.5" cy="354.1" rx="4.8" ry="1.6" fill="#828282" opacity="0.2"/><ellipse cx="142.0" cy="308.4" rx="3.5" ry="2.5" fill="#828282" opacity="0.2"/><ellipse cx="102.3" cy="349.1" rx="4.7" ry="3.3" fill="#ebebeb" opacity="0.2"/><ellipse cx="125.4" cy="351.3" rx="4.5" ry="3.1" fill="#ebebeb" opacity="0.2"/><ellipse cx="104.8" cy="302.6" rx="4.4" ry="2.8" fill="#828282" opacity="0.2"/><ellipse cx="104.1" cy="351.8" rx="6.0" ry="3.1" fill="#ebebeb" opacity="0.2"/><ellipse cx="122.9" cy="326.2" rx="3.1" ry="2.4" fill="#828282" opacity="0.2"/><ellipse cx="113.1" cy="304.5" rx="3.7" ry="2.1" fill="#5a5a5a" opacity="0.2"/><ellipse cx="161.0" cy="327.2" rx="3.2" ry="2.4" fill="#d2d2d2" opacity="0.2"/><ellipse cx="145.2" cy="366.6" rx="5.6" ry="2.1" fill="#d2d2d2" opacity="0.2"/><ellipse cx="133.9" cy="324.1" rx="5.9" ry="1.8" fill="#d2d2d2" opacity="0.2"/><ellipse cx="113.8" cy="313.8" rx="3.0" ry="3.2" fill="#6e6e6e" opacity="0.2"/><ellipse cx="114.3" cy="317.8" rx="4.3" ry="2.2" fill="#6e6e6e" opacity="0.2"/><ellipse cx="146.6" cy="372.2" rx="5.9" ry="2.8" fill="#ebebeb" opacity="0.2"/><ellipse cx="161.1" cy="332.0" rx="4.2" ry="2.3" fill="#ebebeb" opacity="0.2"/><ellipse cx="107.7" cy="346.4" rx="3.6" ry="3.5" fill="#5a5a5a" opacity="0.2"/><ellipse cx="136.0" cy="303.9" rx="3.2" ry="1.5" fill="#ebebeb" opacity="0.2"/><ellipse cx="111.7" cy="303.2" rx="4.8" ry="1.6" fill="#828282" opacity="0.2"/><ellipse cx="116.5" cy="325.5" rx="5.9" ry="2.7" fill="#828282" opacity="0.2"/><ellipse cx="138.8" cy="304.3" rx="6.0" ry="2.4" fill="#d2d2d2" opacity="0.2"/><ellipse cx="139.6" cy="302.0" rx="5.2" ry="3.0" fill="#5a5a5a" opacity="0.2"/><ellipse cx="139.2" cy="351.1" rx="3.1" ry="3.4" fill="#ebebeb" opacity="0.2"/><ellipse cx="143.4" cy="306.9" rx="5.7" ry="3.0" fill="#ebebeb" opacity="0.2"/><ellipse cx="124.0" cy="347.1" rx="5.1" ry="2.0" fill="#5a5a5a" opacity="0.2"/><ellipse cx="129.8" cy="308.5" rx="4.6" ry="3.1" fill="#6e6e6e" opacity="0.2"/><ellipse cx="126.7" cy="313.1" rx="5.4" ry="3.1" fill="#6e6e6e" opacity="0.2"/><ellipse cx="161.1" cy="313.4" rx="4.5" ry="3.0" fill="#ebebeb" opacity="0.2"/><ellipse cx="182.1" cy="359.0" rx="3.8" ry="2.9" fill="#d2d2d2" opacity="0.2"/><ellipse cx="179.3" cy="331.2" rx="5.9" ry="2.2" fill="#828282" opacity="0.2"/><ellipse cx="117.5" cy="313.4" rx="4.0" ry="2.5" fill="#6e6e6e" opacity="0.2"/><ellipse cx="181.8" cy="344.4" rx="4.4" ry="2.8" fill="#5a5a5a" opacity="0.2"/><ellipse cx="166.2" cy="301.9" rx="5.7" ry="3.1" fill="#5a5a5a" opacity="0.2"/><ellipse cx="162.0" cy="333.7" rx="4.3" ry="2.8" fill="#6e6e6e" opacity="0.2"/><ellipse cx="106.3" cy="371.6" rx="4.4" ry="3.0" fill="#d2d2d2" opacity="0.2"/><ellipse cx="106.1" cy="307.9" rx="3.1" ry="2.7" fill="#6e6e6e" opacity="0.2"/></g><g filter="url(#bl1)"><rect x="99.5" y="377.2" width="28.5" height="15" rx="3" fill="#141414"/><rect x="130.4" y="380.4" width="21.4" height="9.2" rx="3" fill="#101010"/><rect x="130.4" y="389.2" width="21.4" height="4" fill="#505050"/><rect x="156.2" y="377.8" width="26.4" height="13.5" rx="3" fill="#101010"/></g></g><rect x="98.8" y="293" width="85.7" height="98.3" fill="none" stroke="#333" stroke-width="0.9"/><g clip-path="url(#cpA)"><g filter="url(#bl05)"><rect x="96" y="391" width="92" height="16" fill="#e6e6e6"/><path d="M104,392 H123.5 Q125,392 124.6,396 Q124,401.5 117,401.6 Q112,401.8 108,401.2 Q103.2,400.2 103.3,396 Z" fill="#0a0a0a"/><path d="M133,396 Q133,394.6 137,394.8 Q141,395.4 143,394.4 Q146,393.9 149,395.2 Q151.2,396.5 150.8,399 Q150,402.4 142,402.3 Q134.5,402.3 133.2,399.5 Z" fill="#0a0a0a"/><path d="M161,398 Q161.5,396.2 166,396.3 Q172,396.8 176,396.4 Q180.6,396.3 181,399.5 Q181,403.8 174,404 Q167,404.3 163,403 Q160.8,401.5 161,398 Z" fill="#0a0a0a"/></g></g><rect x="98.8" y="393.5" width="85.9" height="11.3" fill="none" stroke="#333" stroke-width="0.9"/><text x="345" y="289.78" font-size="6.6" text-anchor="middle" fill="#222">Th1 polarized</text><line x1="295.8" y1="293.2" x2="394.3" y2="293.2" stroke="#000" stroke-width="1"/><text x="308.9" y="318.91" font-size="6.7" text-anchor="middle" fill="#222">WT</text><text x="342" y="318.9" font-size="6.7" text-anchor="middle" fill="#222">Sirt-1<tspan font-size="3.8" dy="-2.6">-/-</tspan></text><text x="379.5" y="311.21" font-size="6.7" text-anchor="middle" fill="#222">WT</text><text x="379.5" y="318.91" font-size="6.7" text-anchor="middle" fill="#222">+Ex-527</text><text x="239.2" y="336.38" font-size="6.6" text-anchor="start" fill="#222" textLength="51.9" lengthAdjust="spacingAndGlyphs">α-acetylated p53</text><text x="272.1" y="355.38" font-size="6.6" text-anchor="start" fill="#222" textLength="19" lengthAdjust="spacingAndGlyphs">α-p53</text><g clip-path="url(#cpD1)"><g filter="url(#bl08)"><rect x="290" y="318" width="115" height="22" fill="#ececec"/><path d="M326.5,318 H359.5 V331 Q359.5,336.2 354,336.2 H332 Q326.5,336.2 326.5,331Z" fill="#0a0a0a"/><ellipse cx="376" cy="326.2" rx="15" ry="3.2" fill="#c4c4c4"/><path d="M361,329 Q361,326.5 366,326.8 L388,328.2 Q393,328.6 393,331 Q393,333.6 388,333.8 L366,334.8 Q361,335 361,332Z" fill="#5a5a5a"/><ellipse cx="369" cy="331.2" rx="8" ry="3.2" fill="#222"/><ellipse cx="381" cy="331" rx="6" ry="2.2" fill="#3a3a3a"/></g></g><rect x="293.8" y="320.8" width="107.9" height="16.6" fill="none" stroke="#333" stroke-width="0.9"/><g clip-path="url(#cpD2)"><g filter="url(#bl1)"><rect x="290" y="338" width="115" height="23" fill="#8e8e8e"/><rect x="294.5" y="341.6" width="28.5" height="15.4" rx="6" fill="#434343"/><rect x="328.5" y="341.8" width="34" height="15.2" rx="6" fill="#474747"/><rect x="372.8" y="341.8" width="24" height="15.2" rx="6" fill="#4c4c4c"/></g></g><rect x="293.8" y="340.3" width="107.9" height="18" fill="none" stroke="#333" stroke-width="0.9"/><path d="M69.1 58.8H72.3M69.1 46.0H72.3M69.1 33.2H72.3M69.1 20.4H72.3M129.4 58.8H132.6M129.4 50.6H132.6M129.4 42.4H132.6M129.4 34.3H132.6M129.4 26.1H132.6M129.4 17.9H132.6M69.1 113.5H72.3M69.1 104.8H72.3M69.1 96.0H72.3M69.1 87.3H72.3M69.1 78.6H72.3M129.4 113.5H132.6M129.4 103.4H132.6M129.4 93.3H132.6M129.4 83.3H132.6M129.4 73.2H132.6M69.1 167.7H72.3M69.1 160.7H72.3M69.1 153.7H72.3M69.1 146.7H72.3M69.1 139.7H72.3M69.1 132.7H72.3M129.4 167.7H132.6M129.4 159.7H132.6M129.4 151.8H132.6M129.4 143.8H132.6M129.4 135.9H132.6M129.4 127.9H132.6M69.1 222.2H72.3M69.1 213.7H72.3M69.1 205.2H72.3M69.1 196.8H72.3M69.1 188.3H72.3M129.4 222.2H132.6M129.4 212.4H132.6M129.4 202.6H132.6M129.4 192.8H132.6M129.4 183.0H132.6M57.6 484.1H60.8M57.6 471.5H60.8M57.6 459.0H60.8M57.6 446.4H60.8M117.0 484.1H120.2M117.0 475.3H120.2M117.0 466.5H120.2M117.0 457.7H120.2M117.0 448.9H120.2M57.6 539.9H60.8M57.6 526.5H60.8M57.6 513.2H60.8M57.6 499.8H60.8M117.0 539.9H120.2M117.0 529.9H120.2M117.0 519.9H120.2M117.0 509.8H120.2M117.0 499.8H120.2M57.6 593.7H60.8M57.6 584.8H60.8M57.6 576.0H60.8M57.6 567.1H60.8M57.6 558.3H60.8M117.0 593.7H120.2M117.0 586.4H120.2M117.0 579.0H120.2M117.0 571.7H120.2M117.0 564.3H120.2M117.0 557.0H120.2M57.6 648.3H60.8M57.6 637.0H60.8M57.6 625.6H60.8M57.6 614.3H60.8M117.0 648.3H120.2M117.0 637.4H120.2M117.0 626.5H120.2M117.0 615.6H120.2" stroke="#222" stroke-width="0.7" fill="none"/><path d="M70.4 56.2H72.3M70.4 53.7H72.3M70.4 51.1H72.3M70.4 48.6H72.3M70.4 43.4H72.3M70.4 40.9H72.3M70.4 38.3H72.3M70.4 35.8H72.3M70.4 30.6H72.3M70.4 28.1H72.3M70.4 25.5H72.3M70.4 23.0H72.3M130.7 57.2H132.6M130.7 55.5H132.6M130.7 53.9H132.6M130.7 52.3H132.6M130.7 49.0H132.6M130.7 47.3H132.6M130.7 45.7H132.6M130.7 44.1H132.6M130.7 40.8H132.6M130.7 39.2H132.6M130.7 37.5H132.6M130.7 35.9H132.6M130.7 32.6H132.6M130.7 31.0H132.6M130.7 29.4H132.6M130.7 27.7H132.6M130.7 24.4H132.6M130.7 22.8H132.6M130.7 21.2H132.6M130.7 19.5H132.6M70.4 111.8H72.3M70.4 110.0H72.3M70.4 108.3H72.3M70.4 106.5H72.3M70.4 103.0H72.3M70.4 101.3H72.3M70.4 99.5H72.3M70.4 97.8H72.3M70.4 94.3H72.3M70.4 92.6H72.3M70.4 90.8H72.3M70.4 89.1H72.3M70.4 85.6H72.3M70.4 83.8H72.3M70.4 82.1H72.3M70.4 80.3H72.3M130.7 111.5H132.6M130.7 109.5H132.6M130.7 107.5H132.6M130.7 105.4H132.6M130.7 101.4H132.6M130.7 99.4H132.6M130.7 97.4H132.6M130.7 95.4H132.6M130.7 91.3H132.6M130.7 89.3H132.6M130.7 87.3H132.6M130.7 85.3H132.6M130.7 81.3H132.6M130.7 79.2H132.6M130.7 77.2H132.6M130.7 75.2H132.6M70.4 166.3H72.3M70.4 164.9H72.3M70.4 163.5H72.3M70.4 162.1H72.3M70.4 159.3H72.3M70.4 157.9H72.3M70.4 156.5H72.3M70.4 155.1H72.3M70.4 152.3H72.3M70.4 150.9H72.3M70.4 149.5H72.3M70.4 148.1H72.3M70.4 145.3H72.3M70.4 143.9H72.3M70.4 142.5H72.3M70.4 141.1H72.3M70.4 138.3H72.3M70.4 136.9H72.3M70.4 135.5H72.3M70.4 134.1H72.3M130.7 166.1H132.6M130.7 164.5H132.6M130.7 162.9H132.6M130.7 161.3H132.6M130.7 158.1H132.6M130.7 156.6H132.6M130.7 155.0H132.6M130.7 153.4H132.6M130.7 150.2H132.6M130.7 148.6H132.6M130.7 147.0H132.6M130.7 145.4H132.6M130.7 142.2H132.6M130.7 140.6H132.6M130.7 139.0H132.6M130.7 137.5H132.6M130.7 134.3H132.6M130.7 132.7H132.6M130.7 131.1H132.6M130.7 129.5H132.6M70.4 220.5H72.3M70.4 218.8H72.3M70.4 217.1H72.3M70.4 215.4H72.3M70.4 212.0H72.3M70.4 210.3H72.3M70.4 208.6H72.3M70.4 206.9H72.3M70.4 203.6H72.3M70.4 201.9H72.3M70.4 200.2H72.3M70.4 198.5H72.3M70.4 195.1H72.3M70.4 193.4H72.3M70.4 191.7H72.3M70.4 190.0H72.3M130.7 220.2H132.6M130.7 218.3H132.6M130.7 216.3H132.6M130.7 214.4H132.6M130.7 210.4H132.6M130.7 208.5H132.6M130.7 206.5H132.6M130.7 204.6H132.6M130.7 200.6H132.6M130.7 198.7H132.6M130.7 196.7H132.6M130.7 194.8H132.6M130.7 190.8H132.6M130.7 188.9H132.6M130.7 186.9H132.6M130.7 185.0H132.6M58.9 481.6H60.8M58.9 479.1H60.8M58.9 476.6H60.8M58.9 474.0H60.8M58.9 469.0H60.8M58.9 466.5H60.8M58.9 464.0H60.8M58.9 461.5H60.8M58.9 456.5H60.8M58.9 453.9H60.8M58.9 451.4H60.8M58.9 448.9H60.8M118.3 482.3H120.2M118.3 480.6H120.2M118.3 478.8H120.2M118.3 477.1H120.2M118.3 473.5H120.2M118.3 471.8H120.2M118.3 470.0H120.2M118.3 468.3H120.2M118.3 464.7H120.2M118.3 463.0H120.2M118.3 461.2H120.2M118.3 459.5H120.2M118.3 455.9H120.2M118.3 454.2H120.2M118.3 452.4H120.2M118.3 450.7H120.2M58.9 537.2H60.8M58.9 534.6H60.8M58.9 531.9H60.8M58.9 529.2H60.8M58.9 523.9H60.8M58.9 521.2H60.8M58.9 518.5H60.8M58.9 515.8H60.8M58.9 510.5H60.8M58.9 507.8H60.8M58.9 505.1H60.8M58.9 502.5H60.8M118.3 537.9H120.2M118.3 535.9H120.2M118.3 533.9H120.2M118.3 531.9H120.2M118.3 527.9H120.2M118.3 525.9H120.2M118.3 523.9H120.2M118.3 521.9H120.2M118.3 517.8H120.2M118.3 515.8H120.2M118.3 513.8H120.2M118.3 511.8H120.2M118.3 507.8H120.2M118.3 505.8H120.2M118.3 503.8H120.2M118.3 501.8H120.2M58.9 591.9H60.8M58.9 590.2H60.8M58.9 588.4H60.8M58.9 586.6H60.8M58.9 583.1H60.8M58.9 581.3H60.8M58.9 579.5H60.8M58.9 577.8H60.8M58.9 574.2H60.8M58.9 572.5H60.8M58.9 570.7H60.8M58.9 568.9H60.8M58.9 565.4H60.8M58.9 563.6H60.8M58.9 561.8H60.8M58.9 560.1H60.8M118.3 592.2H120.2M118.3 590.8H120.2M118.3 589.3H120.2M118.3 587.8H120.2M118.3 584.9H120.2M118.3 583.4H120.2M118.3 582.0H120.2M118.3 580.5H120.2M118.3 577.6H120.2M118.3 576.1H120.2M118.3 574.6H120.2M118.3 573.1H120.2M118.3 570.2H120.2M118.3 568.7H120.2M118.3 567.3H120.2M118.3 565.8H120.2M118.3 562.9H120.2M118.3 561.4H120.2M118.3 559.9H120.2M118.3 558.5H120.2M58.9 646.0H60.8M58.9 643.8H60.8M58.9 641.5H60.8M58.9 639.2H60.8M58.9 634.7H60.8M58.9 632.4H60.8M58.9 630.2H60.8M58.9 627.9H60.8M58.9 623.4H60.8M58.9 621.1H60.8M58.9 618.8H60.8M58.9 616.6H60.8M118.3 646.1H120.2M118.3 643.9H120.2M118.3 641.8H120.2M118.3 639.6H120.2M118.3 635.2H120.2M118.3 633.0H120.2M118.3 630.9H120.2M118.3 628.7H120.2M118.3 624.3H120.2M118.3 622.1H120.2M118.3 620.0H120.2M118.3 617.8H120.2" stroke="#222" stroke-width="0.6" fill="none"/><path d="M75.8 59.3V62.0M80.2 59.3V62.0M89.9 59.3V62.0M99.6 59.3V62.0M109.0 59.3V62.0M136.1 59.3V62.0M140.5 59.3V62.0M150.2 59.3V62.0M159.9 59.3V62.0M169.3 59.3V62.0M75.8 114.0V116.7M80.2 114.0V116.7M89.9 114.0V116.7M99.6 114.0V116.7M109.0 114.0V116.7M136.1 114.0V116.7M140.5 114.0V116.7M150.2 114.0V116.7M159.9 114.0V116.7M169.3 114.0V116.7M75.8 168.2V170.9M80.2 168.2V170.9M89.9 168.2V170.9M99.6 168.2V170.9M109.0 168.2V170.9M136.1 168.2V170.9M140.5 168.2V170.9M150.2 168.2V170.9M159.9 168.2V170.9M169.3 168.2V170.9M75.8 222.7V225.4M80.2 222.7V225.4M89.9 222.7V225.4M99.6 222.7V225.4M109.0 222.7V225.4M136.1 222.7V225.4M140.5 222.7V225.4M150.2 222.7V225.4M159.9 222.7V225.4M169.3 222.7V225.4M218.0 58.9V61.6M222.4 58.9V61.6M232.1 58.9V61.6M241.8 58.9V61.6M251.2 58.9V61.6M272.3 58.9V61.6M276.7 58.9V61.6M286.4 58.9V61.6M296.1 58.9V61.6M305.5 58.9V61.6M218.0 113.1V115.8M222.4 113.1V115.8M232.1 113.1V115.8M241.8 113.1V115.8M251.2 113.1V115.8M272.3 113.1V115.8M276.7 113.1V115.8M286.4 113.1V115.8M296.1 113.1V115.8M305.5 113.1V115.8M218.0 167.2V169.9M222.4 167.2V169.9M232.1 167.2V169.9M241.8 167.2V169.9M251.2 167.2V169.9M272.3 167.2V169.9M276.7 167.2V169.9M286.4 167.2V169.9M296.1 167.2V169.9M305.5 167.2V169.9M218.0 221.6V224.3M222.4 221.6V224.3M232.1 221.6V224.3M241.8 221.6V224.3M251.2 221.6V224.3M272.3 221.6V224.3M276.7 221.6V224.3M286.4 221.6V224.3M296.1 221.6V224.3M305.5 221.6V224.3M64.3 484.6V487.3M68.7 484.6V487.3M78.4 484.6V487.3M88.1 484.6V487.3M97.5 484.6V487.3M123.7 484.6V487.3M128.1 484.6V487.3M137.8 484.6V487.3M147.5 484.6V487.3M156.9 484.6V487.3M64.3 540.4V543.1M68.7 540.4V543.1M78.4 540.4V543.1M88.1 540.4V543.1M97.5 540.4V543.1M123.7 540.4V543.1M128.1 540.4V543.1M137.8 540.4V543.1M147.5 540.4V543.1M156.9 540.4V543.1M64.3 594.2V596.9M68.7 594.2V596.9M78.4 594.2V596.9M88.1 594.2V596.9M97.5 594.2V596.9M123.7 594.2V596.9M128.1 594.2V596.9M137.8 594.2V596.9M147.5 594.2V596.9M156.9 594.2V596.9M64.3 648.8V651.5M68.7 648.8V651.5M78.4 648.8V651.5M88.1 648.8V651.5M97.5 648.8V651.5M123.7 648.8V651.5M128.1 648.8V651.5M137.8 648.8V651.5M147.5 648.8V651.5M156.9 648.8V651.5M207.2 484.3V487.0M211.6 484.3V487.0M221.3 484.3V487.0M231.0 484.3V487.0M240.4 484.3V487.0M262.4 484.3V487.0M266.8 484.3V487.0M276.5 484.3V487.0M286.2 484.3V487.0M295.6 484.3V487.0M207.2 539.9V542.6M211.6 539.9V542.6M221.3 539.9V542.6M231.0 539.9V542.6M240.4 539.9V542.6M262.4 539.9V542.6M266.8 539.9V542.6M276.5 539.9V542.6M286.2 539.9V542.6M295.6 539.9V542.6M207.2 593.8V596.5M211.6 593.8V596.5M221.3 593.8V596.5M231.0 593.8V596.5M240.4 593.8V596.5M262.4 593.8V596.5M266.8 593.8V596.5M276.5 593.8V596.5M286.2 593.8V596.5M295.6 593.8V596.5M207.2 647.9V650.6M211.6 647.9V650.6M221.3 647.9V650.6M231.0 647.9V650.6M240.4 647.9V650.6M262.4 647.9V650.6M266.8 647.9V650.6M276.5 647.9V650.6M286.2 647.9V650.6M295.6 647.9V650.6" stroke="#000" stroke-width="0.75" fill="none"/><path d="M83.1 59.3V61.3M84.8 59.3V61.3M86.0 59.3V61.3M87.0 59.3V61.3M87.7 59.3V61.3M88.4 59.3V61.3M89.0 59.3V61.3M89.5 59.3V61.3M92.8 59.3V61.3M94.5 59.3V61.3M95.7 59.3V61.3M96.7 59.3V61.3M97.4 59.3V61.3M98.1 59.3V61.3M98.7 59.3V61.3M99.2 59.3V61.3M102.4 59.3V61.3M104.1 59.3V61.3M105.3 59.3V61.3M106.2 59.3V61.3M106.9 59.3V61.3M107.5 59.3V61.3M108.1 59.3V61.3M108.6 59.3V61.3M73.5 59.3V61.3M74.6 59.3V61.3M76.9 59.3V61.3M78.0 59.3V61.3M79.1 59.3V61.3M111.9 59.3V61.3M143.4 59.3V61.3M145.1 59.3V61.3M146.3 59.3V61.3M147.3 59.3V61.3M148.0 59.3V61.3M148.7 59.3V61.3M149.3 59.3V61.3M149.8 59.3V61.3M153.1 59.3V61.3M154.8 59.3V61.3M156.0 59.3V61.3M157.0 59.3V61.3M157.7 59.3V61.3M158.4 59.3V61.3M159.0 59.3V61.3M159.5 59.3V61.3M162.7 59.3V61.3M164.4 59.3V61.3M165.6 59.3V61.3M166.5 59.3V61.3M167.2 59.3V61.3M167.8 59.3V61.3M168.4 59.3V61.3M168.9 59.3V61.3M133.8 59.3V61.3M134.9 59.3V61.3M137.2 59.3V61.3M138.3 59.3V61.3M139.4 59.3V61.3M172.2 59.3V61.3M83.1 114.0V116.0M84.8 114.0V116.0M86.0 114.0V116.0M87.0 114.0V116.0M87.7 114.0V116.0M88.4 114.0V116.0M89.0 114.0V116.0M89.5 114.0V116.0M92.8 114.0V116.0M94.5 114.0V116.0M95.7 114.0V116.0M96.7 114.0V116.0M97.4 114.0V116.0M98.1 114.0V116.0M98.7 114.0V116.0M99.2 114.0V116.0M102.4 114.0V116.0M104.1 114.0V116.0M105.3 114.0V116.0M106.2 114.0V116.0M106.9 114.0V116.0M107.5 114.0V116.0M108.1 114.0V116.0M108.6 114.0V116.0M73.5 114.0V116.0M74.6 114.0V116.0M76.9 114.0V116.0M78.0 114.0V116.0M79.1 114.0V116.0M111.9 114.0V116.0M143.4 114.0V116.0M145.1 114.0V116.0M146.3 114.0V116.0M147.3 114.0V116.0M148.0 114.0V116.0M148.7 114.0V116.0M149.3 114.0V116.0M149.8 114.0V116.0M153.1 114.0V116.0M154.8 114.0V116.0M156.0 114.0V116.0M157.0 114.0V116.0M157.7 114.0V116.0M158.4 114.0V116.0M159.0 114.0V116.0M159.5 114.0V116.0M162.7 114.0V116.0M164.4 114.0V116.0M165.6 114.0V116.0M166.5 114.0V116.0M167.2 114.0V116.0M167.8 114.0V116.0M168.4 114.0V116.0M168.9 114.0V116.0M133.8 114.0V116.0M134.9 114.0V116.0M137.2 114.0V116.0M138.3 114.0V116.0M139.4 114.0V116.0M172.2 114.0V116.0M83.1 168.2V170.2M84.8 168.2V170.2M86.0 168.2V170.2M87.0 168.2V170.2M87.7 168.2V170.2M88.4 168.2V170.2M89.0 168.2V170.2M89.5 168.2V170.2M92.8 168.2V170.2M94.5 168.2V170.2M95.7 168.2V170.2M96.7 168.2V170.2M97.4 168.2V170.2M98.1 168.2V170.2M98.7 168.2V170.2M99.2 168.2V170.2M102.4 168.2V170.2M104.1 168.2V170.2M105.3 168.2V170.2M106.2 168.2V170.2M106.9 168.2V170.2M107.5 168.2V170.2M108.1 168.2V170.2M108.6 168.2V170.2M73.5 168.2V170.2M74.6 168.2V170.2M76.9 168.2V170.2M78.0 168.2V170.2M79.1 168.2V170.2M111.9 168.2V170.2M143.4 168.2V170.2M145.1 168.2V170.2M146.3 168.2V170.2M147.3 168.2V170.2M148.0 168.2V170.2M148.7 168.2V170.2M149.3 168.2V170.2M149.8 168.2V170.2M153.1 168.2V170.2M154.8 168.2V170.2M156.0 168.2V170.2M157.0 168.2V170.2M157.7 168.2V170.2M158.4 168.2V170.2M159.0 168.2V170.2M159.5 168.2V170.2M162.7 168.2V170.2M164.4 168.2V170.2M165.6 168.2V170.2M166.5 168.2V170.2M167.2 168.2V170.2M167.8 168.2V170.2M168.4 168.2V170.2M168.9 168.2V170.2M133.8 168.2V170.2M134.9 168.2V170.2M137.2 168.2V170.2M138.3 168.2V170.2M139.4 168.2V170.2M172.2 168.2V170.2M83.1 222.7V224.7M84.8 222.7V224.7M86.0 222.7V224.7M87.0 222.7V224.7M87.7 222.7V224.7M88.4 222.7V224.7M89.0 222.7V224.7M89.5 222.7V224.7M92.8 222.7V224.7M94.5 222.7V224.7M95.7 222.7V224.7M96.7 222.7V224.7M97.4 222.7V224.7M98.1 222.7V224.7M98.7 222.7V224.7M99.2 222.7V224.7M102.4 222.7V224.7M104.1 222.7V224.7M105.3 222.7V224.7M106.2 222.7V224.7M106.9 222.7V224.7M107.5 222.7V224.7M108.1 222.7V224.7M108.6 222.7V224.7M73.5 222.7V224.7M74.6 222.7V224.7M76.9 222.7V224.7M78.0 222.7V224.7M79.1 222.7V224.7M111.9 222.7V224.7M143.4 222.7V224.7M145.1 222.7V224.7M146.3 222.7V224.7M147.3 222.7V224.7M148.0 222.7V224.7M148.7 222.7V224.7M149.3 222.7V224.7M149.8 222.7V224.7M153.1 222.7V224.7M154.8 222.7V224.7M156.0 222.7V224.7M157.0 222.7V224.7M157.7 222.7V224.7M158.4 222.7V224.7M159.0 222.7V224.7M159.5 222.7V224.7M162.7 222.7V224.7M164.4 222.7V224.7M165.6 222.7V224.7M166.5 222.7V224.7M167.2 222.7V224.7M167.8 222.7V224.7M168.4 222.7V224.7M168.9 222.7V224.7M133.8 222.7V224.7M134.9 222.7V224.7M137.2 222.7V224.7M138.3 222.7V224.7M139.4 222.7V224.7M172.2 222.7V224.7M212.4 47.8H214.5M212.4 46.3H214.5M212.4 45.1H214.5M212.4 44.3H214.5M212.4 43.6H214.5M212.4 43.0H214.5M212.4 42.5H214.5M212.4 42.0H214.5M212.4 38.8H214.5M212.4 37.2H214.5M212.4 36.0H214.5M212.4 35.1H214.5M212.4 34.4H214.5M212.4 33.7H214.5M212.4 33.2H214.5M212.4 32.7H214.5M212.4 29.5H214.5M212.4 27.9H214.5M212.4 26.7H214.5M212.4 25.8H214.5M212.4 25.1H214.5M212.4 24.4H214.5M212.4 23.9H214.5M212.4 23.4H214.5M212.4 51.6H214.5M212.4 52.7H214.5M212.4 53.8H214.5M212.4 54.9H214.5M212.4 56.0H214.5M212.4 57.1H214.5M212.4 58.2H214.5M212.4 20.2H214.5M225.3 58.9V60.9M227.0 58.9V60.9M228.2 58.9V60.9M229.2 58.9V60.9M229.9 58.9V60.9M230.6 58.9V60.9M231.2 58.9V60.9M231.7 58.9V60.9M235.0 58.9V60.9M236.7 58.9V60.9M237.9 58.9V60.9M238.9 58.9V60.9M239.6 58.9V60.9M240.3 58.9V60.9M240.9 58.9V60.9M241.4 58.9V60.9M244.6 58.9V60.9M246.3 58.9V60.9M247.5 58.9V60.9M248.4 58.9V60.9M249.1 58.9V60.9M249.7 58.9V60.9M250.3 58.9V60.9M250.8 58.9V60.9M215.7 58.9V60.9M216.8 58.9V60.9M219.1 58.9V60.9M220.2 58.9V60.9M221.3 58.9V60.9M254.1 58.9V60.9M266.7 47.8H268.8M266.7 46.3H268.8M266.7 45.1H268.8M266.7 44.3H268.8M266.7 43.6H268.8M266.7 43.0H268.8M266.7 42.5H268.8M266.7 42.0H268.8M266.7 38.8H268.8M266.7 37.2H268.8M266.7 36.0H268.8M266.7 35.1H268.8M266.7 34.4H268.8M266.7 33.7H268.8M266.7 33.2H268.8M266.7 32.7H268.8M266.7 29.5H268.8M266.7 27.9H268.8M266.7 26.7H268.8M266.7 25.8H268.8M266.7 25.1H268.8M266.7 24.4H268.8M266.7 23.9H268.8M266.7 23.4H268.8M266.7 51.6H268.8M266.7 52.7H268.8M266.7 53.8H268.8M266.7 54.9H268.8M266.7 56.0H268.8M266.7 57.1H268.8M266.7 58.2H268.8M266.7 20.2H268.8M279.6 58.9V60.9M281.3 58.9V60.9M282.5 58.9V60.9M283.5 58.9V60.9M284.2 58.9V60.9M284.9 58.9V60.9M285.5 58.9V60.9M286.0 58.9V60.9M289.3 58.9V60.9M291.0 58.9V60.9M292.2 58.9V60.9M293.2 58.9V60.9M293.9 58.9V60.9M294.6 58.9V60.9M295.2 58.9V60.9M295.7 58.9V60.9M298.9 58.9V60.9M300.6 58.9V60.9M301.8 58.9V60.9M302.7 58.9V60.9M303.4 58.9V60.9M304.0 58.9V60.9M304.6 58.9V60.9M305.1 58.9V60.9M270.0 58.9V60.9M271.1 58.9V60.9M273.4 58.9V60.9M274.5 58.9V60.9M275.6 58.9V60.9M308.4 58.9V60.9M310.0 58.9V60.9M212.4 102.0H214.5M212.4 100.5H214.5M212.4 99.3H214.5M212.4 98.5H214.5M212.4 97.8H214.5M212.4 97.2H214.5M212.4 96.7H214.5M212.4 96.2H214.5M212.4 93.0H214.5M212.4 91.4H214.5M212.4 90.2H214.5M212.4 89.3H214.5M212.4 88.6H214.5M212.4 87.9H214.5M212.4 87.4H214.5M212.4 86.9H214.5M212.4 83.7H214.5M212.4 82.1H214.5M212.4 80.9H214.5M212.4 80.0H214.5M212.4 79.3H214.5M212.4 78.6H214.5M212.4 78.1H214.5M212.4 77.6H214.5M212.4 105.8H214.5M212.4 106.9H214.5M212.4 108.0H214.5M212.4 109.1H214.5M212.4 110.2H214.5M212.4 111.3H214.5M212.4 112.4H214.5M212.4 74.4H214.5M225.3 113.1V115.1M227.0 113.1V115.1M228.2 113.1V115.1M229.2 113.1V115.1M229.9 113.1V115.1M230.6 113.1V115.1M231.2 113.1V115.1M231.7 113.1V115.1M235.0 113.1V115.1M236.7 113.1V115.1M237.9 113.1V115.1M238.9 113.1V115.1M239.6 113.1V115.1M240.3 113.1V115.1M240.9 113.1V115.1M241.4 113.1V115.1M244.6 113.1V115.1M246.3 113.1V115.1M247.5 113.1V115.1M248.4 113.1V115.1M249.1 113.1V115.1M249.7 113.1V115.1M250.3 113.1V115.1M250.8 113.1V115.1M215.7 113.1V115.1M216.8 113.1V115.1M219.1 113.1V115.1M220.2 113.1V115.1M221.3 113.1V115.1M254.1 113.1V115.1M266.7 102.0H268.8M266.7 100.5H268.8M266.7 99.3H268.8M266.7 98.5H268.8M266.7 97.8H268.8M266.7 97.2H268.8M266.7 96.7H268.8M266.7 96.2H268.8M266.7 93.0H268.8M266.7 91.4H268.8M266.7 90.2H268.8M266.7 89.3H268.8M266.7 88.6H268.8M266.7 87.9H268.8M266.7 87.4H268.8M266.7 86.9H268.8M266.7 83.7H268.8M266.7 82.1H268.8M266.7 80.9H268.8M266.7 80.0H268.8M266.7 79.3H268.8M266.7 78.6H268.8M266.7 78.1H268.8M266.7 77.6H268.8M266.7 105.8H268.8M266.7 106.9H268.8M266.7 108.0H268.8M266.7 109.1H268.8M266.7 110.2H268.8M266.7 111.3H268.8M266.7 112.4H268.8M266.7 74.4H268.8M279.6 113.1V115.1M281.3 113.1V115.1M282.5 113.1V115.1M283.5 113.1V115.1M284.2 113.1V115.1M284.9 113.1V115.1M285.5 113.1V115.1M286.0 113.1V115.1M289.3 113.1V115.1M291.0 113.1V115.1M292.2 113.1V115.1M293.2 113.1V115.1M293.9 113.1V115.1M294.6 113.1V115.1M295.2 113.1V115.1M295.7 113.1V115.1M298.9 113.1V115.1M300.6 113.1V115.1M301.8 113.1V115.1M302.7 113.1V115.1M303.4 113.1V115.1M304.0 113.1V115.1M304.6 113.1V115.1M305.1 113.1V115.1M270.0 113.1V115.1M271.1 113.1V115.1M273.4 113.1V115.1M274.5 113.1V115.1M275.6 113.1V115.1M308.4 113.1V115.1M310.0 113.1V115.1M212.4 156.1H214.5M212.4 154.6H214.5M212.4 153.4H214.5M212.4 152.6H214.5M212.4 151.9H214.5M212.4 151.3H214.5M212.4 150.8H214.5M212.4 150.3H214.5M212.4 147.1H214.5M212.4 145.5H214.5M212.4 144.3H214.5M212.4 143.4H214.5M212.4 142.7H214.5M212.4 142.0H214.5M212.4 141.5H214.5M212.4 141.0H214.5M212.4 137.8H214.5M212.4 136.2H214.5M212.4 135.0H214.5M212.4 134.1H214.5M212.4 133.4H214.5M212.4 132.7H214.5M212.4 132.2H214.5M212.4 131.7H214.5M212.4 159.9H214.5M212.4 161.0H214.5M212.4 162.1H214.5M212.4 163.2H214.5M212.4 164.3H214.5M212.4 165.4H214.5M212.4 166.5H214.5M212.4 128.5H214.5M225.3 167.2V169.2M227.0 167.2V169.2M228.2 167.2V169.2M229.2 167.2V169.2M229.9 167.2V169.2M230.6 167.2V169.2M231.2 167.2V169.2M231.7 167.2V169.2M235.0 167.2V169.2M236.7 167.2V169.2M237.9 167.2V169.2M238.9 167.2V169.2M239.6 167.2V169.2M240.3 167.2V169.2M240.9 167.2V169.2M241.4 167.2V169.2M244.6 167.2V169.2M246.3 167.2V169.2M247.5 167.2V169.2M248.4 167.2V169.2M249.1 167.2V169.2M249.7 167.2V169.2M250.3 167.2V169.2M250.8 167.2V169.2M215.7 167.2V169.2M216.8 167.2V169.2M219.1 167.2V169.2M220.2 167.2V169.2M221.3 167.2V169.2M254.1 167.2V169.2M266.7 156.1H268.8M266.7 154.6H268.8M266.7 153.4H268.8M266.7 152.6H268.8M266.7 151.9H268.8M266.7 151.3H268.8M266.7 150.8H268.8M266.7 150.3H268.8M266.7 147.1H268.8M266.7 145.5H268.8M266.7 144.3H268.8M266.7 143.4H268.8M266.7 142.7H268.8M266.7 142.0H268.8M266.7 141.5H268.8M266.7 141.0H268.8M266.7 137.8H268.8M266.7 136.2H268.8M266.7 135.0H268.8M266.7 134.1H268.8M266.7 133.4H268.8M266.7 132.7H268.8M266.7 132.2H268.8M266.7 131.7H268.8M266.7 159.9H268.8M266.7 161.0H268.8M266.7 162.1H268.8M266.7 163.2H268.8M266.7 164.3H268.8M266.7 165.4H268.8M266.7 166.5H268.8M266.7 128.5H268.8M279.6 167.2V169.2M281.3 167.2V169.2M282.5 167.2V169.2M283.5 167.2V169.2M284.2 167.2V169.2M284.9 167.2V169.2M285.5 167.2V169.2M286.0 167.2V169.2M289.3 167.2V169.2M291.0 167.2V169.2M292.2 167.2V169.2M293.2 167.2V169.2M293.9 167.2V169.2M294.6 167.2V169.2M295.2 167.2V169.2M295.7 167.2V169.2M298.9 167.2V169.2M300.6 167.2V169.2M301.8 167.2V169.2M302.7 167.2V169.2M303.4 167.2V169.2M304.0 167.2V169.2M304.6 167.2V169.2M305.1 167.2V169.2M270.0 167.2V169.2M271.1 167.2V169.2M273.4 167.2V169.2M274.5 167.2V169.2M275.6 167.2V169.2M308.4 167.2V169.2M310.0 167.2V169.2M212.4 210.5H214.5M212.4 209.0H214.5M212.4 207.8H214.5M212.4 207.0H214.5M212.4 206.3H214.5M212.4 205.7H214.5M212.4 205.2H214.5M212.4 204.7H214.5M212.4 201.5H214.5M212.4 199.9H214.5M212.4 198.7H214.5M212.4 197.8H214.5M212.4 197.1H214.5M212.4 196.4H214.5M212.4 195.9H214.5M212.4 195.4H214.5M212.4 192.2H214.5M212.4 190.6H214.5M212.4 189.4H214.5M212.4 188.5H214.5M212.4 187.8H214.5M212.4 187.1H214.5M212.4 186.6H214.5M212.4 186.1H214.5M212.4 214.3H214.5M212.4 215.4H214.5M212.4 216.5H214.5M212.4 217.6H214.5M212.4 218.7H214.5M212.4 219.8H214.5M212.4 220.9H214.5M212.4 182.9H214.5M225.3 221.6V223.6M227.0 221.6V223.6M228.2 221.6V223.6M229.2 221.6V223.6M229.9 221.6V223.6M230.6 221.6V223.6M231.2 221.6V223.6M231.7 221.6V223.6M235.0 221.6V223.6M236.7 221.6V223.6M237.9 221.6V223.6M238.9 221.6V223.6M239.6 221.6V223.6M240.3 221.6V223.6M240.9 221.6V223.6M241.4 221.6V223.6M244.6 221.6V223.6M246.3 221.6V223.6M247.5 221.6V223.6M248.4 221.6V223.6M249.1 221.6V223.6M249.7 221.6V223.6M250.3 221.6V223.6M250.8 221.6V223.6M215.7 221.6V223.6M216.8 221.6V223.6M219.1 221.6V223.6M220.2 221.6V223.6M221.3 221.6V223.6M254.1 221.6V223.6M266.7 210.5H268.8M266.7 209.0H268.8M266.7 207.8H268.8M266.7 207.0H268.8M266.7 206.3H268.8M266.7 205.7H268.8M266.7 205.2H268.8M266.7 204.7H268.8M266.7 201.5H268.8M266.7 199.9H268.8M266.7 198.7H268.8M266.7 197.8H268.8M266.7 197.1H268.8M266.7 196.4H268.8M266.7 195.9H268.8M266.7 195.4H268.8M266.7 192.2H268.8M266.7 190.6H268.8M266.7 189.4H268.8M266.7 188.5H268.8M266.7 187.8H268.8M266.7 187.1H268.8M266.7 186.6H268.8M266.7 186.1H268.8M266.7 214.3H268.8M266.7 215.4H268.8M266.7 216.5H268.8M266.7 217.6H268.8M266.7 218.7H268.8M266.7 219.8H268.8M266.7 220.9H268.8M266.7 182.9H268.8M279.6 221.6V223.6M281.3 221.6V223.6M282.5 221.6V223.6M283.5 221.6V223.6M284.2 221.6V223.6M284.9 221.6V223.6M285.5 221.6V223.6M286.0 221.6V223.6M289.3 221.6V223.6M291.0 221.6V223.6M292.2 221.6V223.6M293.2 221.6V223.6M293.9 221.6V223.6M294.6 221.6V223.6M295.2 221.6V223.6M295.7 221.6V223.6M298.9 221.6V223.6M300.6 221.6V223.6M301.8 221.6V223.6M302.7 221.6V223.6M303.4 221.6V223.6M304.0 221.6V223.6M304.6 221.6V223.6M305.1 221.6V223.6M270.0 221.6V223.6M271.1 221.6V223.6M273.4 221.6V223.6M274.5 221.6V223.6M275.6 221.6V223.6M308.4 221.6V223.6M310.0 221.6V223.6M71.6 484.6V486.6M73.3 484.6V486.6M74.5 484.6V486.6M75.5 484.6V486.6M76.2 484.6V486.6M76.9 484.6V486.6M77.5 484.6V486.6M78.0 484.6V486.6M81.3 484.6V486.6M83.0 484.6V486.6M84.2 484.6V486.6M85.2 484.6V486.6M85.9 484.6V486.6M86.6 484.6V486.6M87.2 484.6V486.6M87.7 484.6V486.6M90.9 484.6V486.6M92.6 484.6V486.6M93.8 484.6V486.6M94.7 484.6V486.6M95.4 484.6V486.6M96.0 484.6V486.6M96.6 484.6V486.6M97.1 484.6V486.6M62.0 484.6V486.6M63.1 484.6V486.6M65.4 484.6V486.6M66.5 484.6V486.6M67.6 484.6V486.6M100.4 484.6V486.6M131.0 484.6V486.6M132.7 484.6V486.6M133.9 484.6V486.6M134.9 484.6V486.6M135.6 484.6V486.6M136.3 484.6V486.6M136.9 484.6V486.6M137.4 484.6V486.6M140.7 484.6V486.6M142.4 484.6V486.6M143.6 484.6V486.6M144.6 484.6V486.6M145.3 484.6V486.6M146.0 484.6V486.6M146.6 484.6V486.6M147.1 484.6V486.6M150.3 484.6V486.6M152.0 484.6V486.6M153.2 484.6V486.6M154.1 484.6V486.6M154.8 484.6V486.6M155.4 484.6V486.6M156.0 484.6V486.6M156.5 484.6V486.6M121.4 484.6V486.6M122.5 484.6V486.6M124.8 484.6V486.6M125.9 484.6V486.6M127.0 484.6V486.6M159.8 484.6V486.6M71.6 540.4V542.4M73.3 540.4V542.4M74.5 540.4V542.4M75.5 540.4V542.4M76.2 540.4V542.4M76.9 540.4V542.4M77.5 540.4V542.4M78.0 540.4V542.4M81.3 540.4V542.4M83.0 540.4V542.4M84.2 540.4V542.4M85.2 540.4V542.4M85.9 540.4V542.4M86.6 540.4V542.4M87.2 540.4V542.4M87.7 540.4V542.4M90.9 540.4V542.4M92.6 540.4V542.4M93.8 540.4V542.4M94.7 540.4V542.4M95.4 540.4V542.4M96.0 540.4V542.4M96.6 540.4V542.4M97.1 540.4V542.4M62.0 540.4V542.4M63.1 540.4V542.4M65.4 540.4V542.4M66.5 540.4V542.4M67.6 540.4V542.4M100.4 540.4V542.4M131.0 540.4V542.4M132.7 540.4V542.4M133.9 540.4V542.4M134.9 540.4V542.4M135.6 540.4V542.4M136.3 540.4V542.4M136.9 540.4V542.4M137.4 540.4V542.4M140.7 540.4V542.4M142.4 540.4V542.4M143.6 540.4V542.4M144.6 540.4V542.4M145.3 540.4V542.4M146.0 540.4V542.4M146.6 540.4V542.4M147.1 540.4V542.4M150.3 540.4V542.4M152.0 540.4V542.4M153.2 540.4V542.4M154.1 540.4V542.4M154.8 540.4V542.4M155.4 540.4V542.4M156.0 540.4V542.4M156.5 540.4V542.4M121.4 540.4V542.4M122.5 540.4V542.4M124.8 540.4V542.4M125.9 540.4V542.4M127.0 540.4V542.4M159.8 540.4V542.4M71.6 594.2V596.2M73.3 594.2V596.2M74.5 594.2V596.2M75.5 594.2V596.2M76.2 594.2V596.2M76.9 594.2V596.2M77.5 594.2V596.2M78.0 594.2V596.2M81.3 594.2V596.2M83.0 594.2V596.2M84.2 594.2V596.2M85.2 594.2V596.2M85.9 594.2V596.2M86.6 594.2V596.2M87.2 594.2V596.2M87.7 594.2V596.2M90.9 594.2V596.2M92.6 594.2V596.2M93.8 594.2V596.2M94.7 594.2V596.2M95.4 594.2V596.2M96.0 594.2V596.2M96.6 594.2V596.2M97.1 594.2V596.2M62.0 594.2V596.2M63.1 594.2V596.2M65.4 594.2V596.2M66.5 594.2V596.2M67.6 594.2V596.2M100.4 594.2V596.2M131.0 594.2V596.2M132.7 594.2V596.2M133.9 594.2V596.2M134.9 594.2V596.2M135.6 594.2V596.2M136.3 594.2V596.2M136.9 594.2V596.2M137.4 594.2V596.2M140.7 594.2V596.2M142.4 594.2V596.2M143.6 594.2V596.2M144.6 594.2V596.2M145.3 594.2V596.2M146.0 594.2V596.2M146.6 594.2V596.2M147.1 594.2V596.2M150.3 594.2V596.2M152.0 594.2V596.2M153.2 594.2V596.2M154.1 594.2V596.2M154.8 594.2V596.2M155.4 594.2V596.2M156.0 594.2V596.2M156.5 594.2V596.2M121.4 594.2V596.2M122.5 594.2V596.2M124.8 594.2V596.2M125.9 594.2V596.2M127.0 594.2V596.2M159.8 594.2V596.2M71.6 648.8V650.8M73.3 648.8V650.8M74.5 648.8V650.8M75.5 648.8V650.8M76.2 648.8V650.8M76.9 648.8V650.8M77.5 648.8V650.8M78.0 648.8V650.8M81.3 648.8V650.8M83.0 648.8V650.8M84.2 648.8V650.8M85.2 648.8V650.8M85.9 648.8V650.8M86.6 648.8V650.8M87.2 648.8V650.8M87.7 648.8V650.8M90.9 648.8V650.8M92.6 648.8V650.8M93.8 648.8V650.8M94.7 648.8V650.8M95.4 648.8V650.8M96.0 648.8V650.8M96.6 648.8V650.8M97.1 648.8V650.8M62.0 648.8V650.8M63.1 648.8V650.8M65.4 648.8V650.8M66.5 648.8V650.8M67.6 648.8V650.8M100.4 648.8V650.8M131.0 648.8V650.8M132.7 648.8V650.8M133.9 648.8V650.8M134.9 648.8V650.8M135.6 648.8V650.8M136.3 648.8V650.8M136.9 648.8V650.8M137.4 648.8V650.8M140.7 648.8V650.8M142.4 648.8V650.8M143.6 648.8V650.8M144.6 648.8V650.8M145.3 648.8V650.8M146.0 648.8V650.8M146.6 648.8V650.8M147.1 648.8V650.8M150.3 648.8V650.8M152.0 648.8V650.8M153.2 648.8V650.8M154.1 648.8V650.8M154.8 648.8V650.8M155.4 648.8V650.8M156.0 648.8V650.8M156.5 648.8V650.8M121.4 648.8V650.8M122.5 648.8V650.8M124.8 648.8V650.8M125.9 648.8V650.8M127.0 648.8V650.8M159.8 648.8V650.8M201.6 472.8H203.7M201.6 471.3H203.7M201.6 470.1H203.7M201.6 469.3H203.7M201.6 468.6H203.7M201.6 468.0H203.7M201.6 467.5H203.7M201.6 467.0H203.7M201.6 463.8H203.7M201.6 462.2H203.7M201.6 461.0H203.7M201.6 460.1H203.7M201.6 459.4H203.7M201.6 458.7H203.7M201.6 458.2H203.7M201.6 457.7H203.7M201.6 454.5H203.7M201.6 452.9H203.7M201.6 451.7H203.7M201.6 450.8H203.7M201.6 450.1H203.7M201.6 449.4H203.7M201.6 448.9H203.7M201.6 448.4H203.7M201.6 476.6H203.7M201.6 477.7H203.7M201.6 478.8H203.7M201.6 479.9H203.7M201.6 481.0H203.7M201.6 482.1H203.7M201.6 483.2H203.7M201.6 445.2H203.7M214.5 484.3V486.3M216.2 484.3V486.3M217.4 484.3V486.3M218.4 484.3V486.3M219.1 484.3V486.3M219.8 484.3V486.3M220.4 484.3V486.3M220.9 484.3V486.3M224.2 484.3V486.3M225.9 484.3V486.3M227.1 484.3V486.3M228.1 484.3V486.3M228.8 484.3V486.3M229.5 484.3V486.3M230.1 484.3V486.3M230.6 484.3V486.3M233.8 484.3V486.3M235.5 484.3V486.3M236.7 484.3V486.3M237.6 484.3V486.3M238.3 484.3V486.3M238.9 484.3V486.3M239.5 484.3V486.3M240.0 484.3V486.3M204.9 484.3V486.3M206.0 484.3V486.3M208.3 484.3V486.3M209.4 484.3V486.3M210.5 484.3V486.3M243.3 484.3V486.3M256.8 472.8H258.9M256.8 471.3H258.9M256.8 470.1H258.9M256.8 469.3H258.9M256.8 468.6H258.9M256.8 468.0H258.9M256.8 467.5H258.9M256.8 467.0H258.9M256.8 463.8H258.9M256.8 462.2H258.9M256.8 461.0H258.9M256.8 460.1H258.9M256.8 459.4H258.9M256.8 458.7H258.9M256.8 458.2H258.9M256.8 457.7H258.9M256.8 454.5H258.9M256.8 452.9H258.9M256.8 451.7H258.9M256.8 450.8H258.9M256.8 450.1H258.9M256.8 449.4H258.9M256.8 448.9H258.9M256.8 448.4H258.9M256.8 476.6H258.9M256.8 477.7H258.9M256.8 478.8H258.9M256.8 479.9H258.9M256.8 481.0H258.9M256.8 482.1H258.9M256.8 483.2H258.9M256.8 445.2H258.9M269.7 484.3V486.3M271.4 484.3V486.3M272.6 484.3V486.3M273.6 484.3V486.3M274.3 484.3V486.3M275.0 484.3V486.3M275.6 484.3V486.3M276.1 484.3V486.3M279.4 484.3V486.3M281.1 484.3V486.3M282.3 484.3V486.3M283.3 484.3V486.3M284.0 484.3V486.3M284.7 484.3V486.3M285.3 484.3V486.3M285.8 484.3V486.3M289.0 484.3V486.3M290.7 484.3V486.3M291.9 484.3V486.3M292.8 484.3V486.3M293.5 484.3V486.3M294.1 484.3V486.3M294.7 484.3V486.3M295.2 484.3V486.3M260.1 484.3V486.3M261.2 484.3V486.3M263.5 484.3V486.3M264.6 484.3V486.3M265.7 484.3V486.3M298.5 484.3V486.3M201.6 528.4H203.7M201.6 526.9H203.7M201.6 525.7H203.7M201.6 524.9H203.7M201.6 524.2H203.7M201.6 523.6H203.7M201.6 523.1H203.7M201.6 522.6H203.7M201.6 519.4H203.7M201.6 517.8H203.7M201.6 516.6H203.7M201.6 515.7H203.7M201.6 515.0H203.7M201.6 514.3H203.7M201.6 513.8H203.7M201.6 513.3H203.7M201.6 510.1H203.7M201.6 508.5H203.7M201.6 507.3H203.7M201.6 506.4H203.7M201.6 505.7H203.7M201.6 505.0H203.7M201.6 504.5H203.7M201.6 504.0H203.7M201.6 532.2H203.7M201.6 533.3H203.7M201.6 534.4H203.7M201.6 535.5H203.7M201.6 536.6H203.7M201.6 537.7H203.7M201.6 538.8H203.7M201.6 500.8H203.7M214.5 539.9V541.9M216.2 539.9V541.9M217.4 539.9V541.9M218.4 539.9V541.9M219.1 539.9V541.9M219.8 539.9V541.9M220.4 539.9V541.9M220.9 539.9V541.9M224.2 539.9V541.9M225.9 539.9V541.9M227.1 539.9V541.9M228.1 539.9V541.9M228.8 539.9V541.9M229.5 539.9V541.9M230.1 539.9V541.9M230.6 539.9V541.9M233.8 539.9V541.9M235.5 539.9V541.9M236.7 539.9V541.9M237.6 539.9V541.9M238.3 539.9V541.9M238.9 539.9V541.9M239.5 539.9V541.9M240.0 539.9V541.9M204.9 539.9V541.9M206.0 539.9V541.9M208.3 539.9V541.9M209.4 539.9V541.9M210.5 539.9V541.9M243.3 539.9V541.9M256.8 528.4H258.9M256.8 526.9H258.9M256.8 525.7H258.9M256.8 524.9H258.9M256.8 524.2H258.9M256.8 523.6H258.9M256.8 523.1H258.9M256.8 522.6H258.9M256.8 519.4H258.9M256.8 517.8H258.9M256.8 516.6H258.9M256.8 515.7H258.9M256.8 515.0H258.9M256.8 514.3H258.9M256.8 513.8H258.9M256.8 513.3H258.9M256.8 510.1H258.9M256.8 508.5H258.9M256.8 507.3H258.9M256.8 506.4H258.9M256.8 505.7H258.9M256.8 505.0H258.9M256.8 504.5H258.9M256.8 504.0H258.9M256.8 532.2H258.9M256.8 533.3H258.9M256.8 534.4H258.9M256.8 535.5H258.9M256.8 536.6H258.9M256.8 537.7H258.9M256.8 538.8H258.9M256.8 500.8H258.9M269.7 539.9V541.9M271.4 539.9V541.9M272.6 539.9V541.9M273.6 539.9V541.9M274.3 539.9V541.9M275.0 539.9V541.9M275.6 539.9V541.9M276.1 539.9V541.9M279.4 539.9V541.9M281.1 539.9V541.9M282.3 539.9V541.9M283.3 539.9V541.9M284.0 539.9V541.9M284.7 539.9V541.9M285.3 539.9V541.9M285.8 539.9V541.9M289.0 539.9V541.9M290.7 539.9V541.9M291.9 539.9V541.9M292.8 539.9V541.9M293.5 539.9V541.9M294.1 539.9V541.9M294.7 539.9V541.9M295.2 539.9V541.9M260.1 539.9V541.9M261.2 539.9V541.9M263.5 539.9V541.9M264.6 539.9V541.9M265.7 539.9V541.9M298.5 539.9V541.9M201.6 582.3H203.7M201.6 580.8H203.7M201.6 579.6H203.7M201.6 578.8H203.7M201.6 578.1H203.7M201.6 577.5H203.7M201.6 577.0H203.7M201.6 576.5H203.7M201.6 573.3H203.7M201.6 571.7H203.7M201.6 570.5H203.7M201.6 569.6H203.7M201.6 568.9H203.7M201.6 568.2H203.7M201.6 567.7H203.7M201.6 567.2H203.7M201.6 564.0H203.7M201.6 562.4H203.7M201.6 561.2H203.7M201.6 560.3H203.7M201.6 559.6H203.7M201.6 558.9H203.7M201.6 558.4H203.7M201.6 557.9H203.7M201.6 586.1H203.7M201.6 587.2H203.7M201.6 588.3H203.7M201.6 589.4H203.7M201.6 590.5H203.7M201.6 591.6H203.7M201.6 592.7H203.7M201.6 554.7H203.7M214.5 593.8V595.8M216.2 593.8V595.8M217.4 593.8V595.8M218.4 593.8V595.8M219.1 593.8V595.8M219.8 593.8V595.8M220.4 593.8V595.8M220.9 593.8V595.8M224.2 593.8V595.8M225.9 593.8V595.8M227.1 593.8V595.8M228.1 593.8V595.8M228.8 593.8V595.8M229.5 593.8V595.8M230.1 593.8V595.8M230.6 593.8V595.8M233.8 593.8V595.8M235.5 593.8V595.8M236.7 593.8V595.8M237.6 593.8V595.8M238.3 593.8V595.8M238.9 593.8V595.8M239.5 593.8V595.8M240.0 593.8V595.8M204.9 593.8V595.8M206.0 593.8V595.8M208.3 593.8V595.8M209.4 593.8V595.8M210.5 593.8V595.8M243.3 593.8V595.8M256.8 582.3H258.9M256.8 580.8H258.9M256.8 579.6H258.9M256.8 578.8H258.9M256.8 578.1H258.9M256.8 577.5H258.9M256.8 577.0H258.9M256.8 576.5H258.9M256.8 573.3H258.9M256.8 571.7H258.9M256.8 570.5H258.9M256.8 569.6H258.9M256.8 568.9H258.9M256.8 568.2H258.9M256.8 567.7H258.9M256.8 567.2H258.9M256.8 564.0H258.9M256.8 562.4H258.9M256.8 561.2H258.9M256.8 560.3H258.9M256.8 559.6H258.9M256.8 558.9H258.9M256.8 558.4H258.9M256.8 557.9H258.9M256.8 586.1H258.9M256.8 587.2H258.9M256.8 588.3H258.9M256.8 589.4H258.9M256.8 590.5H258.9M256.8 591.6H258.9M256.8 592.7H258.9M256.8 554.7H258.9M269.7 593.8V595.8M271.4 593.8V595.8M272.6 593.8V595.8M273.6 593.8V595.8M274.3 593.8V595.8M275.0 593.8V595.8M275.6 593.8V595.8M276.1 593.8V595.8M279.4 593.8V595.8M281.1 593.8V595.8M282.3 593.8V595.8M283.3 593.8V595.8M284.0 593.8V595.8M284.7 593.8V595.8M285.3 593.8V595.8M285.8 593.8V595.8M289.0 593.8V595.8M290.7 593.8V595.8M291.9 593.8V595.8M292.8 593.8V595.8M293.5 593.8V595.8M294.1 593.8V595.8M294.7 593.8V595.8M295.2 593.8V595.8M260.1 593.8V595.8M261.2 593.8V595.8M263.5 593.8V595.8M264.6 593.8V595.8M265.7 593.8V595.8M298.5 593.8V595.8M201.6 636.4H203.7M201.6 634.9H203.7M201.6 633.7H203.7M201.6 632.9H203.7M201.6 632.2H203.7M201.6 631.6H203.7M201.6 631.1H203.7M201.6 630.6H203.7M201.6 627.4H203.7M201.6 625.8H203.7M201.6 624.6H203.7M201.6 623.7H203.7M201.6 623.0H203.7M201.6 622.3H203.7M201.6 621.8H203.7M201.6 621.3H203.7M201.6 618.1H203.7M201.6 616.5H203.7M201.6 615.3H203.7M201.6 614.4H203.7M201.6 613.7H203.7M201.6 613.0H203.7M201.6 612.5H203.7M201.6 612.0H203.7M201.6 640.2H203.7M201.6 641.3H203.7M201.6 642.4H203.7M201.6 643.5H203.7M201.6 644.6H203.7M201.6 645.7H203.7M201.6 646.8H203.7M201.6 608.8H203.7M214.5 647.9V649.9M216.2 647.9V649.9M217.4 647.9V649.9M218.4 647.9V649.9M219.1 647.9V649.9M219.8 647.9V649.9M220.4 647.9V649.9M220.9 647.9V649.9M224.2 647.9V649.9M225.9 647.9V649.9M227.1 647.9V649.9M228.1 647.9V649.9M228.8 647.9V649.9M229.5 647.9V649.9M230.1 647.9V649.9M230.6 647.9V649.9M233.8 647.9V649.9M235.5 647.9V649.9M236.7 647.9V649.9M237.6 647.9V649.9M238.3 647.9V649.9M238.9 647.9V649.9M239.5 647.9V649.9M240.0 647.9V649.9M204.9 647.9V649.9M206.0 647.9V649.9M208.3 647.9V649.9M209.4 647.9V649.9M210.5 647.9V649.9M243.3 647.9V649.9M256.8 636.4H258.9M256.8 634.9H258.9M256.8 633.7H258.9M256.8 632.9H258.9M256.8 632.2H258.9M256.8 631.6H258.9M256.8 631.1H258.9M256.8 630.6H258.9M256.8 627.4H258.9M256.8 625.8H258.9M256.8 624.6H258.9M256.8 623.7H258.9M256.8 623.0H258.9M256.8 622.3H258.9M256.8 621.8H258.9M256.8 621.3H258.9M256.8 618.1H258.9M256.8 616.5H258.9M256.8 615.3H258.9M256.8 614.4H258.9M256.8 613.7H258.9M256.8 613.0H258.9M256.8 612.5H258.9M256.8 612.0H258.9M256.8 640.2H258.9M256.8 641.3H258.9M256.8 642.4H258.9M256.8 643.5H258.9M256.8 644.6H258.9M256.8 645.7H258.9M256.8 646.8H258.9M256.8 608.8H258.9M269.7 647.9V649.9M271.4 647.9V649.9M272.6 647.9V649.9M273.6 647.9V649.9M274.3 647.9V649.9M275.0 647.9V649.9M275.6 647.9V649.9M276.1 647.9V649.9M279.4 647.9V649.9M281.1 647.9V649.9M282.3 647.9V649.9M283.3 647.9V649.9M284.0 647.9V649.9M284.7 647.9V649.9M285.3 647.9V649.9M285.8 647.9V649.9M289.0 647.9V649.9M290.7 647.9V649.9M291.9 647.9V649.9M292.8 647.9V649.9M293.5 647.9V649.9M294.1 647.9V649.9M294.7 647.9V649.9M295.2 647.9V649.9M260.1 647.9V649.9M261.2 647.9V649.9M263.5 647.9V649.9M264.6 647.9V649.9M265.7 647.9V649.9M298.5 647.9V649.9" stroke="#111" stroke-width="0.6" fill="none"/><path d="M211.3 23.0H214.5M211.3 32.3H214.5M211.3 41.6H214.5M211.3 50.5H214.5M265.6 23.0H268.8M265.6 32.3H268.8M265.6 41.6H268.8M265.6 50.5H268.8M211.3 77.2H214.5M211.3 86.5H214.5M211.3 95.8H214.5M211.3 104.7H214.5M265.6 77.2H268.8M265.6 86.5H268.8M265.6 95.8H268.8M265.6 104.7H268.8M211.3 131.3H214.5M211.3 140.6H214.5M211.3 149.9H214.5M211.3 158.8H214.5M265.6 131.3H268.8M265.6 140.6H268.8M265.6 149.9H268.8M265.6 158.8H268.8M211.3 185.7H214.5M211.3 195.0H214.5M211.3 204.3H214.5M211.3 213.2H214.5M265.6 185.7H268.8M265.6 195.0H268.8M265.6 204.3H268.8M265.6 213.2H268.8M200.5 448.0H203.7M200.5 457.3H203.7M200.5 466.6H203.7M200.5 475.5H203.7M255.7 448.0H258.9M255.7 457.3H258.9M255.7 466.6H258.9M255.7 475.5H258.9M200.5 503.6H203.7M200.5 512.9H203.7M200.5 522.2H203.7M200.5 531.1H203.7M255.7 503.6H258.9M255.7 512.9H258.9M255.7 522.2H258.9M255.7 531.1H258.9M200.5 557.5H203.7M200.5 566.8H203.7M200.5 576.1H203.7M200.5 585.0H203.7M255.7 557.5H258.9M255.7 566.8H258.9M255.7 576.1H258.9M255.7 585.0H258.9M200.5 611.6H203.7M200.5 620.9H203.7M200.5 630.2H203.7M200.5 639.1H203.7M255.7 611.6H258.9M255.7 620.9H258.9M255.7 630.2H258.9M255.7 639.1H258.9" stroke="#111" stroke-width="0.7" fill="none"/></svg></body></html>
